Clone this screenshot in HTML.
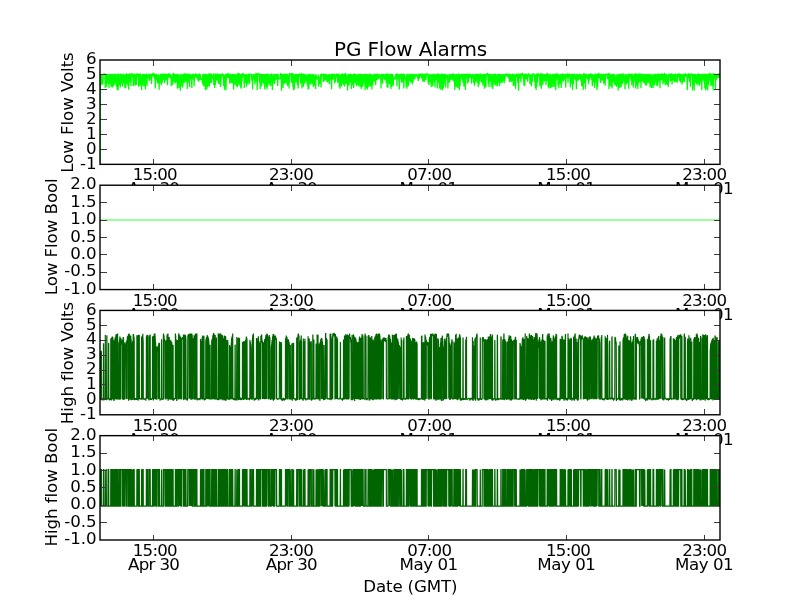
<!DOCTYPE html>
<html><head><meta charset="utf-8"><title>PG Flow Alarms</title>
<style>html,body{margin:0;padding:0;background:#fff;overflow:hidden}svg{display:block}text{font-variant-ligatures:none;font-feature-settings:"liga" 0;font-family:"DejaVu Sans","Liberation Sans",sans-serif;font-size:16.67px;fill:#000}</style></head><body>
<svg width="800" height="600" viewBox="0 0 800 600">
<rect width="800" height="600" fill="#fff"/>
<g>
<rect x="100.00" y="60.00" width="620.00" height="104.35" fill="#fff"/>
<clipPath id="c0"><rect x="100.00" y="60.00" width="620.00" height="104.35"/></clipPath>
<g clip-path="url(#c0)"><polyline points="100.2,167.3 100.2,74.9 100.6,84.4 101.0,74.0 101.4,84.8 101.7,74.6 102.1,84.4 102.5,77.2 102.9,84.6 103.3,74.5 103.6,74.1 104.0,74.2 104.4,73.9 104.8,74.4 105.2,88.0 105.5,74.4 105.9,82.1 106.3,74.3 106.7,87.1 107.1,74.0 107.4,82.5 107.8,74.2 108.2,83.5 108.6,74.2 109.0,88.3 109.3,73.9 109.7,81.5 110.1,73.8 110.5,84.6 110.9,74.2 111.2,87.1 111.6,74.0 112.0,87.3 112.4,73.7 112.8,87.4 113.1,74.4 113.5,86.0 113.9,74.3 114.3,82.4 114.7,73.7 115.0,84.8 115.4,74.0 115.8,81.8 116.2,76.6 116.6,87.3 116.9,73.7 117.3,90.2 117.7,74.0 118.1,90.3 118.5,73.6 118.8,85.3 119.2,74.0 119.6,85.5 120.0,79.4 120.4,87.4 120.7,73.6 121.1,83.7 121.5,73.9 121.9,83.4 122.3,74.6 122.6,86.6 123.0,74.0 123.4,83.4 123.8,73.7 124.2,82.0 124.5,74.4 124.9,88.5 125.3,74.4 125.7,88.1 126.1,74.0 126.4,73.8 126.8,74.1 127.2,84.0 127.6,74.3 128.0,86.6 128.3,74.1 128.7,89.7 129.1,73.7 129.5,74.3 129.9,73.6 130.2,82.3 130.6,78.7 131.0,85.9 131.4,73.8 131.8,73.6 132.1,74.4 132.5,77.4 132.9,73.7 133.3,86.1 133.7,74.5 134.0,82.2 134.4,73.6 134.8,85.2 135.2,74.0 135.6,85.4 135.9,74.4 136.3,85.0 136.7,73.7 137.1,74.3 137.5,73.6 137.8,76.9 138.2,74.1 138.6,86.8 139.0,73.8 139.4,84.4 139.7,73.6 140.1,85.9 140.5,73.6 140.9,84.9 141.3,76.6 141.6,89.9 142.0,74.5 142.4,82.0 142.8,74.0 143.2,86.2 143.5,73.7 143.9,83.9 144.3,74.3 144.7,86.2 145.1,74.0 145.4,89.5 145.8,74.1 146.2,82.2 146.6,73.6 147.0,86.0 147.3,74.2 147.7,78.1 148.1,77.1 148.5,77.7 148.9,73.7 149.2,81.2 149.6,73.8 150.0,79.6 150.4,73.9 150.8,78.2 151.1,73.7 151.5,84.0 151.9,73.7 152.3,74.4 152.7,73.8 153.0,76.3 153.4,73.6 153.8,73.9 154.2,73.9 154.6,78.8 154.9,74.1 155.3,88.6 155.7,74.1 156.1,77.7 156.5,73.8 156.8,80.5 157.2,74.4 157.6,83.5 158.0,76.8 158.4,79.5 158.7,74.2 159.1,89.7 159.5,77.3 159.9,83.5 160.3,74.1 160.6,74.3 161.0,74.3 161.4,85.0 161.8,74.2 162.2,82.8 162.5,73.6 162.9,80.0 163.3,74.3 163.7,74.6 164.1,74.1 164.4,83.2 164.8,73.6 165.2,80.6 165.6,75.7 166.0,77.1 166.3,73.6 166.7,80.1 167.1,74.0 167.5,85.2 167.9,74.0 168.2,78.2 168.6,74.4 169.0,73.7 169.4,74.0 169.8,77.8 170.1,73.7 170.5,78.3 170.9,74.5 171.3,86.1 171.7,78.5 172.0,83.1 172.4,74.6 172.8,85.1 173.2,73.9 173.6,73.6 173.9,74.3 174.3,81.9 174.7,74.0 175.1,83.8 175.5,74.2 175.8,82.1 176.2,74.5 176.6,82.1 177.0,73.8 177.4,88.8 177.7,74.1 178.1,82.7 178.5,74.2 178.9,88.3 179.3,77.5 179.6,84.6 180.0,74.4 180.4,90.7 180.8,73.7 181.2,83.7 181.5,74.6 181.9,85.9 182.3,74.4 182.7,87.6 183.1,73.6 183.4,82.7 183.8,74.5 184.2,83.4 184.6,74.5 185.0,73.7 185.3,73.9 185.7,81.8 186.1,73.7 186.5,82.3 186.9,74.3 187.2,89.1 187.6,73.7 188.0,74.3 188.4,73.8 188.8,82.5 189.1,73.7 189.5,87.1 189.9,73.9 190.3,78.0 190.7,74.5 191.0,79.3 191.4,74.6 191.8,88.1 192.2,74.1 192.6,74.4 192.9,76.3 193.3,79.3 193.7,74.1 194.1,86.3 194.5,74.5 194.8,76.6 195.2,73.8 195.6,74.2 196.0,76.3 196.4,78.3 196.7,73.9 197.1,77.8 197.5,74.5 197.9,80.5 198.3,73.7 198.6,81.8 199.0,73.9 199.4,80.2 199.8,74.3 200.2,74.5 200.5,76.4 200.9,80.1 201.3,79.0 201.7,77.8 202.1,79.8 202.4,83.5 202.8,73.8 203.2,85.5 203.6,74.3 204.0,86.5 204.3,74.1 204.7,86.0 205.1,73.7 205.5,90.3 205.9,74.0 206.2,85.8 206.6,74.2 207.0,89.6 207.4,74.2 207.8,86.9 208.1,76.4 208.5,74.2 208.9,74.4 209.3,86.4 209.7,77.7 210.0,73.9 210.4,73.6 210.8,83.0 211.2,73.8 211.6,82.6 211.9,74.5 212.3,77.4 212.7,75.8 213.1,78.8 213.5,73.6 213.8,85.1 214.2,76.9 214.6,88.0 215.0,73.6 215.4,84.9 215.7,73.7 216.1,74.4 216.5,78.2 216.9,80.7 217.3,74.5 217.6,73.6 218.0,74.2 218.4,83.8 218.8,74.4 219.2,84.5 219.5,73.9 219.9,77.3 220.3,74.5 220.7,87.0 221.1,73.8 221.4,78.7 221.8,74.4 222.2,74.0 222.6,74.1 223.0,73.7 223.3,77.6 223.7,85.9 224.1,74.6 224.5,89.7 224.9,75.6 225.2,86.9 225.6,74.1 226.0,90.5 226.4,73.7 226.8,79.1 227.1,74.0 227.5,73.8 227.9,74.5 228.3,78.0 228.7,73.6 229.0,76.4 229.4,73.6 229.8,83.8 230.2,74.6 230.6,82.7 230.9,73.8 231.3,82.8 231.7,74.4 232.1,83.2 232.5,73.8 232.8,82.4 233.2,74.5 233.6,89.7 234.0,73.9 234.4,84.2 234.7,73.7 235.1,84.9 235.5,74.2 235.9,82.7 236.3,74.5 236.6,86.4 237.0,73.9 237.4,87.1 237.8,73.6 238.2,73.7 238.5,73.7 238.9,85.3 239.3,77.0 239.7,74.3 240.1,74.6 240.4,87.6 240.8,74.3 241.2,88.7 241.6,74.0 242.0,81.6 242.3,73.9 242.7,73.7 243.1,73.7 243.5,77.3 243.9,74.1 244.2,88.1 244.6,74.5 245.0,82.7 245.4,74.5 245.8,83.0 246.1,73.8 246.5,86.9 246.9,74.0 247.3,83.5 247.7,78.6 248.0,84.5 248.4,74.3 248.8,74.5 249.2,74.0 249.6,83.8 249.9,74.4 250.3,74.2 250.7,74.1 251.1,74.3 251.5,74.6 251.8,80.7 252.2,78.3 252.6,89.6 253.0,74.1 253.4,79.2 253.7,74.0 254.1,79.4 254.5,74.1 254.9,84.6 255.3,74.4 255.6,82.1 256.0,73.6 256.4,73.8 256.8,74.4 257.2,89.9 257.5,74.5 257.9,73.9 258.3,74.2 258.7,73.6 259.1,73.9 259.4,82.4 259.8,74.3 260.2,89.3 260.6,74.6 261.0,74.2 261.3,73.9 261.7,86.4 262.1,74.0 262.5,78.5 262.9,74.3 263.2,83.2 263.6,73.9 264.0,84.0 264.4,74.2 264.8,89.4 265.1,74.1 265.5,83.6 265.9,74.0 266.3,87.5 266.7,73.6 267.0,89.6 267.4,73.9 267.8,86.2 268.2,78.3 268.6,73.8 268.9,74.4 269.3,83.6 269.7,77.5 270.1,85.5 270.5,74.0 270.8,86.1 271.2,74.2 271.6,74.5 272.0,73.6 272.4,90.1 272.7,77.5 273.1,83.8 273.5,74.2 273.9,77.0 274.3,74.5 274.6,83.9 275.0,74.1 275.4,79.9 275.8,74.3 276.2,76.4 276.5,74.1 276.9,79.7 277.3,73.8 277.7,86.1 278.1,73.7 278.4,78.8 278.8,78.5 279.2,78.4 279.6,78.6 280.0,78.9 280.3,74.4 280.7,73.7 281.1,74.1 281.5,90.7 281.9,73.8 282.2,77.4 282.6,74.1 283.0,87.9 283.4,74.4 283.8,82.9 284.1,73.6 284.5,83.6 284.9,74.1 285.3,83.5 285.7,73.8 286.0,74.1 286.4,76.9 286.8,83.8 287.2,73.9 287.6,86.0 287.9,74.2 288.3,83.9 288.7,74.5 289.1,88.4 289.5,73.6 289.8,73.6 290.2,73.8 290.6,74.2 291.0,74.1 291.4,82.7 291.7,73.7 292.1,73.8 292.5,73.7 292.9,86.9 293.3,74.3 293.6,90.3 294.0,73.7 294.4,89.5 294.8,79.2 295.2,82.8 295.5,73.9 295.9,82.3 296.3,73.9 296.7,82.3 297.1,74.6 297.4,85.1 297.8,74.1 298.2,88.6 298.6,74.0 299.0,76.6 299.3,73.7 299.7,74.6 300.1,74.1 300.5,83.4 300.9,74.1 301.2,73.7 301.6,74.4 302.0,88.6 302.4,74.4 302.8,74.2 303.1,74.2 303.5,86.7 303.9,73.7 304.3,82.4 304.7,74.1 305.0,83.5 305.4,74.4 305.8,80.6 306.2,74.3 306.6,81.7 306.9,78.1 307.3,85.4 307.7,74.4 308.1,89.6 308.5,73.9 308.8,89.3 309.2,73.9 309.6,82.1 310.0,73.7 310.4,84.5 310.7,73.8 311.1,76.4 311.5,74.6 311.9,84.6 312.3,74.5 312.6,77.8 313.0,73.7 313.4,86.9 313.8,74.3 314.2,85.7 314.5,76.3 314.9,84.4 315.3,74.5 315.7,89.0 316.1,74.2 316.4,78.4 316.8,76.6 317.2,79.2 317.6,78.3 318.0,78.7 318.3,74.4 318.7,86.7 319.1,79.7 319.5,83.8 319.9,76.6 320.2,78.3 320.6,73.9 321.0,87.5 321.4,73.9 321.8,74.6 322.1,74.4 322.5,74.3 322.9,73.8 323.3,81.9 323.7,73.7 324.0,78.6 324.4,74.6 324.8,81.2 325.2,74.4 325.6,74.5 325.9,74.4 326.3,80.2 326.7,74.4 327.1,82.1 327.5,74.6 327.8,82.6 328.2,74.6 328.6,77.9 329.0,74.0 329.4,84.3 329.7,74.3 330.1,78.0 330.5,74.4 330.9,80.5 331.3,74.0 331.6,89.3 332.0,73.9 332.4,80.0 332.8,73.6 333.2,76.3 333.5,74.4 333.9,79.0 334.3,73.9 334.7,83.5 335.1,74.2 335.4,82.0 335.8,74.3 336.2,77.2 336.6,73.6 337.0,77.8 337.3,74.6 337.7,82.7 338.1,74.2 338.5,74.0 338.9,74.6 339.2,87.1 339.6,74.4 340.0,88.8 340.4,76.3 340.8,77.9 341.1,73.7 341.5,86.4 341.9,74.0 342.3,74.5 342.7,73.6 343.0,84.0 343.4,73.9 343.8,85.0 344.2,74.1 344.6,86.6 344.9,73.9 345.3,73.6 345.7,74.3 346.1,84.0 346.5,74.5 346.8,81.3 347.2,77.0 347.6,90.5 348.0,73.7 348.4,84.7 348.7,74.2 349.1,85.8 349.5,74.1 349.9,82.8 350.3,74.4 350.6,74.3 351.0,73.9 351.4,89.0 351.8,74.4 352.2,82.3 352.5,74.5 352.9,85.6 353.3,73.9 353.7,87.9 354.1,74.6 354.4,73.8 354.8,74.5 355.2,83.3 355.6,73.7 356.0,83.7 356.3,74.6 356.7,86.2 357.1,74.4 357.5,82.3 357.9,74.1 358.2,85.3 358.6,73.9 359.0,86.7 359.4,73.9 359.8,82.9 360.1,74.2 360.5,86.8 360.9,73.8 361.3,88.9 361.7,74.3 362.0,86.0 362.4,73.9 362.8,86.9 363.2,74.3 363.6,77.4 363.9,74.3 364.3,83.7 364.7,73.9 365.1,90.2 365.5,74.1 365.8,86.6 366.2,73.9 366.6,88.3 367.0,74.0 367.4,89.6 367.7,74.3 368.1,82.2 368.5,74.5 368.9,87.2 369.3,73.6 369.6,74.5 370.0,73.9 370.4,86.4 370.8,74.5 371.2,85.8 371.5,74.1 371.9,89.4 372.3,74.4 372.7,85.4 373.1,79.3 373.4,81.5 373.8,73.7 374.2,81.8 374.6,74.1 375.0,76.4 375.3,73.7 375.7,85.0 376.1,73.9 376.5,77.2 376.9,73.8 377.2,79.9 377.6,73.6 378.0,77.5 378.4,78.3 378.8,78.0 379.1,74.1 379.5,76.9 379.9,74.6 380.3,79.1 380.7,74.6 381.0,88.6 381.4,74.0 381.8,78.4 382.2,73.9 382.6,83.7 382.9,74.1 383.3,77.1 383.7,73.8 384.1,78.8 384.5,74.6 384.8,80.5 385.2,74.3 385.6,76.5 386.0,73.6 386.4,83.0 386.7,73.7 387.1,87.1 387.5,73.6 387.9,88.1 388.3,74.4 388.6,82.0 389.0,73.7 389.4,84.1 389.8,74.5 390.2,84.2 390.5,73.7 390.9,89.0 391.3,73.8 391.7,86.8 392.1,74.3 392.4,74.6 392.8,74.3 393.2,86.1 393.6,76.5 394.0,77.9 394.3,79.2 394.7,78.3 395.1,79.5 395.5,76.6 395.9,74.2 396.2,74.1 396.6,73.8 397.0,86.6 397.4,73.7 397.8,76.8 398.1,74.0 398.5,79.1 398.9,74.0 399.3,89.6 399.7,77.6 400.0,79.3 400.4,73.8 400.8,77.2 401.2,74.0 401.6,82.8 401.9,73.6 402.3,82.4 402.7,74.3 403.1,78.2 403.5,73.8 403.8,88.6 404.2,74.5 404.6,74.4 405.0,78.0 405.4,79.6 405.7,77.6 406.1,86.9 406.5,74.5 406.9,88.7 407.3,74.4 407.6,74.5 408.0,79.3 408.4,86.1 408.8,74.2 409.2,81.2 409.5,74.0 409.9,80.4 410.3,73.8 410.7,82.5 411.1,74.3 411.4,81.3 411.8,74.2 412.2,84.4 412.6,73.7 413.0,82.8 413.3,73.7 413.7,78.6 414.1,74.1 414.5,78.7 414.9,78.6 415.2,76.9 415.6,74.6 416.0,74.2 416.4,74.4 416.8,76.5 417.1,75.8 417.5,78.2 417.9,74.5 418.3,81.0 418.7,73.9 419.0,78.4 419.4,77.5 419.8,74.2 420.2,74.4 420.6,76.3 420.9,73.9 421.3,78.4 421.7,73.6 422.1,77.7 422.5,73.6 422.8,81.7 423.2,74.0 423.6,81.8 424.0,74.0 424.4,81.8 424.7,73.8 425.1,74.5 425.5,74.4 425.9,80.1 426.3,74.4 426.6,74.3 427.0,73.7 427.4,74.2 427.8,73.9 428.2,83.4 428.5,73.7 428.9,85.1 429.3,74.2 429.7,82.3 430.1,75.8 430.4,81.9 430.8,74.1 431.2,87.0 431.6,74.3 432.0,84.4 432.3,74.5 432.7,86.6 433.1,74.0 433.5,74.5 433.9,74.0 434.2,82.6 434.6,74.4 435.0,87.5 435.4,73.9 435.8,80.0 436.1,75.9 436.5,79.2 436.9,73.8 437.3,88.6 437.7,73.6 438.0,82.0 438.4,73.6 438.8,83.0 439.2,74.5 439.6,88.2 439.9,74.0 440.3,89.4 440.7,74.5 441.1,89.7 441.5,73.6 441.8,86.5 442.2,74.5 442.6,90.3 443.0,73.6 443.4,88.2 443.7,74.1 444.1,84.6 444.5,74.0 444.9,81.8 445.3,74.0 445.6,87.5 446.0,74.0 446.4,78.3 446.8,77.8 447.2,77.5 447.5,74.6 447.9,88.4 448.3,77.8 448.7,78.4 449.1,74.1 449.4,82.6 449.8,73.7 450.2,80.5 450.6,76.8 451.0,76.7 451.3,74.1 451.7,79.7 452.1,74.4 452.5,74.2 452.9,73.6 453.2,81.4 453.6,73.7 454.0,78.8 454.4,73.9 454.8,90.1 455.1,74.2 455.5,85.6 455.9,74.5 456.3,87.0 456.7,73.9 457.0,82.6 457.4,75.6 457.8,88.1 458.2,73.6 458.6,86.3 458.9,74.3 459.3,90.3 459.7,74.1 460.1,85.9 460.5,74.6 460.8,76.3 461.2,74.0 461.6,78.0 462.0,73.7 462.4,80.8 462.7,74.1 463.1,82.9 463.5,73.9 463.9,86.6 464.3,73.7 464.6,85.7 465.0,74.0 465.4,90.0 465.8,73.8 466.2,77.9 466.5,74.3 466.9,74.3 467.3,77.5 467.7,83.5 468.1,73.7 468.4,81.9 468.8,73.9 469.2,78.4 469.6,74.0 470.0,77.8 470.3,74.0 470.7,77.9 471.1,74.2 471.5,83.6 471.9,74.6 472.2,77.5 472.6,73.8 473.0,78.3 473.4,78.6 473.8,83.3 474.1,74.0 474.5,85.8 474.9,74.5 475.3,77.2 475.7,73.8 476.0,82.7 476.4,73.8 476.8,78.7 477.2,74.4 477.6,82.7 477.9,73.8 478.3,87.2 478.7,74.0 479.1,84.8 479.5,74.2 479.8,81.0 480.2,73.7 480.6,76.4 481.0,73.7 481.4,82.7 481.7,74.4 482.1,80.5 482.5,74.6 482.9,85.8 483.3,73.8 483.6,82.8 484.0,73.8 484.4,88.8 484.8,73.8 485.2,86.7 485.5,74.3 485.9,87.6 486.3,74.3 486.7,73.6 487.1,74.5 487.4,73.7 487.8,74.1 488.2,83.8 488.6,73.8 489.0,87.0 489.3,73.7 489.7,81.4 490.1,74.4 490.5,78.8 490.9,74.1 491.2,87.3 491.6,74.0 492.0,82.8 492.4,74.4 492.8,89.0 493.1,74.3 493.5,79.8 493.9,73.7 494.3,84.7 494.7,73.8 495.0,82.1 495.4,73.8 495.8,85.6 496.2,78.7 496.6,83.1 496.9,74.3 497.3,86.6 497.7,73.9 498.1,82.9 498.5,73.8 498.8,81.8 499.2,74.1 499.6,85.9 500.0,73.9 500.4,82.8 500.7,74.2 501.1,81.6 501.5,74.4 501.9,83.4 502.3,74.1 502.6,81.9 503.0,74.2 503.4,76.8 503.8,74.1 504.2,83.2 504.5,74.0 504.9,80.6 505.3,74.3 505.7,76.5 506.1,73.7 506.4,74.5 506.8,73.6 507.2,76.4 507.6,74.5 508.0,77.3 508.3,73.7 508.7,78.4 509.1,73.6 509.5,82.0 509.9,74.4 510.2,79.6 510.6,74.0 511.0,82.1 511.4,74.5 511.8,80.8 512.1,79.7 512.5,74.3 512.9,73.8 513.3,86.1 513.7,74.0 514.0,85.9 514.4,74.5 514.8,83.4 515.2,74.4 515.6,88.7 515.9,74.3 516.3,74.2 516.7,74.3 517.1,76.7 517.5,76.5 517.8,82.7 518.2,73.6 518.6,90.7 519.0,73.9 519.4,74.6 519.7,74.2 520.1,78.6 520.5,73.6 520.9,82.4 521.3,74.2 521.6,74.4 522.0,73.6 522.4,73.7 522.8,73.9 523.2,78.9 523.5,73.9 523.9,85.5 524.3,73.7 524.7,85.9 525.1,74.6 525.4,74.1 525.8,74.4 526.2,79.2 526.6,74.1 527.0,78.5 527.3,74.3 527.7,81.8 528.1,74.5 528.5,73.6 528.9,74.2 529.2,76.4 529.6,74.2 530.0,84.2 530.4,74.2 530.8,83.4 531.1,74.3 531.5,86.6 531.9,74.6 532.3,81.9 532.7,73.6 533.0,73.8 533.4,74.1 533.8,74.3 534.2,74.2 534.6,81.6 534.9,74.6 535.3,87.9 535.7,74.3 536.1,89.9 536.5,73.6 536.8,86.8 537.2,73.7 537.6,81.9 538.0,73.9 538.4,74.1 538.7,74.1 539.1,76.3 539.5,74.2 539.9,86.6 540.3,74.4 540.6,73.9 541.0,73.8 541.4,88.7 541.8,74.5 542.2,74.1 542.5,74.1 542.9,85.0 543.3,74.0 543.7,78.2 544.1,74.1 544.4,81.5 544.8,74.3 545.2,77.8 545.6,74.1 546.0,84.9 546.3,73.8 546.7,81.1 547.1,74.3 547.5,73.6 547.9,74.0 548.2,87.0 548.6,74.3 549.0,88.5 549.4,74.6 549.8,85.8 550.1,73.8 550.5,88.3 550.9,73.9 551.3,87.6 551.7,76.4 552.0,84.3 552.4,74.1 552.8,87.0 553.2,74.6 553.6,82.6 553.9,73.6 554.3,86.9 554.7,73.9 555.1,83.5 555.5,74.0 555.8,90.2 556.2,73.6 556.6,79.5 557.0,74.2 557.4,74.0 557.7,73.9 558.1,85.2 558.5,74.6 558.9,88.2 559.3,74.4 559.6,84.0 560.0,74.0 560.4,82.1 560.8,74.4 561.2,88.0 561.5,74.1 561.9,83.6 562.3,74.1 562.7,74.2 563.1,73.9 563.4,81.2 563.8,73.8 564.2,79.4 564.6,74.5 565.0,78.5 565.3,74.0 565.7,87.5 566.1,73.7 566.5,77.7 566.9,73.7 567.2,74.5 567.6,73.7 568.0,82.8 568.4,73.7 568.8,76.5 569.1,74.2 569.5,77.7 569.9,73.9 570.3,87.3 570.7,77.0 571.0,77.6 571.4,73.7 571.8,83.5 572.2,73.8 572.6,90.1 572.9,74.0 573.3,84.2 573.7,78.5 574.1,74.4 574.5,74.2 574.8,79.0 575.2,74.4 575.6,80.2 576.0,77.5 576.4,89.2 576.7,74.1 577.1,81.7 577.5,74.1 577.9,79.3 578.3,74.2 578.6,80.4 579.0,74.5 579.4,77.9 579.8,73.8 580.2,79.2 580.5,74.1 580.9,80.6 581.3,74.5 581.7,86.1 582.1,74.3 582.4,85.8 582.8,74.2 583.2,90.1 583.6,73.9 584.0,73.7 584.3,74.4 584.7,83.1 585.1,74.3 585.5,89.1 585.9,74.0 586.2,74.2 586.6,74.5 587.0,76.5 587.4,79.2 587.8,76.6 588.1,74.4 588.5,84.3 588.9,74.1 589.3,80.4 589.7,73.9 590.0,78.1 590.4,74.3 590.8,73.6 591.2,74.4 591.6,79.8 591.9,73.9 592.3,86.3 592.7,74.1 593.1,81.6 593.5,79.0 593.8,82.7 594.2,74.5 594.6,87.9 595.0,74.2 595.4,74.2 595.7,74.2 596.1,82.9 596.5,74.5 596.9,90.1 597.3,73.8 597.6,87.3 598.0,73.9 598.4,73.6 598.8,74.2 599.2,78.3 599.5,73.6 599.9,79.2 600.3,74.1 600.7,82.9 601.1,73.7 601.4,80.2 601.8,74.5 602.2,80.4 602.6,73.7 603.0,80.6 603.3,73.9 603.7,83.6 604.1,74.6 604.5,77.5 604.9,74.2 605.2,85.8 605.6,74.0 606.0,74.0 606.4,74.4 606.8,74.3 607.1,74.5 607.5,79.2 607.9,73.9 608.3,73.8 608.7,73.6 609.0,88.9 609.4,74.1 609.8,86.2 610.2,74.3 610.6,74.6 610.9,74.3 611.3,86.9 611.7,74.6 612.1,88.4 612.5,74.2 612.8,81.5 613.2,73.8 613.6,82.0 614.0,73.8 614.4,84.4 614.7,74.6 615.1,85.4 615.5,79.2 615.9,84.4 616.3,74.5 616.6,86.8 617.0,77.4 617.4,83.6 617.8,73.9 618.2,90.4 618.5,74.1 618.9,87.3 619.3,74.4 619.7,87.9 620.1,73.7 620.4,84.1 620.8,74.3 621.2,87.2 621.6,73.6 622.0,83.5 622.3,74.4 622.7,83.9 623.1,73.6 623.5,74.6 623.9,74.2 624.2,81.9 624.6,77.0 625.0,89.3 625.4,73.9 625.8,77.4 626.1,74.5 626.5,84.4 626.9,74.2 627.3,82.9 627.7,74.3 628.0,81.5 628.4,73.6 628.8,88.8 629.2,73.8 629.6,77.8 629.9,73.8 630.3,77.9 630.7,73.7 631.1,80.6 631.5,73.9 631.8,85.2 632.2,73.6 632.6,83.2 633.0,75.9 633.4,87.5 633.7,74.2 634.1,81.8 634.5,73.7 634.9,74.2 635.3,74.1 635.6,88.6 636.0,74.3 636.4,84.7 636.8,73.6 637.2,86.0 637.5,73.9 637.9,89.0 638.3,73.9 638.7,83.5 639.1,73.9 639.4,74.0 639.8,74.5 640.2,82.3 640.6,74.3 641.0,88.2 641.3,73.6 641.7,74.6 642.1,74.5 642.5,81.4 642.9,74.6 643.2,81.9 643.6,74.1 644.0,83.6 644.4,74.2 644.8,83.0 645.1,74.1 645.5,85.2 645.9,74.1 646.3,85.8 646.7,74.4 647.0,77.4 647.4,74.1 647.8,83.1 648.2,74.3 648.6,78.4 648.9,73.9 649.3,83.5 649.7,74.3 650.1,87.6 650.5,74.2 650.8,85.1 651.2,73.8 651.6,88.1 652.0,79.8 652.4,85.3 652.7,74.4 653.1,88.0 653.5,74.4 653.9,84.2 654.3,73.8 654.6,85.5 655.0,74.5 655.4,78.4 655.8,73.8 656.2,83.1 656.5,74.5 656.9,86.3 657.3,74.0 657.7,85.8 658.1,73.7 658.4,74.0 658.8,74.2 659.2,81.6 659.6,74.0 660.0,88.2 660.3,73.9 660.7,80.4 661.1,73.6 661.5,80.3 661.9,73.8 662.2,74.5 662.6,73.7 663.0,84.4 663.4,73.7 663.8,82.8 664.1,74.6 664.5,73.6 664.9,73.9 665.3,85.2 665.7,74.2 666.0,84.6 666.4,74.1 666.8,84.1 667.2,78.5 667.6,84.9 667.9,74.2 668.3,86.9 668.7,74.6 669.1,74.4 669.5,74.5 669.8,73.9 670.2,79.6 670.6,81.5 671.0,74.0 671.4,73.9 671.7,74.3 672.1,84.5 672.5,73.9 672.9,78.1 673.3,74.4 673.6,80.8 674.0,74.4 674.4,82.1 674.8,73.9 675.2,74.2 675.5,74.3 675.9,82.4 676.3,79.5 676.7,76.3 677.1,73.8 677.4,82.4 677.8,73.7 678.2,74.4 678.6,77.2 679.0,73.9 679.3,73.6 679.7,81.0 680.1,73.6 680.5,82.5 680.9,74.1 681.2,80.8 681.6,74.5 682.0,84.5 682.4,74.3 682.8,82.6 683.1,74.4 683.5,74.4 683.9,74.3 684.3,82.2 684.7,74.1 685.0,76.7 685.4,73.6 685.8,74.6 686.2,73.8 686.6,77.0 686.9,74.1 687.3,90.3 687.7,74.4 688.1,78.6 688.5,73.8 688.8,73.9 689.2,77.0 689.6,81.9 690.0,73.7 690.4,86.7 690.7,74.5 691.1,74.0 691.5,73.9 691.9,74.4 692.3,73.8 692.6,90.4 693.0,73.7 693.4,84.1 693.8,74.0 694.2,90.5 694.5,74.3 694.9,78.1 695.3,74.0 695.7,82.7 696.1,73.9 696.4,84.3 696.8,78.9 697.2,82.8 697.6,73.8 698.0,85.6 698.3,73.7 698.7,74.1 699.1,74.4 699.5,85.6 699.9,74.4 700.2,83.0 700.6,74.1 701.0,80.1 701.4,74.0 701.8,89.9 702.1,74.4 702.5,80.3 702.9,73.7 703.3,78.2 703.7,74.4 704.0,81.7 704.4,73.8 704.8,88.3 705.2,73.7 705.6,90.2 705.9,73.7 706.3,89.0 706.7,74.1 707.1,84.0 707.5,74.4 707.8,90.4 708.2,73.6 708.6,84.7 709.0,74.2 709.4,73.7 709.7,73.7 710.1,80.6 710.5,73.9 710.9,86.1 711.3,73.6 711.6,80.3 712.0,73.8 712.4,86.2 712.8,73.8 713.2,90.4 713.5,73.8 713.9,74.0 714.3,73.7 714.7,78.6 715.1,73.8 715.4,89.7 715.8,74.5 716.2,77.2 716.6,79.7 717.0,77.6 717.3,74.4 717.7,77.7 718.1,74.0 718.5,74.0 718.9,74.1 719.2,78.0 719.6,74.1 720.0,73.6" fill="none" stroke="#00ff00" stroke-width="1.25" stroke-linejoin="miter" stroke-miterlimit="2"/></g>
<path d="M153.40 164.35v-5.5M153.40 60.00v5.5M291.15 164.35v-5.5M291.15 60.00v5.5M428.90 164.35v-5.5M428.90 60.00v5.5M566.65 164.35v-5.5M566.65 60.00v5.5M704.40 164.35v-5.5M704.40 60.00v5.5M100.00 149.44h6.9M720.00 149.44h-6.3M100.00 134.53h6.9M720.00 134.53h-6.3M100.00 119.63h6.9M720.00 119.63h-6.3M100.00 104.72h6.9M720.00 104.72h-6.3M100.00 89.81h6.9M720.00 89.81h-6.3M100.00 74.91h6.9M720.00 74.91h-6.3" stroke="#3c3c3c" stroke-width="1" fill="none" shape-rendering="crispEdges"/>
<rect x="100.00" y="60.00" width="620.00" height="104.35" fill="none" stroke="#000" stroke-width="1.39"/>
<text x="154.80" y="179.75" text-anchor="middle" style="letter-spacing:-0.8px">15:00</text><text x="153.60" y="193.75" text-anchor="middle" style="letter-spacing:-0.65px">Apr 30</text>
<text x="290.95" y="179.75" text-anchor="middle" style="letter-spacing:-0.8px">23:00</text><text x="291.35" y="193.75" text-anchor="middle" style="letter-spacing:-0.65px">Apr 30</text>
<text x="429.20" y="179.75" text-anchor="middle" style="letter-spacing:-0.8px">07:00</text><text x="428.60" y="193.75" text-anchor="middle" style="letter-spacing:-0.45px">May 01</text>
<text x="568.05" y="179.75" text-anchor="middle" style="letter-spacing:-0.8px">15:00</text><text x="566.35" y="193.75" text-anchor="middle" style="letter-spacing:-0.45px">May 01</text>
<text x="704.20" y="179.75" text-anchor="middle" style="letter-spacing:-0.8px">23:00</text><text x="704.10" y="193.75" text-anchor="middle" style="letter-spacing:-0.45px">May 01</text>
<text x="96.70" y="168.55" text-anchor="end">-1</text><text x="96.70" y="153.64" text-anchor="end">0</text><text x="96.70" y="138.73" text-anchor="end">1</text><text x="96.70" y="123.83" text-anchor="end">2</text><text x="96.70" y="108.92" text-anchor="end">3</text><text x="96.70" y="94.01" text-anchor="end">4</text><text x="96.70" y="79.11" text-anchor="end">5</text><text x="96.70" y="64.20" text-anchor="end">6</text>
<text transform="translate(73.20 112.57) rotate(-90)" text-anchor="middle" style="letter-spacing:-0.07px">Low Flow Volts</text>
<text x="410.5" y="55.7" text-anchor="middle" style="font-size:20px;letter-spacing:-0.16px">PG Flow Alarms</text>
</g>
<g>
<rect x="100.00" y="185.22" width="620.00" height="104.35" fill="#fff"/>
<clipPath id="c1"><rect x="100.00" y="185.22" width="620.00" height="104.35"/></clipPath>
<g clip-path="url(#c1)"><polyline points="100.0,220.0 720.0,220.0" fill="none" stroke="#78ff78" stroke-width="1.39" stroke-linejoin="miter" stroke-miterlimit="2"/></g>
<path d="M153.40 289.57v-5.5M153.40 185.22v5.5M291.15 289.57v-5.5M291.15 185.22v5.5M428.90 289.57v-5.5M428.90 185.22v5.5M566.65 289.57v-5.5M566.65 185.22v5.5M704.40 289.57v-5.5M704.40 185.22v5.5M100.00 272.17h6.9M720.00 272.17h-6.3M100.00 254.78h6.9M720.00 254.78h-6.3M100.00 237.39h6.9M720.00 237.39h-6.3M100.00 220.00h6.9M720.00 220.00h-6.3M100.00 202.61h6.9M720.00 202.61h-6.3" stroke="#3c3c3c" stroke-width="1" fill="none" shape-rendering="crispEdges"/>
<rect x="100.00" y="185.22" width="620.00" height="104.35" fill="none" stroke="#000" stroke-width="1.39"/>
<text x="154.80" y="305.97" text-anchor="middle" style="letter-spacing:-0.8px">15:00</text><text x="153.60" y="319.97" text-anchor="middle" style="letter-spacing:-0.65px">Apr 30</text>
<text x="290.95" y="305.97" text-anchor="middle" style="letter-spacing:-0.8px">23:00</text><text x="291.35" y="319.97" text-anchor="middle" style="letter-spacing:-0.65px">Apr 30</text>
<text x="429.20" y="305.97" text-anchor="middle" style="letter-spacing:-0.8px">07:00</text><text x="428.60" y="319.97" text-anchor="middle" style="letter-spacing:-0.45px">May 01</text>
<text x="568.05" y="305.97" text-anchor="middle" style="letter-spacing:-0.8px">15:00</text><text x="566.35" y="319.97" text-anchor="middle" style="letter-spacing:-0.45px">May 01</text>
<text x="704.20" y="305.97" text-anchor="middle" style="letter-spacing:-0.8px">23:00</text><text x="704.10" y="319.97" text-anchor="middle" style="letter-spacing:-0.45px">May 01</text>
<text x="96.70" y="293.77" text-anchor="end">-1.0</text><text x="96.70" y="276.37" text-anchor="end">-0.5</text><text x="96.70" y="258.98" text-anchor="end">0.0</text><text x="96.70" y="241.59" text-anchor="end">0.5</text><text x="96.70" y="224.20" text-anchor="end">1.0</text><text x="96.70" y="206.81" text-anchor="end">1.5</text><text x="96.70" y="189.42" text-anchor="end">2.0</text>
<text transform="translate(57.00 236.79) rotate(-90)" text-anchor="middle" style="letter-spacing:-0.07px">Low Flow Bool</text>
</g>
<g>
<rect x="100.00" y="310.43" width="620.00" height="104.35" fill="#fff"/>
<clipPath id="c2"><rect x="100.00" y="310.43" width="620.00" height="104.35"/></clipPath>
<g clip-path="url(#c2)"><polyline points="100.4,353.9 100.5,399.4 100.7,353.8 100.8,351.0 100.9,399.4 101.0,398.7 101.2,398.4 101.3,350.7 101.4,353.6 101.6,398.7 101.7,399.1 101.8,399.4 102.0,399.0 102.1,398.8 102.2,400.5 102.3,398.5 102.5,398.5 102.6,398.8 102.7,398.9 102.9,398.3 103.0,398.6 103.1,399.3 103.3,399.7 103.4,398.7 103.5,343.3 103.6,344.9 103.8,398.8 103.9,400.4 104.0,399.3 104.2,398.4 104.3,399.4 104.4,399.3 104.6,398.5 104.7,398.5 104.8,399.4 104.9,398.4 105.1,398.8 105.2,398.4 105.3,334.9 105.5,399.0 105.6,399.5 105.7,398.5 105.9,398.7 106.0,398.5 106.1,398.3 106.2,398.5 106.4,399.0 106.5,398.2 106.6,400.3 106.8,335.4 106.9,335.7 107.0,398.6 107.2,398.5 107.3,398.9 107.4,398.6 107.5,399.1 107.7,398.5 107.8,398.9 107.9,399.3 108.1,399.1 108.2,399.4 108.3,398.6 108.5,399.2 108.6,342.9 108.7,345.2 108.8,399.2 109.0,399.0 109.1,399.3 109.2,398.7 109.4,399.2 109.5,398.8 109.6,400.5 109.8,398.9 109.9,398.7 110.0,398.7 110.1,399.0 110.3,399.5 110.4,399.3 110.5,399.2 110.7,399.3 110.8,338.4 110.9,339.8 111.1,338.7 111.2,339.3 111.3,339.7 111.4,338.1 111.6,400.5 111.7,399.0 111.8,399.0 112.0,337.5 112.1,336.9 112.2,398.5 112.4,336.5 112.5,398.4 112.6,399.2 112.7,337.9 112.9,337.4 113.0,341.9 113.1,398.8 113.3,399.3 113.4,342.2 113.5,340.3 113.7,342.9 113.8,343.8 113.9,399.0 114.0,400.9 114.2,398.4 114.3,341.7 114.4,341.9 114.6,341.1 114.7,341.5 114.8,340.7 115.0,338.9 115.1,337.6 115.2,399.0 115.3,399.1 115.5,339.6 115.6,339.0 115.7,337.6 115.9,336.1 116.0,334.5 116.1,398.5 116.3,399.3 116.4,398.7 116.5,336.7 116.6,336.8 116.8,334.1 116.9,337.2 117.0,398.8 117.2,399.1 117.3,399.3 117.4,336.8 117.6,333.5 117.7,399.3 117.8,398.7 117.9,399.4 118.1,341.7 118.2,345.1 118.3,399.3 118.5,399.1 118.6,398.8 118.7,398.3 118.9,398.9 119.0,398.4 119.1,398.5 119.2,398.6 119.4,398.3 119.5,339.3 119.6,340.9 119.8,339.0 119.9,336.6 120.0,399.2 120.2,399.2 120.3,398.8 120.4,398.6 120.5,339.8 120.7,343.7 120.8,337.8 120.9,340.6 121.1,341.3 121.2,339.5 121.3,344.8 121.5,341.7 121.6,343.1 121.7,341.6 121.8,340.6 122.0,341.8 122.1,399.1 122.2,398.9 122.4,340.2 122.5,399.0 122.6,339.8 122.8,398.8 122.9,339.9 123.0,338.5 123.1,400.1 123.3,337.1 123.4,338.0 123.5,338.1 123.7,398.8 123.8,399.4 123.9,399.2 124.1,399.0 124.2,398.3 124.3,398.7 124.4,342.6 124.6,343.4 124.7,398.4 124.8,399.4 125.0,348.3 125.1,345.7 125.2,347.1 125.4,346.5 125.5,345.7 125.6,344.9 125.7,345.6 125.9,344.4 126.0,343.9 126.1,341.4 126.3,398.4 126.4,342.1 126.5,399.1 126.7,398.3 126.8,399.2 126.9,340.0 127.0,398.5 127.2,398.5 127.3,339.7 127.4,336.8 127.6,336.7 127.7,339.8 127.8,336.0 128.0,340.4 128.1,336.6 128.2,337.5 128.3,335.7 128.5,334.3 128.6,400.7 128.7,398.7 128.9,399.2 129.0,333.5 129.1,336.2 129.3,334.6 129.4,334.1 129.5,398.6 129.6,398.7 129.8,398.3 129.9,399.4 130.0,399.2 130.2,399.3 130.3,398.7 130.4,398.9 130.6,335.6 130.7,335.9 130.8,336.5 130.9,340.2 131.1,340.3 131.2,339.4 131.3,344.7 131.5,398.3 131.6,400.3 131.7,345.6 131.9,398.3 132.0,343.4 132.1,398.8 132.2,398.4 132.4,343.0 132.5,398.8 132.6,341.3 132.8,399.2 132.9,398.3 133.0,400.0 133.2,333.9 133.3,398.3 133.4,398.4 133.5,334.4 133.7,336.3 133.8,336.7 133.9,337.3 134.1,338.2 134.2,341.9 134.3,398.6 134.5,400.2 134.6,399.3 134.7,398.9 134.8,398.4 135.0,399.3 135.1,399.4 135.2,398.7 135.4,398.3 135.5,399.3 135.6,398.5 135.8,398.2 135.9,399.3 136.0,399.3 136.1,398.7 136.3,399.4 136.4,399.5 136.5,399.1 136.7,399.3 136.8,398.4 136.9,335.3 137.1,398.7 137.2,400.0 137.3,338.1 137.4,338.1 137.6,337.5 137.7,337.1 137.8,336.8 138.0,335.2 138.1,400.8 138.2,337.2 138.4,334.8 138.5,338.4 138.6,398.7 138.7,398.8 138.9,399.0 139.0,336.6 139.1,337.6 139.3,335.0 139.4,398.7 139.5,398.7 139.7,398.9 139.8,399.4 139.9,399.1 140.0,398.4 140.2,398.7 140.3,399.1 140.4,398.8 140.6,398.5 140.7,399.0 140.8,398.4 141.0,398.3 141.1,399.3 141.2,399.4 141.3,398.6 141.5,398.9 141.6,336.7 141.7,398.5 141.9,336.8 142.0,336.7 142.1,337.4 142.3,399.2 142.4,399.4 142.5,336.4 142.6,336.5 142.8,333.7 142.9,338.2 143.0,338.4 143.2,342.8 143.3,399.1 143.4,398.3 143.6,399.4 143.7,399.2 143.8,398.8 143.9,398.3 144.1,399.3 144.2,399.9 144.3,398.7 144.5,399.4 144.6,398.4 144.7,399.4 144.9,398.3 145.0,399.2 145.1,398.3 145.2,398.7 145.4,399.3 145.5,398.5 145.6,399.3 145.8,398.6 145.9,400.8 146.0,398.3 146.2,398.4 146.3,398.7 146.4,337.8 146.5,336.8 146.7,336.7 146.8,336.0 146.9,335.0 147.1,335.9 147.2,398.3 147.3,336.0 147.5,336.8 147.6,398.8 147.7,335.1 147.8,398.6 148.0,398.3 148.1,398.4 148.2,399.0 148.4,398.6 148.5,399.1 148.6,398.6 148.8,399.2 148.9,398.6 149.0,400.5 149.1,337.5 149.3,335.9 149.4,337.1 149.5,336.7 149.7,337.8 149.8,335.2 149.9,335.5 150.1,334.6 150.2,337.7 150.3,399.9 150.4,398.9 150.6,398.8 150.7,398.6 150.8,399.1 151.0,398.8 151.1,398.6 151.2,399.0 151.4,399.4 151.5,399.4 151.6,398.3 151.7,399.2 151.9,399.1 152.0,398.7 152.1,398.5 152.3,398.4 152.4,398.5 152.5,337.3 152.7,399.0 152.8,339.2 152.9,336.1 153.0,337.5 153.2,339.6 153.3,398.4 153.4,400.4 153.6,398.8 153.7,399.1 153.8,398.6 154.0,398.3 154.1,339.0 154.2,334.0 154.3,338.4 154.5,336.0 154.6,399.0 154.7,333.5 154.9,334.2 155.0,336.3 155.1,336.2 155.3,340.3 155.4,341.8 155.5,341.6 155.6,343.4 155.8,398.4 155.9,399.5 156.0,399.0 156.2,398.7 156.3,398.4 156.4,346.4 156.6,399.0 156.7,399.8 156.8,348.2 156.9,348.9 157.1,347.1 157.2,347.6 157.3,347.1 157.5,349.2 157.6,352.3 157.7,348.3 157.9,347.8 158.0,346.2 158.1,345.9 158.2,399.2 158.4,398.3 158.5,345.5 158.6,344.6 158.8,347.3 158.9,342.8 159.0,398.4 159.2,344.5 159.3,342.7 159.4,344.7 159.5,343.0 159.7,399.0 159.8,398.5 159.9,398.2 160.1,400.8 160.2,399.3 160.3,399.0 160.5,398.4 160.6,398.7 160.7,398.9 160.8,399.1 161.0,398.9 161.1,399.3 161.2,398.5 161.4,399.4 161.5,399.3 161.6,339.3 161.8,399.4 161.9,399.3 162.0,398.9 162.1,398.9 162.3,398.9 162.4,399.1 162.5,399.2 162.7,398.8 162.8,398.6 162.9,399.9 163.1,398.3 163.2,398.9 163.3,398.8 163.4,335.6 163.6,333.5 163.7,398.6 163.8,336.7 164.0,335.5 164.1,339.5 164.2,338.9 164.4,339.6 164.5,340.6 164.6,339.5 164.7,340.3 164.9,340.8 165.0,341.3 165.1,341.8 165.3,398.3 165.4,399.1 165.5,399.3 165.7,340.5 165.8,342.7 165.9,398.5 166.0,398.9 166.2,398.6 166.3,399.3 166.4,398.3 166.6,398.7 166.7,340.3 166.8,398.5 167.0,335.5 167.1,398.8 167.2,335.1 167.3,334.4 167.5,398.6 167.6,398.3 167.7,398.4 167.9,334.6 168.0,333.5 168.1,400.7 168.3,398.4 168.4,398.7 168.5,337.7 168.6,338.5 168.8,336.9 168.9,398.8 169.0,399.3 169.2,337.1 169.3,399.1 169.4,340.2 169.6,340.2 169.7,340.0 169.8,339.4 169.9,398.8 170.1,399.3 170.2,341.1 170.3,342.0 170.5,340.3 170.6,399.2 170.7,340.2 170.9,399.2 171.0,399.4 171.1,398.6 171.2,399.3 171.4,398.3 171.5,341.4 171.6,344.3 171.8,342.4 171.9,398.8 172.0,399.6 172.2,399.0 172.3,399.2 172.4,398.4 172.5,398.7 172.7,399.2 172.8,399.8 172.9,345.2 173.1,344.9 173.2,400.9 173.3,398.6 173.5,398.2 173.6,398.8 173.7,399.5 173.8,398.4 174.0,399.7 174.1,399.2 174.2,399.3 174.4,399.2 174.5,399.2 174.6,398.7 174.8,398.3 174.9,398.6 175.0,398.4 175.1,398.5 175.3,399.1 175.4,333.5 175.5,337.6 175.7,335.4 175.8,398.6 175.9,398.5 176.1,339.4 176.2,341.1 176.3,340.2 176.4,398.6 176.6,398.4 176.7,400.9 176.8,399.3 177.0,344.4 177.1,345.2 177.2,343.3 177.4,343.9 177.5,341.0 177.6,340.1 177.7,341.7 177.9,341.6 178.0,341.0 178.1,398.8 178.3,398.9 178.4,398.6 178.5,337.7 178.7,334.4 178.8,333.9 178.9,333.5 179.0,336.1 179.2,336.5 179.3,399.3 179.4,335.9 179.6,398.4 179.7,335.4 179.8,336.8 180.0,336.3 180.1,338.9 180.2,339.3 180.3,399.0 180.5,336.7 180.6,339.4 180.7,337.6 180.9,338.6 181.0,399.0 181.1,399.2 181.3,398.6 181.4,398.6 181.5,399.4 181.6,399.1 181.8,398.3 181.9,338.5 182.0,338.6 182.2,338.1 182.3,338.3 182.4,337.6 182.6,337.3 182.7,339.4 182.8,336.9 182.9,337.5 183.1,338.5 183.2,337.6 183.3,338.4 183.5,334.6 183.6,399.2 183.7,399.3 183.9,398.7 184.0,335.6 184.1,336.1 184.2,337.7 184.4,334.8 184.5,398.3 184.6,399.2 184.8,335.8 184.9,334.5 185.0,399.4 185.2,336.8 185.3,335.1 185.4,398.4 185.5,398.5 185.7,336.2 185.8,338.4 185.9,339.2 186.1,398.8 186.2,399.2 186.3,399.2 186.5,398.4 186.6,399.0 186.7,399.4 186.8,399.2 187.0,399.8 187.1,398.5 187.2,400.7 187.4,399.3 187.5,399.0 187.6,398.8 187.8,339.1 187.9,335.4 188.0,338.1 188.1,335.7 188.3,334.3 188.4,335.5 188.5,337.8 188.7,337.5 188.8,336.7 188.9,336.9 189.1,335.6 189.2,398.7 189.3,337.3 189.4,334.1 189.6,338.2 189.7,336.9 189.8,333.5 190.0,398.7 190.1,333.8 190.2,334.8 190.4,333.5 190.5,336.4 190.6,333.5 190.7,335.1 190.9,334.8 191.0,335.1 191.1,400.0 191.3,333.5 191.4,336.3 191.5,334.8 191.7,335.0 191.8,333.5 191.9,337.5 192.0,335.5 192.2,334.9 192.3,398.7 192.4,399.2 192.6,398.4 192.7,398.4 192.8,338.2 193.0,399.1 193.1,399.4 193.2,338.5 193.3,341.1 193.5,338.7 193.6,338.6 193.7,341.3 193.9,338.8 194.0,339.3 194.1,335.3 194.3,338.2 194.4,398.4 194.5,398.6 194.6,398.4 194.8,399.7 194.9,398.5 195.0,336.6 195.2,336.6 195.3,337.2 195.4,333.7 195.6,336.9 195.7,333.5 195.8,398.6 195.9,399.0 196.1,398.8 196.2,399.1 196.3,398.4 196.5,398.6 196.6,398.7 196.7,334.2 196.9,334.2 197.0,398.3 197.1,398.9 197.2,400.5 197.4,399.4 197.5,398.5 197.6,399.1 197.8,399.0 197.9,398.3 198.0,398.6 198.2,399.4 198.3,399.3 198.4,399.1 198.5,398.6 198.7,398.6 198.8,398.8 198.9,399.7 199.1,398.7 199.2,399.0 199.3,399.0 199.5,398.8 199.6,399.1 199.7,399.4 199.8,400.2 200.0,398.4 200.1,398.5 200.2,399.1 200.4,398.2 200.5,339.3 200.6,399.0 200.8,338.7 200.9,399.1 201.0,341.0 201.1,342.4 201.3,398.4 201.4,399.2 201.5,341.1 201.7,398.6 201.8,342.6 201.9,398.7 202.1,398.5 202.2,399.4 202.3,336.9 202.4,337.0 202.6,399.0 202.7,335.5 202.8,337.7 203.0,398.4 203.1,399.1 203.2,399.3 203.4,398.3 203.5,399.0 203.6,398.4 203.7,338.9 203.9,335.7 204.0,340.9 204.1,399.3 204.3,398.8 204.4,400.5 204.5,398.6 204.7,399.3 204.8,399.3 204.9,399.3 205.0,398.4 205.2,399.7 205.3,398.7 205.4,398.5 205.6,399.4 205.7,399.2 205.8,340.1 206.0,342.1 206.1,339.4 206.2,338.7 206.3,338.4 206.5,337.5 206.6,398.6 206.7,398.9 206.9,398.4 207.0,398.6 207.1,335.3 207.3,335.6 207.4,398.5 207.5,337.6 207.6,336.2 207.8,338.6 207.9,336.5 208.0,338.4 208.2,399.2 208.3,339.1 208.4,338.1 208.6,340.5 208.7,339.8 208.8,343.6 208.9,342.5 209.1,398.7 209.2,398.8 209.3,398.4 209.5,398.5 209.6,344.8 209.7,399.3 209.9,399.1 210.0,347.0 210.1,344.8 210.2,398.2 210.4,399.0 210.5,398.3 210.6,398.7 210.8,399.0 210.9,398.5 211.0,399.3 211.2,398.9 211.3,398.9 211.4,398.4 211.5,398.5 211.7,341.8 211.8,340.6 211.9,340.2 212.1,340.4 212.2,340.2 212.3,338.5 212.5,399.3 212.6,398.9 212.7,337.7 212.8,335.2 213.0,399.4 213.1,398.5 213.2,399.1 213.4,335.7 213.5,333.5 213.6,333.5 213.8,398.8 213.9,333.5 214.0,334.4 214.1,398.3 214.3,335.0 214.4,398.7 214.5,399.5 214.7,398.5 214.8,335.3 214.9,336.1 215.1,335.3 215.2,335.1 215.3,399.3 215.4,399.2 215.6,398.5 215.7,398.3 215.8,399.3 216.0,398.5 216.1,398.5 216.2,339.0 216.4,337.5 216.5,399.4 216.6,398.6 216.7,398.5 216.9,399.1 217.0,398.4 217.1,399.2 217.3,399.4 217.4,399.1 217.5,398.6 217.7,399.2 217.8,400.0 217.9,399.4 218.0,398.4 218.2,335.3 218.3,333.5 218.4,336.1 218.6,336.8 218.7,398.8 218.8,398.8 219.0,400.1 219.1,399.0 219.2,399.2 219.3,398.5 219.5,333.5 219.6,335.6 219.7,334.3 219.9,335.3 220.0,398.5 220.1,399.0 220.3,398.3 220.4,398.6 220.5,399.3 220.6,398.9 220.8,333.5 220.9,335.7 221.0,334.3 221.2,399.3 221.3,398.7 221.4,399.2 221.6,398.6 221.7,398.6 221.8,398.8 221.9,336.5 222.1,334.9 222.2,337.4 222.3,335.3 222.5,336.4 222.6,336.9 222.7,398.8 222.9,400.3 223.0,398.4 223.1,400.2 223.2,399.3 223.4,398.3 223.5,399.2 223.6,339.9 223.8,338.7 223.9,338.0 224.0,340.2 224.2,398.8 224.3,336.4 224.4,335.6 224.5,399.4 224.7,399.4 224.8,398.5 224.9,399.1 225.1,398.8 225.2,400.8 225.3,336.2 225.5,337.0 225.6,338.3 225.7,336.4 225.8,398.2 226.0,400.7 226.1,400.1 226.2,398.5 226.4,339.9 226.5,398.8 226.6,398.3 226.8,398.7 226.9,398.9 227.0,399.0 227.1,342.7 227.3,342.3 227.4,345.4 227.5,398.8 227.7,339.8 227.8,398.5 227.9,341.8 228.1,399.2 228.2,399.4 228.3,399.2 228.4,398.5 228.6,399.6 228.7,398.3 228.8,398.7 229.0,398.3 229.1,398.4 229.2,399.8 229.4,398.5 229.5,399.3 229.6,345.0 229.7,346.1 229.9,399.2 230.0,398.3 230.1,398.5 230.3,398.6 230.4,347.9 230.5,349.5 230.7,348.4 230.8,399.3 230.9,346.4 231.0,398.4 231.2,398.4 231.3,342.7 231.4,398.4 231.6,338.6 231.7,340.2 231.8,338.5 232.0,336.7 232.1,399.1 232.2,399.4 232.3,336.1 232.5,335.6 232.6,398.8 232.7,333.5 232.9,398.3 233.0,398.8 233.1,399.2 233.3,398.8 233.4,398.3 233.5,398.6 233.6,399.3 233.8,399.4 233.9,398.3 234.0,399.3 234.2,399.4 234.3,399.2 234.4,398.7 234.6,399.4 234.7,398.7 234.8,398.9 234.9,400.4 235.1,344.7 235.2,345.3 235.3,399.0 235.5,398.5 235.6,398.8 235.7,398.4 235.9,399.2 236.0,400.2 236.1,398.3 236.2,398.9 236.4,399.3 236.5,398.8 236.6,398.4 236.8,337.0 236.9,400.6 237.0,398.2 237.2,399.1 237.3,399.0 237.4,399.4 237.5,399.1 237.7,399.3 237.8,398.4 237.9,398.5 238.1,337.9 238.2,338.4 238.3,338.4 238.5,398.6 238.6,399.3 238.7,399.3 238.8,337.4 239.0,398.5 239.1,398.3 239.2,399.2 239.4,338.9 239.5,338.3 239.6,398.7 239.8,398.5 239.9,399.1 240.0,398.3 240.1,400.2 240.3,398.5 240.4,398.4 240.5,398.3 240.7,398.7 240.8,398.5 240.9,399.3 241.1,399.4 241.2,398.3 241.3,398.3 241.4,398.5 241.6,399.2 241.7,399.8 241.8,399.3 242.0,399.1 242.1,398.4 242.2,398.5 242.4,398.9 242.5,343.9 242.6,342.4 242.7,344.6 242.9,341.7 243.0,342.8 243.1,344.3 243.3,343.7 243.4,344.3 243.5,399.9 243.7,343.0 243.8,344.3 243.9,340.9 244.0,398.5 244.2,399.3 244.3,342.8 244.4,341.4 244.6,399.0 244.7,398.8 244.8,399.4 245.0,398.6 245.1,399.0 245.2,399.4 245.3,342.0 245.5,340.8 245.6,340.6 245.7,342.0 245.9,340.8 246.0,398.8 246.1,339.4 246.3,339.5 246.4,336.5 246.5,339.6 246.6,399.9 246.8,398.8 246.9,338.3 247.0,341.4 247.2,398.6 247.3,399.3 247.4,399.0 247.6,398.5 247.7,398.5 247.8,398.8 247.9,399.4 248.1,398.8 248.2,399.0 248.3,398.6 248.5,398.6 248.6,399.0 248.7,398.9 248.9,399.1 249.0,399.0 249.1,399.2 249.2,398.8 249.4,398.9 249.5,400.3 249.6,399.3 249.8,398.7 249.9,339.9 250.0,340.3 250.2,399.0 250.3,342.4 250.4,343.4 250.5,344.5 250.7,344.2 250.8,346.9 250.9,346.7 251.1,398.5 251.2,399.3 251.3,398.9 251.5,398.3 251.6,398.4 251.7,398.7 251.8,399.7 252.0,398.9 252.1,399.0 252.2,340.5 252.4,399.4 252.5,337.4 252.6,339.1 252.8,334.9 252.9,337.5 253.0,335.5 253.1,337.4 253.3,337.0 253.4,333.5 253.5,338.0 253.7,399.2 253.8,398.9 253.9,398.6 254.1,399.3 254.2,400.8 254.3,399.3 254.4,399.0 254.6,398.3 254.7,398.9 254.8,399.3 255.0,398.4 255.1,399.3 255.2,398.4 255.4,398.5 255.5,400.0 255.6,399.8 255.7,399.0 255.9,399.8 256.0,398.7 256.1,399.0 256.3,398.3 256.4,399.2 256.5,338.0 256.7,339.2 256.8,340.1 256.9,338.4 257.0,339.3 257.2,342.3 257.3,398.4 257.4,398.9 257.6,398.3 257.7,398.6 257.8,398.3 258.0,398.8 258.1,399.4 258.2,399.0 258.3,336.2 258.5,342.2 258.6,344.9 258.7,400.4 258.9,340.7 259.0,343.0 259.1,398.8 259.3,398.4 259.4,398.9 259.5,398.5 259.6,344.9 259.8,398.9 259.9,344.9 260.0,342.4 260.2,399.0 260.3,399.0 260.4,399.0 260.6,398.3 260.7,399.0 260.8,338.7 260.9,335.9 261.1,336.5 261.2,335.6 261.3,338.7 261.5,337.2 261.6,334.4 261.7,336.6 261.9,342.6 262.0,341.1 262.1,340.1 262.2,342.5 262.4,341.0 262.5,398.4 262.6,398.6 262.8,398.8 262.9,344.2 263.0,399.0 263.2,344.9 263.3,343.7 263.4,342.2 263.5,398.3 263.7,398.5 263.8,398.7 263.9,398.5 264.1,398.6 264.2,398.5 264.3,398.7 264.5,399.1 264.6,342.8 264.7,339.0 264.8,398.7 265.0,398.4 265.1,339.9 265.2,398.3 265.4,398.6 265.5,399.0 265.6,338.5 265.8,336.2 265.9,336.9 266.0,334.7 266.1,335.4 266.3,398.5 266.4,398.7 266.5,335.7 266.7,335.9 266.8,399.0 266.9,333.5 267.1,335.7 267.2,335.4 267.3,336.1 267.4,334.2 267.6,338.5 267.7,339.4 267.8,339.5 268.0,340.0 268.1,337.9 268.2,338.9 268.4,399.2 268.5,399.0 268.6,398.5 268.7,339.7 268.9,336.4 269.0,338.0 269.1,339.1 269.3,335.1 269.4,337.0 269.5,339.0 269.7,398.8 269.8,337.5 269.9,337.7 270.0,398.7 270.2,398.3 270.3,398.7 270.4,400.0 270.6,398.7 270.7,399.3 270.8,399.1 271.0,399.4 271.1,399.1 271.2,398.3 271.3,347.9 271.5,346.2 271.6,344.8 271.7,346.1 271.9,342.4 272.0,343.9 272.1,340.1 272.3,399.4 272.4,341.6 272.5,339.7 272.6,337.4 272.8,336.4 272.9,336.1 273.0,336.3 273.2,334.1 273.3,398.9 273.4,400.8 273.6,398.4 273.7,337.1 273.8,334.3 273.9,398.7 274.1,398.6 274.2,399.0 274.3,399.1 274.5,398.6 274.6,399.0 274.7,337.9 274.9,337.9 275.0,336.2 275.1,336.4 275.2,335.5 275.4,336.5 275.5,337.6 275.6,338.0 275.8,337.3 275.9,340.0 276.0,339.6 276.2,337.9 276.3,398.7 276.4,339.1 276.5,341.0 276.7,399.1 276.8,398.4 276.9,398.5 277.1,398.9 277.2,398.9 277.3,399.3 277.5,399.2 277.6,399.1 277.7,399.4 277.8,398.8 278.0,398.6 278.1,399.1 278.2,398.7 278.4,399.5 278.5,398.8 278.6,399.3 278.8,398.5 278.9,399.3 279.0,398.9 279.1,398.9 279.3,398.4 279.4,343.8 279.5,343.7 279.7,341.4 279.8,344.2 279.9,343.6 280.1,342.0 280.2,344.7 280.3,342.3 280.4,343.7 280.6,398.8 280.7,399.4 280.8,398.9 281.0,398.4 281.1,344.7 281.2,343.4 281.4,398.7 281.5,342.3 281.6,399.2 281.7,399.2 281.9,400.7 282.0,398.8 282.1,398.9 282.3,400.1 282.4,399.3 282.5,400.7 282.7,399.2 282.8,399.2 282.9,398.4 283.0,399.3 283.2,399.3 283.3,398.5 283.4,398.4 283.6,398.6 283.7,398.4 283.8,398.9 284.0,398.4 284.1,399.1 284.2,400.6 284.3,398.3 284.5,399.0 284.6,398.6 284.7,399.3 284.9,399.1 285.0,398.9 285.1,399.1 285.3,399.6 285.4,399.7 285.5,338.4 285.6,339.1 285.8,338.9 285.9,337.6 286.0,398.8 286.2,339.6 286.3,335.5 286.4,339.5 286.6,340.1 286.7,398.6 286.8,337.5 286.9,337.1 287.1,339.0 287.2,399.2 287.3,399.3 287.5,340.5 287.6,340.2 287.7,339.4 287.9,398.6 288.0,399.2 288.1,341.9 288.2,342.6 288.4,340.3 288.5,339.4 288.6,343.6 288.8,341.8 288.9,341.5 289.0,343.0 289.2,343.9 289.3,343.8 289.4,398.7 289.5,399.3 289.7,398.6 289.8,399.2 289.9,399.1 290.1,399.1 290.2,398.8 290.3,345.1 290.5,399.1 290.6,398.6 290.7,398.3 290.8,398.5 291.0,399.4 291.1,398.7 291.2,398.7 291.4,399.0 291.5,398.4 291.6,398.9 291.8,346.4 291.9,343.5 292.0,398.7 292.1,399.6 292.3,400.7 292.4,343.2 292.5,343.5 292.7,398.6 292.8,398.3 292.9,398.6 293.1,398.5 293.2,345.5 293.3,398.6 293.4,399.0 293.6,342.8 293.7,399.0 293.8,398.9 294.0,398.9 294.1,398.6 294.2,398.3 294.4,398.7 294.5,399.2 294.6,398.8 294.7,399.2 294.9,398.4 295.0,399.1 295.1,398.4 295.3,400.2 295.4,398.9 295.5,400.8 295.7,398.9 295.8,398.9 295.9,400.8 296.0,398.5 296.2,399.0 296.3,400.4 296.4,398.5 296.6,398.4 296.7,337.4 296.8,340.0 297.0,340.1 297.1,341.5 297.2,342.8 297.3,399.4 297.5,399.4 297.6,398.8 297.7,338.6 297.9,337.1 298.0,335.4 298.1,335.2 298.3,333.5 298.4,334.9 298.5,337.1 298.6,335.1 298.8,335.7 298.9,338.3 299.0,336.2 299.2,399.0 299.3,398.2 299.4,399.9 299.6,398.8 299.7,399.3 299.8,399.1 299.9,341.7 300.1,399.2 300.2,398.6 300.3,341.9 300.5,341.2 300.6,339.6 300.7,399.1 300.9,339.4 301.0,340.7 301.1,338.6 301.2,335.4 301.4,398.3 301.5,341.2 301.6,398.5 301.8,398.9 301.9,398.5 302.0,398.4 302.2,398.8 302.3,399.2 302.4,399.4 302.5,398.7 302.7,398.5 302.8,398.6 302.9,399.0 303.1,400.7 303.2,399.3 303.3,338.6 303.5,399.0 303.6,398.4 303.7,398.3 303.8,399.0 304.0,398.5 304.1,399.0 304.2,398.4 304.4,398.4 304.5,341.4 304.6,341.8 304.8,340.9 304.9,338.7 305.0,340.9 305.1,398.6 305.3,399.3 305.4,399.5 305.5,398.5 305.7,399.2 305.8,400.3 305.9,399.4 306.1,400.5 306.2,398.5 306.3,398.9 306.4,398.6 306.6,399.0 306.7,399.1 306.8,398.5 307.0,399.4 307.1,398.7 307.2,399.0 307.4,399.0 307.5,398.4 307.6,399.6 307.7,398.8 307.9,398.9 308.0,398.4 308.1,336.3 308.3,399.4 308.4,398.4 308.5,398.5 308.7,399.0 308.8,398.8 308.9,338.6 309.0,340.0 309.2,341.0 309.3,338.5 309.4,398.9 309.6,399.3 309.7,341.9 309.8,399.1 310.0,399.1 310.1,343.2 310.2,343.0 310.3,345.1 310.5,342.2 310.6,344.5 310.7,341.9 310.9,343.2 311.0,343.7 311.1,340.9 311.3,343.9 311.4,400.6 311.5,398.9 311.6,398.5 311.8,398.3 311.9,400.3 312.0,399.4 312.2,399.2 312.3,399.1 312.4,398.9 312.6,399.2 312.7,398.7 312.8,337.8 312.9,334.5 313.1,399.2 313.2,399.0 313.3,398.4 313.5,398.7 313.6,399.1 313.7,398.9 313.9,339.4 314.0,398.5 314.1,399.3 314.2,398.5 314.4,399.0 314.5,399.4 314.6,398.6 314.8,398.9 314.9,399.1 315.0,399.0 315.2,399.0 315.3,398.3 315.4,398.2 315.5,398.9 315.7,398.4 315.8,398.6 315.9,398.8 316.1,343.6 316.2,398.3 316.3,399.0 316.5,398.3 316.6,398.4 316.7,398.7 316.8,398.4 317.0,398.7 317.1,334.4 317.2,337.8 317.4,399.0 317.5,398.5 317.6,398.4 317.8,399.0 317.9,398.3 318.0,334.8 318.1,398.9 318.3,399.4 318.4,398.4 318.5,398.9 318.7,399.4 318.8,399.1 318.9,399.0 319.1,398.4 319.2,345.3 319.3,345.2 319.4,343.6 319.6,345.4 319.7,346.6 319.8,400.8 320.0,399.6 320.1,343.4 320.2,342.0 320.4,342.3 320.5,343.9 320.6,341.5 320.7,341.0 320.9,339.1 321.0,343.1 321.1,343.2 321.3,338.8 321.4,399.1 321.5,338.4 321.7,338.5 321.8,399.1 321.9,339.4 322.0,340.4 322.2,343.4 322.3,341.5 322.4,342.5 322.6,345.0 322.7,344.8 322.8,345.3 323.0,398.4 323.1,399.0 323.2,398.9 323.3,398.6 323.5,398.6 323.6,400.3 323.7,399.3 323.9,398.6 324.0,399.0 324.1,344.9 324.3,399.9 324.4,398.7 324.5,398.6 324.6,398.3 324.8,398.4 324.9,398.6 325.0,398.6 325.2,398.9 325.3,398.9 325.4,398.6 325.6,333.5 325.7,333.5 325.8,398.4 325.9,399.3 326.1,337.9 326.2,338.3 326.3,339.2 326.5,338.6 326.6,340.0 326.7,342.4 326.9,341.1 327.0,342.1 327.1,339.4 327.2,398.6 327.4,398.3 327.5,398.6 327.6,398.8 327.8,399.4 327.9,398.6 328.0,398.8 328.2,398.3 328.3,399.3 328.4,398.5 328.5,398.3 328.7,399.2 328.8,398.8 328.9,398.5 329.1,398.3 329.2,399.1 329.3,399.1 329.5,399.1 329.6,398.9 329.7,398.4 329.8,398.3 330.0,399.4 330.1,334.1 330.2,336.7 330.4,333.9 330.5,337.9 330.6,335.7 330.8,333.5 330.9,398.9 331.0,400.3 331.1,399.1 331.3,338.8 331.4,338.9 331.5,398.7 331.7,398.9 331.8,398.5 331.9,398.9 332.1,399.1 332.2,336.6 332.3,398.3 332.4,337.3 332.6,399.0 332.7,398.9 332.8,333.5 333.0,333.9 333.1,336.2 333.2,334.9 333.4,336.3 333.5,334.9 333.6,335.7 333.7,333.6 333.9,333.5 334.0,334.4 334.1,334.0 334.3,333.9 334.4,335.7 334.5,336.4 334.7,334.4 334.8,334.3 334.9,335.0 335.0,399.4 335.2,334.9 335.3,337.4 335.4,333.9 335.6,399.0 335.7,398.5 335.8,337.6 336.0,339.3 336.1,398.5 336.2,398.5 336.3,398.7 336.5,398.3 336.6,337.6 336.7,336.6 336.9,338.4 337.0,338.8 337.1,338.4 337.3,340.9 337.4,398.5 337.5,339.2 337.6,398.6 337.8,398.7 337.9,399.4 338.0,398.8 338.2,399.1 338.3,398.5 338.4,399.3 338.6,398.7 338.7,398.5 338.8,399.0 338.9,399.3 339.1,398.7 339.2,398.6 339.3,398.3 339.5,398.3 339.6,399.2 339.7,398.7 339.9,398.6 340.0,398.6 340.1,398.3 340.2,398.9 340.4,341.9 340.5,346.3 340.6,399.2 340.8,398.8 340.9,399.1 341.0,399.4 341.2,398.9 341.3,399.1 341.4,399.2 341.5,399.6 341.7,399.1 341.8,399.0 341.9,399.3 342.1,398.4 342.2,398.5 342.3,399.2 342.5,400.7 342.6,398.8 342.7,398.6 342.8,398.7 343.0,399.3 343.1,399.2 343.2,398.5 343.4,398.9 343.5,339.4 343.6,399.0 343.8,399.0 343.9,399.2 344.0,398.9 344.1,398.4 344.3,399.2 344.4,398.8 344.5,335.7 344.7,336.0 344.8,398.6 344.9,398.9 345.1,399.3 345.2,398.4 345.3,398.4 345.4,398.3 345.6,398.9 345.7,399.1 345.8,334.9 346.0,334.9 346.1,335.0 346.2,337.3 346.4,336.3 346.5,336.1 346.6,399.2 346.7,398.4 346.9,399.3 347.0,336.7 347.1,338.4 347.3,337.4 347.4,334.8 347.5,334.7 347.7,336.6 347.8,398.6 347.9,399.0 348.0,399.2 348.2,398.7 348.3,398.7 348.4,399.4 348.6,398.9 348.7,398.8 348.8,335.3 349.0,336.4 349.1,398.7 349.2,335.9 349.3,334.8 349.5,335.5 349.6,333.5 349.7,337.3 349.9,337.8 350.0,337.7 350.1,338.3 350.3,338.0 350.4,337.4 350.5,337.5 350.6,340.0 350.8,342.4 350.9,339.5 351.0,340.8 351.2,399.0 351.3,400.3 351.4,398.5 351.6,399.4 351.7,399.2 351.8,398.8 351.9,398.8 352.1,334.9 352.2,399.4 352.3,398.7 352.5,398.7 352.6,399.2 352.7,400.1 352.9,399.0 353.0,398.4 353.1,398.6 353.2,399.1 353.4,335.7 353.5,334.2 353.6,335.8 353.8,399.2 353.9,336.4 354.0,399.3 354.2,338.3 354.3,337.6 354.4,337.5 354.5,338.9 354.7,400.9 354.8,338.2 354.9,336.8 355.1,340.8 355.2,338.0 355.3,398.4 355.5,398.3 355.6,339.7 355.7,338.2 355.8,339.6 356.0,339.9 356.1,341.4 356.2,398.6 356.4,341.7 356.5,343.7 356.6,398.4 356.8,398.5 356.9,399.2 357.0,398.5 357.1,346.3 357.3,398.9 357.4,399.1 357.5,344.6 357.7,342.4 357.8,398.5 357.9,399.1 358.1,343.5 358.2,342.0 358.3,398.3 358.4,399.1 358.6,398.9 358.7,398.3 358.8,398.6 359.0,399.3 359.1,399.1 359.2,339.5 359.4,338.4 359.5,336.9 359.6,338.3 359.7,336.6 359.9,399.0 360.0,338.1 360.1,338.9 360.3,399.4 360.4,399.4 360.5,342.6 360.7,340.8 360.8,399.2 360.9,338.2 361.0,342.7 361.2,337.9 361.3,341.4 361.4,399.0 361.6,338.8 361.7,337.3 361.8,399.2 362.0,335.7 362.1,333.9 362.2,338.8 362.3,399.4 362.5,337.0 362.6,338.6 362.7,335.4 362.9,336.4 363.0,337.5 363.1,341.1 363.3,398.7 363.4,398.3 363.5,399.0 363.6,398.6 363.8,398.6 363.9,398.6 364.0,399.2 364.2,398.8 364.3,399.1 364.4,399.0 364.6,398.3 364.7,398.8 364.8,398.8 364.9,336.2 365.1,333.5 365.2,336.2 365.3,336.4 365.5,335.8 365.6,335.8 365.7,335.9 365.9,336.3 366.0,337.2 366.1,400.3 366.2,399.3 366.4,398.9 366.5,398.9 366.6,398.6 366.8,398.8 366.9,398.5 367.0,399.2 367.2,399.4 367.3,399.1 367.4,399.4 367.5,398.9 367.7,398.5 367.8,399.0 367.9,399.2 368.1,335.7 368.2,336.6 368.3,338.7 368.5,338.5 368.6,335.6 368.7,335.8 368.8,335.0 369.0,337.4 369.1,336.6 369.2,400.6 369.4,399.4 369.5,398.5 369.6,400.5 369.8,398.7 369.9,398.6 370.0,399.0 370.1,398.9 370.3,338.1 370.4,337.2 370.5,339.6 370.7,340.9 370.8,340.4 370.9,341.2 371.1,398.7 371.2,399.1 371.3,398.3 371.4,398.8 371.6,399.2 371.7,336.1 371.8,336.9 372.0,399.1 372.1,398.7 372.2,398.6 372.4,399.2 372.5,399.4 372.6,398.6 372.7,339.7 372.9,398.7 373.0,399.4 373.1,400.2 373.3,339.5 373.4,399.1 373.5,398.7 373.7,399.0 373.8,399.1 373.9,341.3 374.0,398.5 374.2,398.4 374.3,399.4 374.4,398.4 374.6,399.3 374.7,339.3 374.8,337.3 375.0,338.6 375.1,337.9 375.2,336.2 375.3,338.1 375.5,399.4 375.6,398.3 375.7,398.4 375.9,334.6 376.0,337.1 376.1,334.2 376.3,334.6 376.4,398.9 376.5,399.3 376.6,333.5 376.8,338.0 376.9,398.9 377.0,399.3 377.2,343.4 377.3,398.5 377.4,399.0 377.6,399.0 377.7,341.6 377.8,342.0 377.9,336.5 378.1,334.1 378.2,338.3 378.3,398.8 378.5,398.3 378.6,337.7 378.7,333.6 378.9,399.1 379.0,336.2 379.1,399.1 379.2,399.3 379.4,398.2 379.5,333.5 379.6,334.2 379.8,336.9 379.9,336.1 380.0,398.8 380.2,399.1 380.3,399.0 380.4,399.1 380.5,398.4 380.7,341.6 380.8,339.5 380.9,343.8 381.1,399.2 381.2,398.4 381.3,399.2 381.5,343.9 381.6,342.3 381.7,341.4 381.8,341.8 382.0,341.4 382.1,342.6 382.2,341.7 382.4,338.9 382.5,340.1 382.6,338.5 382.8,398.5 382.9,398.9 383.0,398.4 383.1,398.5 383.3,399.4 383.4,398.9 383.5,337.9 383.7,340.7 383.8,337.4 383.9,338.0 384.1,337.5 384.2,338.5 384.3,340.6 384.4,339.1 384.6,340.5 384.7,337.7 384.8,340.8 385.0,341.0 385.1,340.1 385.2,340.9 385.4,339.5 385.5,341.7 385.6,339.8 385.7,341.9 385.9,338.0 386.0,340.3 386.1,342.0 386.3,339.9 386.4,399.1 386.5,398.5 386.7,398.3 386.8,398.8 386.9,398.6 387.0,398.3 387.2,399.0 387.3,399.4 387.4,398.9 387.6,399.4 387.7,398.4 387.8,398.5 388.0,398.6 388.1,337.8 388.2,337.3 388.3,337.6 388.5,338.3 388.6,335.1 388.7,337.0 388.9,338.4 389.0,334.3 389.1,337.5 389.3,337.5 389.4,399.2 389.5,336.6 389.6,335.5 389.8,341.0 389.9,338.6 390.0,339.3 390.2,338.7 390.3,340.5 390.4,338.7 390.6,342.8 390.7,399.2 390.8,398.6 390.9,343.4 391.1,399.3 391.2,342.5 391.3,399.0 391.5,398.3 391.6,398.9 391.7,399.2 391.9,398.9 392.0,399.3 392.1,399.2 392.2,399.0 392.4,334.7 392.5,398.5 392.6,399.0 392.8,334.8 392.9,398.5 393.0,398.3 393.2,399.0 393.3,398.6 393.4,399.0 393.5,398.9 393.7,398.8 393.8,398.9 393.9,399.2 394.1,335.1 394.2,337.4 394.3,335.4 394.5,336.4 394.6,334.8 394.7,335.2 394.8,335.7 395.0,399.2 395.1,400.1 395.2,399.0 395.4,399.0 395.5,398.5 395.6,334.0 395.8,335.6 395.9,336.2 396.0,398.6 396.1,398.2 396.3,335.5 396.4,333.5 396.5,336.5 396.7,399.3 396.8,399.3 396.9,399.2 397.1,399.4 397.2,398.4 397.3,398.9 397.4,398.5 397.6,339.5 397.7,338.4 397.8,342.2 398.0,340.7 398.1,342.7 398.2,342.0 398.4,343.8 398.5,343.0 398.6,343.5 398.7,398.8 398.9,398.6 399.0,398.3 399.1,398.4 399.3,398.4 399.4,345.3 399.5,348.6 399.7,349.2 399.8,351.0 399.9,348.6 400.0,353.7 400.2,349.9 400.3,346.8 400.4,348.2 400.6,399.0 400.7,399.4 400.8,399.3 401.0,398.9 401.1,400.0 401.2,337.5 401.3,398.5 401.5,340.1 401.6,399.4 401.7,398.3 401.9,399.1 402.0,398.4 402.1,399.0 402.3,399.4 402.4,400.4 402.5,399.3 402.6,399.6 402.8,399.4 402.9,399.3 403.0,398.7 403.2,399.1 403.3,341.8 403.4,340.3 403.6,340.3 403.7,339.6 403.8,399.4 403.9,337.6 404.1,399.2 404.2,399.1 404.3,398.5 404.5,398.3 404.6,398.8 404.7,399.1 404.9,398.3 405.0,399.8 405.1,398.7 405.2,398.6 405.4,399.1 405.5,399.4 405.6,398.3 405.8,399.0 405.9,399.4 406.0,399.2 406.2,398.9 406.3,398.7 406.4,337.8 406.5,336.1 406.7,336.7 406.8,337.3 406.9,339.4 407.1,337.0 407.2,338.5 407.3,398.9 407.5,336.3 407.6,399.3 407.7,399.1 407.8,335.8 408.0,334.0 408.1,398.6 408.2,398.8 408.4,399.4 408.5,333.5 408.6,399.2 408.8,399.0 408.9,335.4 409.0,337.2 409.1,337.5 409.3,334.7 409.4,338.4 409.5,340.0 409.7,340.6 409.8,338.0 409.9,338.7 410.1,398.5 410.2,339.2 410.3,338.7 410.4,340.5 410.6,341.7 410.7,398.3 410.8,399.1 411.0,398.7 411.1,398.6 411.2,399.3 411.4,341.5 411.5,398.6 411.6,398.9 411.7,399.0 411.9,398.8 412.0,340.3 412.1,341.0 412.3,398.9 412.4,398.2 412.5,338.3 412.7,339.8 412.8,339.0 412.9,338.5 413.0,337.9 413.2,398.3 413.3,398.4 413.4,399.3 413.6,399.1 413.7,399.3 413.8,398.8 414.0,399.2 414.1,398.5 414.2,338.2 414.3,343.3 414.5,341.5 414.6,398.4 414.7,339.6 414.9,339.8 415.0,344.1 415.1,343.9 415.3,343.5 415.4,399.1 415.5,398.4 415.6,398.8 415.8,342.2 415.9,399.8 416.0,399.1 416.2,399.3 416.3,342.3 416.4,345.6 416.6,341.6 416.7,344.1 416.8,398.9 416.9,343.6 417.1,343.7 417.2,399.3 417.3,399.1 417.5,399.3 417.6,398.9 417.7,399.3 417.9,399.0 418.0,399.3 418.1,398.8 418.2,398.8 418.4,398.7 418.5,398.7 418.6,399.3 418.8,400.1 418.9,399.1 419.0,398.4 419.2,398.6 419.3,398.9 419.4,399.0 419.5,398.6 419.7,399.9 419.8,398.9 419.9,398.9 420.1,398.6 420.2,399.4 420.3,398.3 420.5,398.7 420.6,398.7 420.7,398.3 420.8,398.5 421.0,399.1 421.1,398.7 421.2,398.5 421.4,399.2 421.5,336.1 421.6,336.2 421.8,336.7 421.9,335.6 422.0,398.6 422.1,398.7 422.3,399.6 422.4,398.3 422.5,398.7 422.7,398.5 422.8,342.3 422.9,343.8 423.1,399.9 423.2,399.0 423.3,347.7 423.4,398.5 423.6,346.9 423.7,346.7 423.8,345.6 424.0,344.7 424.1,342.1 424.2,398.4 424.4,399.2 424.5,399.3 424.6,399.4 424.7,399.0 424.9,400.6 425.0,334.4 425.1,398.4 425.3,398.4 425.4,336.6 425.5,336.5 425.7,337.8 425.8,398.6 425.9,398.3 426.0,398.4 426.2,398.9 426.3,339.8 426.4,342.5 426.6,344.1 426.7,342.3 426.8,342.4 427.0,343.5 427.1,342.2 427.2,344.9 427.3,342.3 427.5,343.8 427.6,344.7 427.7,345.7 427.9,341.7 428.0,398.7 428.1,344.6 428.3,343.7 428.4,342.9 428.5,346.0 428.6,342.4 428.8,399.4 428.9,399.1 429.0,399.2 429.2,399.2 429.3,398.3 429.4,338.9 429.6,338.6 429.7,339.8 429.8,336.9 429.9,337.0 430.1,337.7 430.2,338.3 430.3,398.6 430.5,334.2 430.6,334.1 430.7,336.3 430.9,338.6 431.0,399.4 431.1,399.0 431.2,398.4 431.4,399.0 431.5,337.9 431.6,333.8 431.8,334.6 431.9,334.3 432.0,334.7 432.2,334.2 432.3,334.6 432.4,334.7 432.5,335.6 432.7,333.5 432.8,334.3 432.9,333.5 433.1,336.4 433.2,335.6 433.3,336.0 433.5,398.4 433.6,398.8 433.7,399.3 433.8,398.3 434.0,399.1 434.1,399.4 434.2,334.8 434.4,337.8 434.5,335.7 434.6,335.4 434.8,398.5 434.9,399.2 435.0,333.8 435.1,336.1 435.3,333.5 435.4,399.2 435.5,398.7 435.7,399.4 435.8,398.5 435.9,400.6 436.1,400.1 436.2,398.5 436.3,398.5 436.4,334.0 436.6,398.3 436.7,399.0 436.8,399.0 437.0,399.0 437.1,399.1 437.2,399.1 437.4,398.6 437.5,399.3 437.6,399.2 437.7,338.2 437.9,398.5 438.0,341.4 438.1,339.6 438.3,338.7 438.4,340.3 438.5,399.1 438.7,399.2 438.8,398.6 438.9,398.6 439.0,399.4 439.2,349.4 439.3,347.3 439.4,347.0 439.6,398.6 439.7,398.6 439.8,398.4 440.0,398.8 440.1,399.1 440.2,399.3 440.3,344.8 440.5,342.6 440.6,345.1 440.7,343.1 440.9,341.9 441.0,338.1 441.1,339.9 441.3,399.2 441.4,400.6 441.5,399.4 441.6,399.7 441.8,398.4 441.9,400.9 442.0,399.0 442.2,336.4 442.3,336.2 442.4,335.7 442.6,341.2 442.7,342.8 442.8,344.8 442.9,347.2 443.1,348.2 443.2,349.7 443.3,400.6 443.5,346.5 443.6,398.8 443.7,399.3 443.9,398.5 444.0,398.8 444.1,398.7 444.2,398.3 444.4,340.9 444.5,339.2 444.6,343.9 444.8,340.0 444.9,338.6 445.0,343.1 445.2,398.8 445.3,398.4 445.4,341.7 445.5,399.3 445.7,343.2 445.8,342.2 445.9,398.3 446.1,343.5 446.2,341.1 446.3,340.9 446.5,338.0 446.6,398.4 446.7,398.9 446.8,335.8 447.0,337.4 447.1,333.5 447.2,334.5 447.4,336.7 447.5,333.5 447.6,335.2 447.8,333.9 447.9,335.4 448.0,334.1 448.1,334.3 448.3,333.5 448.4,335.2 448.5,333.5 448.7,335.3 448.8,398.5 448.9,336.7 449.1,338.9 449.2,398.8 449.3,398.5 449.4,343.4 449.6,344.3 449.7,344.8 449.8,399.4 450.0,399.4 450.1,399.0 450.2,398.6 450.4,398.3 450.5,399.1 450.6,399.0 450.7,345.7 450.9,345.6 451.0,348.2 451.1,346.7 451.3,342.5 451.4,343.4 451.5,398.5 451.7,342.5 451.8,341.0 451.9,340.1 452.0,339.2 452.2,342.2 452.3,399.2 452.4,398.8 452.6,398.9 452.7,399.2 452.8,398.6 453.0,398.6 453.1,398.8 453.2,398.3 453.3,398.9 453.5,399.0 453.6,398.9 453.7,399.3 453.9,341.5 454.0,343.6 454.1,343.1 454.3,399.1 454.4,346.7 454.5,345.3 454.6,398.4 454.8,346.8 454.9,343.2 455.0,398.5 455.2,399.1 455.3,398.7 455.4,398.8 455.6,335.1 455.7,398.3 455.8,338.1 455.9,335.8 456.1,334.5 456.2,333.8 456.3,398.9 456.5,398.3 456.6,399.2 456.7,399.1 456.9,338.7 457.0,338.4 457.1,399.4 457.2,398.8 457.4,400.2 457.5,398.6 457.6,398.4 457.8,399.4 457.9,400.1 458.0,338.4 458.2,338.6 458.3,340.5 458.4,338.2 458.5,338.2 458.7,341.6 458.8,340.7 458.9,398.8 459.1,341.1 459.2,339.1 459.3,336.6 459.5,336.3 459.6,334.4 459.7,335.4 459.8,336.2 460.0,335.3 460.1,398.9 460.2,400.2 460.4,337.5 460.5,400.4 460.6,399.4 460.8,398.4 460.9,398.3 461.0,398.3 461.1,399.0 461.3,400.7 461.4,398.6 461.5,399.2 461.7,398.3 461.8,398.2 461.9,399.2 462.1,398.6 462.2,399.2 462.3,399.3 462.4,399.2 462.6,399.1 462.7,399.1 462.8,398.9 463.0,337.6 463.1,338.3 463.2,399.4 463.4,399.4 463.5,398.4 463.6,399.1 463.7,398.9 463.9,399.4 464.0,399.3 464.1,399.0 464.3,398.7 464.4,398.8 464.5,398.8 464.7,398.5 464.8,399.2 464.9,399.9 465.0,399.1 465.2,399.2 465.3,398.9 465.4,398.4 465.6,399.2 465.7,340.5 465.8,339.9 466.0,398.3 466.1,340.7 466.2,341.1 466.3,339.1 466.5,336.7 466.6,398.6 466.7,399.4 466.9,399.5 467.0,398.4 467.1,399.1 467.3,399.1 467.4,399.1 467.5,398.3 467.6,398.9 467.8,398.5 467.9,399.0 468.0,398.8 468.2,398.7 468.3,399.2 468.4,398.3 468.6,398.5 468.7,398.9 468.8,398.6 468.9,398.8 469.1,398.4 469.2,399.0 469.3,398.8 469.5,399.1 469.6,399.1 469.7,398.6 469.9,400.8 470.0,398.7 470.1,399.0 470.2,400.0 470.4,398.9 470.5,399.0 470.6,398.5 470.8,398.6 470.9,399.2 471.0,398.6 471.2,398.3 471.3,399.1 471.4,399.2 471.5,398.6 471.7,398.7 471.8,399.0 471.9,399.1 472.1,398.8 472.2,399.1 472.3,398.7 472.5,337.2 472.6,399.0 472.7,398.5 472.8,399.9 473.0,398.7 473.1,400.9 473.2,340.9 473.4,398.7 473.5,399.1 473.6,398.3 473.8,399.0 473.9,398.4 474.0,398.3 474.1,398.3 474.3,345.4 474.4,398.6 474.5,399.3 474.7,398.3 474.8,399.1 474.9,338.4 475.1,399.0 475.2,342.4 475.3,339.9 475.4,340.0 475.6,400.8 475.7,399.1 475.8,337.6 476.0,339.3 476.1,336.9 476.2,338.7 476.4,338.0 476.5,335.9 476.6,335.0 476.7,335.6 476.9,333.5 477.0,336.4 477.1,334.7 477.3,398.4 477.4,399.4 477.5,399.3 477.7,398.6 477.8,399.4 477.9,398.5 478.0,399.3 478.2,398.5 478.3,400.6 478.4,399.2 478.6,399.2 478.7,398.9 478.8,398.4 479.0,400.4 479.1,400.1 479.2,399.0 479.3,398.7 479.5,398.7 479.6,398.6 479.7,399.3 479.9,399.0 480.0,398.6 480.1,399.2 480.3,337.4 480.4,398.8 480.5,398.8 480.6,399.4 480.8,399.2 480.9,398.7 481.0,398.9 481.2,398.6 481.3,398.3 481.4,399.2 481.6,398.7 481.7,399.3 481.8,399.3 481.9,399.3 482.1,398.9 482.2,398.3 482.3,339.4 482.5,337.3 482.6,339.3 482.7,337.7 482.9,338.6 483.0,338.7 483.1,339.1 483.2,337.1 483.4,338.8 483.5,341.6 483.6,341.1 483.8,339.5 483.9,339.8 484.0,398.7 484.2,398.8 484.3,339.3 484.4,341.4 484.5,340.3 484.7,341.6 484.8,398.4 484.9,339.7 485.1,398.9 485.2,398.3 485.3,398.9 485.5,400.2 485.6,399.4 485.7,339.6 485.8,339.2 486.0,341.6 486.1,400.4 486.2,399.3 486.4,340.2 486.5,341.1 486.6,340.8 486.8,398.6 486.9,400.2 487.0,398.4 487.1,398.4 487.3,399.2 487.4,339.2 487.5,342.1 487.7,398.3 487.8,399.6 487.9,398.8 488.1,399.2 488.2,399.4 488.3,336.4 488.4,398.9 488.6,398.3 488.7,398.4 488.8,398.9 489.0,398.7 489.1,398.7 489.2,399.1 489.4,337.5 489.5,337.7 489.6,337.7 489.7,336.4 489.9,398.4 490.0,398.3 490.1,398.7 490.3,398.7 490.4,334.5 490.5,334.1 490.7,398.4 490.8,398.6 490.9,398.7 491.0,398.2 491.2,337.8 491.3,336.5 491.4,399.3 491.6,398.7 491.7,400.2 491.8,398.2 492.0,337.2 492.1,398.7 492.2,399.3 492.3,334.6 492.5,337.0 492.6,399.1 492.7,399.0 492.9,400.6 493.0,399.0 493.1,399.3 493.3,398.8 493.4,399.1 493.5,399.3 493.6,399.0 493.8,399.1 493.9,398.5 494.0,399.4 494.2,398.3 494.3,399.1 494.4,399.2 494.6,398.4 494.7,399.0 494.8,340.0 494.9,344.4 495.1,398.6 495.2,398.3 495.3,398.9 495.5,399.1 495.6,400.2 495.7,400.2 495.9,398.7 496.0,399.2 496.1,398.8 496.2,399.2 496.4,398.9 496.5,399.2 496.6,398.8 496.8,399.0 496.9,398.3 497.0,399.0 497.2,400.1 497.3,335.6 497.4,334.8 497.5,337.3 497.7,398.6 497.8,399.4 497.9,400.1 498.1,398.8 498.2,399.0 498.3,399.0 498.5,399.2 498.6,398.9 498.7,399.8 498.8,398.3 499.0,398.6 499.1,399.1 499.2,398.9 499.4,399.3 499.5,398.6 499.6,399.2 499.8,398.7 499.9,398.4 500.0,398.7 500.1,398.8 500.3,399.0 500.4,398.7 500.5,398.5 500.7,398.8 500.8,398.7 500.9,336.4 501.1,337.3 501.2,398.8 501.3,398.3 501.4,398.4 501.6,399.2 501.7,399.0 501.8,398.7 502.0,399.1 502.1,398.8 502.2,399.1 502.4,398.9 502.5,398.6 502.6,398.4 502.7,342.2 502.9,339.4 503.0,339.5 503.1,399.5 503.3,398.4 503.4,399.3 503.5,399.4 503.7,398.5 503.8,337.4 503.9,333.5 504.0,335.4 504.2,399.2 504.3,400.1 504.4,399.2 504.6,339.6 504.7,339.2 504.8,339.4 505.0,340.5 505.1,398.8 505.2,398.4 505.3,398.3 505.5,398.3 505.6,341.0 505.7,343.8 505.9,341.6 506.0,399.5 506.1,399.4 506.3,399.3 506.4,398.3 506.5,399.0 506.6,399.4 506.8,399.0 506.9,399.5 507.0,398.2 507.2,398.7 507.3,343.6 507.4,342.8 507.6,341.6 507.7,343.2 507.8,398.9 507.9,399.4 508.1,399.2 508.2,399.4 508.3,398.2 508.5,338.4 508.6,339.7 508.7,398.4 508.9,398.4 509.0,336.5 509.1,335.2 509.2,399.2 509.4,398.6 509.5,398.3 509.6,399.0 509.8,336.9 509.9,398.3 510.0,398.3 510.2,398.9 510.3,400.4 510.4,399.4 510.5,335.8 510.7,337.1 510.8,336.6 510.9,398.4 511.1,399.3 511.2,398.8 511.3,400.5 511.5,398.9 511.6,339.3 511.7,398.7 511.8,398.8 512.0,398.4 512.1,398.8 512.2,398.9 512.4,341.0 512.5,341.4 512.6,342.7 512.8,343.8 512.9,398.7 513.0,399.0 513.1,398.9 513.3,343.8 513.4,344.6 513.5,342.4 513.7,342.8 513.8,339.9 513.9,340.5 514.1,341.2 514.2,340.9 514.3,340.7 514.4,340.1 514.6,339.7 514.7,399.4 514.8,398.8 515.0,398.3 515.1,398.6 515.2,339.7 515.4,336.8 515.5,337.2 515.6,337.5 515.7,341.4 515.9,340.3 516.0,398.8 516.1,399.3 516.3,340.0 516.4,399.2 516.5,398.8 516.7,399.0 516.8,399.1 516.9,398.3 517.0,399.0 517.2,398.3 517.3,399.3 517.4,398.8 517.6,398.9 517.7,399.4 517.8,399.1 518.0,399.2 518.1,399.0 518.2,398.6 518.3,398.7 518.5,399.1 518.6,399.3 518.7,399.1 518.9,399.4 519.0,398.8 519.1,398.6 519.3,398.5 519.4,398.4 519.5,399.3 519.6,399.2 519.8,399.1 519.9,399.0 520.0,342.9 520.2,398.5 520.3,343.9 520.4,399.0 520.6,399.2 520.7,398.3 520.8,398.6 520.9,346.4 521.1,399.2 521.2,399.0 521.3,398.5 521.5,347.3 521.6,346.9 521.7,346.6 521.9,345.8 522.0,398.7 522.1,399.2 522.2,341.5 522.4,338.7 522.5,339.8 522.6,339.0 522.8,337.5 522.9,337.6 523.0,400.0 523.2,398.4 523.3,399.1 523.4,398.8 523.5,399.4 523.7,399.3 523.8,340.2 523.9,339.5 524.1,339.1 524.2,340.3 524.3,342.5 524.5,398.6 524.6,398.7 524.7,398.9 524.8,398.9 525.0,398.4 525.1,398.6 525.2,333.5 525.4,399.1 525.5,400.6 525.6,398.5 525.8,398.3 525.9,399.1 526.0,400.2 526.1,398.4 526.3,398.8 526.4,398.6 526.5,398.9 526.7,336.1 526.8,398.3 526.9,340.0 527.1,338.4 527.2,338.4 527.3,341.9 527.4,341.6 527.6,398.7 527.7,341.7 527.8,342.7 528.0,338.2 528.1,343.0 528.2,339.4 528.4,399.0 528.5,399.1 528.6,398.4 528.7,398.8 528.9,399.4 529.0,398.7 529.1,399.4 529.3,333.5 529.4,335.4 529.5,335.8 529.7,334.8 529.8,336.0 529.9,398.7 530.0,398.9 530.2,399.2 530.3,399.4 530.4,398.3 530.6,399.0 530.7,399.3 530.8,336.8 531.0,338.8 531.1,335.8 531.2,336.1 531.3,335.5 531.5,335.6 531.6,399.6 531.7,399.7 531.9,398.8 532.0,398.3 532.1,336.5 532.3,337.5 532.4,337.2 532.5,338.2 532.6,335.9 532.8,399.4 532.9,398.8 533.0,398.9 533.2,398.4 533.3,398.6 533.4,399.4 533.6,398.4 533.7,339.7 533.8,398.3 533.9,339.0 534.1,399.9 534.2,337.0 534.3,340.6 534.5,338.5 534.6,399.2 534.7,398.7 534.9,399.1 535.0,398.6 535.1,399.2 535.2,398.8 535.4,398.4 535.5,334.8 535.6,336.9 535.8,333.5 535.9,333.5 536.0,334.7 536.2,335.1 536.3,400.8 536.4,398.5 536.5,398.6 536.7,336.5 536.8,333.5 536.9,333.7 537.1,335.2 537.2,338.7 537.3,339.1 537.5,398.4 537.6,399.0 537.7,345.8 537.8,347.1 538.0,348.2 538.1,346.3 538.2,343.4 538.4,341.9 538.5,342.3 538.6,344.5 538.8,340.7 538.9,340.1 539.0,339.8 539.1,341.4 539.3,398.3 539.4,338.1 539.5,337.0 539.7,339.4 539.8,338.9 539.9,398.5 540.1,398.6 540.2,341.7 540.3,341.9 540.4,344.4 540.6,341.8 540.7,343.1 540.8,343.5 541.0,398.2 541.1,400.3 541.2,398.5 541.4,398.6 541.5,341.2 541.6,341.2 541.7,399.0 541.9,398.7 542.0,340.6 542.1,340.0 542.3,338.9 542.4,399.6 542.5,338.0 542.7,334.0 542.8,398.5 542.9,398.8 543.0,398.3 543.2,398.9 543.3,398.8 543.4,398.5 543.6,342.1 543.7,339.7 543.8,342.8 544.0,341.1 544.1,342.3 544.2,342.6 544.3,398.6 544.5,399.2 544.6,398.4 544.7,340.9 544.9,342.0 545.0,341.1 545.1,399.0 545.3,399.0 545.4,399.3 545.5,398.8 545.6,398.5 545.8,399.2 545.9,398.8 546.0,398.7 546.2,399.0 546.3,398.7 546.4,399.3 546.6,398.4 546.7,398.5 546.8,398.7 546.9,399.1 547.1,399.1 547.2,337.0 547.3,335.4 547.5,400.8 547.6,398.5 547.7,336.1 547.9,337.0 548.0,334.6 548.1,333.5 548.2,398.5 548.4,339.3 548.5,338.3 548.6,336.9 548.8,337.4 548.9,336.5 549.0,338.8 549.2,333.5 549.3,398.9 549.4,336.2 549.5,398.8 549.7,399.4 549.8,398.8 549.9,398.8 550.1,398.9 550.2,398.5 550.3,399.1 550.5,398.7 550.6,338.5 550.7,337.8 550.8,339.7 551.0,339.4 551.1,399.3 551.2,398.6 551.4,399.3 551.5,399.3 551.6,400.9 551.8,399.8 551.9,399.4 552.0,399.4 552.1,343.2 552.3,341.8 552.4,341.8 552.5,398.7 552.7,398.6 552.8,399.2 552.9,399.1 553.1,338.0 553.2,340.9 553.3,337.2 553.4,335.4 553.6,398.6 553.7,398.7 553.8,398.5 554.0,400.1 554.1,338.8 554.2,342.0 554.4,340.3 554.5,339.6 554.6,341.1 554.7,398.7 554.9,340.1 555.0,338.8 555.1,336.9 555.3,337.8 555.4,336.5 555.5,399.6 555.7,398.8 555.8,398.5 555.9,399.1 556.0,333.7 556.2,335.7 556.3,337.0 556.4,334.9 556.6,334.5 556.7,398.7 556.8,398.7 557.0,398.6 557.1,399.3 557.2,400.1 557.3,398.9 557.5,399.2 557.6,398.7 557.7,398.8 557.9,398.9 558.0,399.4 558.1,399.4 558.3,399.2 558.4,399.2 558.5,399.1 558.6,399.3 558.8,398.5 558.9,398.4 559.0,398.7 559.2,398.4 559.3,399.3 559.4,398.5 559.6,400.7 559.7,398.6 559.8,398.7 559.9,398.7 560.1,400.3 560.2,338.8 560.3,342.1 560.5,342.6 560.6,398.9 560.7,398.4 560.9,339.1 561.0,339.8 561.1,399.1 561.2,398.5 561.4,398.3 561.5,398.4 561.6,339.6 561.8,398.9 561.9,335.7 562.0,337.4 562.2,336.5 562.3,338.7 562.4,341.2 562.5,337.0 562.7,399.1 562.8,398.3 562.9,398.8 563.1,398.4 563.2,399.3 563.3,398.4 563.5,398.9 563.6,399.2 563.7,339.6 563.8,399.3 564.0,398.8 564.1,400.7 564.2,339.4 564.4,342.4 564.5,340.2 564.6,340.9 564.8,398.5 564.9,398.4 565.0,398.8 565.1,398.8 565.3,335.3 565.4,399.0 565.5,334.0 565.7,398.6 565.8,398.3 565.9,398.7 566.1,398.7 566.2,400.2 566.3,399.2 566.4,398.3 566.6,398.8 566.7,398.4 566.8,398.4 567.0,398.9 567.1,399.1 567.2,400.2 567.4,400.5 567.5,398.3 567.6,399.2 567.7,398.9 567.9,398.5 568.0,333.5 568.1,398.8 568.3,398.7 568.4,398.8 568.5,399.4 568.7,338.4 568.8,338.8 568.9,338.9 569.0,342.2 569.2,341.0 569.3,398.8 569.4,339.6 569.6,343.0 569.7,344.2 569.8,341.6 570.0,398.3 570.1,399.1 570.2,400.0 570.3,398.4 570.5,398.5 570.6,339.4 570.7,338.8 570.9,341.1 571.0,337.8 571.1,399.4 571.3,398.9 571.4,338.6 571.5,398.5 571.6,398.6 571.8,398.7 571.9,400.6 572.0,398.6 572.2,398.7 572.3,398.7 572.4,399.1 572.6,398.5 572.7,398.6 572.8,399.1 572.9,398.9 573.1,399.3 573.2,399.4 573.3,399.0 573.5,399.1 573.6,336.8 573.7,398.5 573.9,398.9 574.0,398.6 574.1,399.2 574.2,398.7 574.4,400.7 574.5,335.7 574.6,336.1 574.8,399.0 574.9,334.5 575.0,335.7 575.2,333.5 575.3,399.3 575.4,398.2 575.5,340.5 575.7,340.3 575.8,399.2 575.9,339.4 576.1,338.6 576.2,399.1 576.3,398.5 576.5,399.4 576.6,398.7 576.7,342.1 576.8,342.5 577.0,399.3 577.1,399.1 577.2,398.3 577.4,398.4 577.5,398.9 577.6,400.6 577.8,399.3 577.9,399.0 578.0,400.5 578.1,339.1 578.3,340.4 578.4,342.1 578.5,399.8 578.7,339.5 578.8,339.4 578.9,338.8 579.1,336.4 579.2,339.3 579.3,334.6 579.4,334.9 579.6,338.2 579.7,337.0 579.8,335.6 580.0,335.1 580.1,336.3 580.2,338.0 580.4,336.0 580.5,336.1 580.6,337.7 580.7,398.4 580.9,399.3 581.0,398.6 581.1,337.7 581.3,340.2 581.4,338.4 581.5,338.9 581.7,336.5 581.8,335.7 581.9,336.2 582.0,337.0 582.2,335.2 582.3,337.7 582.4,337.6 582.6,338.2 582.7,338.9 582.8,339.0 583.0,337.7 583.1,338.8 583.2,340.3 583.3,398.6 583.5,399.2 583.6,341.3 583.7,343.6 583.9,398.9 584.0,398.6 584.1,398.4 584.3,341.3 584.4,340.6 584.5,336.8 584.6,339.0 584.8,338.5 584.9,338.6 585.0,399.0 585.2,336.2 585.3,338.4 585.4,398.4 585.6,398.3 585.7,398.6 585.8,398.2 585.9,398.6 586.1,398.8 586.2,337.0 586.3,398.5 586.5,399.2 586.6,398.9 586.7,399.4 586.9,398.4 587.0,399.0 587.1,337.3 587.2,339.9 587.4,338.7 587.5,400.8 587.6,398.4 587.8,399.1 587.9,398.6 588.0,399.1 588.2,399.4 588.3,338.7 588.4,340.3 588.5,339.4 588.7,338.3 588.8,399.2 588.9,399.3 589.1,338.3 589.2,337.1 589.3,338.7 589.5,399.4 589.6,337.4 589.7,338.8 589.8,337.0 590.0,336.3 590.1,336.8 590.2,339.1 590.4,337.3 590.5,339.0 590.6,338.5 590.8,398.7 590.9,399.2 591.0,398.3 591.1,342.1 591.3,339.8 591.4,398.9 591.5,341.7 591.7,342.7 591.8,343.0 591.9,342.3 592.1,341.8 592.2,398.5 592.3,345.8 592.4,343.1 592.6,340.5 592.7,340.8 592.8,338.7 593.0,398.7 593.1,398.8 593.2,398.6 593.4,341.9 593.5,339.5 593.6,339.7 593.7,338.5 593.9,338.5 594.0,335.4 594.1,339.0 594.3,398.7 594.4,398.2 594.5,338.6 594.7,399.3 594.8,336.8 594.9,341.6 595.0,398.3 595.2,398.7 595.3,338.6 595.4,398.5 595.6,398.5 595.7,398.3 595.8,398.7 596.0,398.5 596.1,399.3 596.2,341.4 596.3,338.9 596.5,338.9 596.6,340.4 596.7,399.3 596.9,341.2 597.0,340.8 597.1,398.6 597.3,340.4 597.4,339.7 597.5,340.1 597.6,336.6 597.8,336.7 597.9,339.7 598.0,337.9 598.2,335.6 598.3,335.4 598.4,336.1 598.6,335.5 598.7,338.0 598.8,398.4 598.9,398.2 599.1,399.0 599.2,339.7 599.3,338.5 599.5,343.9 599.6,341.9 599.7,342.8 599.9,398.5 600.0,398.9 600.1,399.2 600.2,399.1 600.4,398.9 600.5,399.1 600.6,398.6 600.8,399.2 600.9,398.8 601.0,398.6 601.2,339.5 601.3,337.3 601.4,338.1 601.5,337.7 601.7,337.5 601.8,334.9 601.9,398.7 602.1,398.3 602.2,399.2 602.3,399.4 602.5,399.2 602.6,398.6 602.7,398.8 602.8,399.4 603.0,399.4 603.1,398.5 603.2,398.9 603.4,399.2 603.5,398.7 603.6,399.2 603.8,398.3 603.9,399.3 604.0,398.9 604.1,400.5 604.3,399.4 604.4,399.1 604.5,398.3 604.7,399.3 604.8,399.1 604.9,398.7 605.1,398.9 605.2,336.3 605.3,398.9 605.4,337.9 605.6,337.7 605.7,338.7 605.8,399.0 606.0,398.6 606.1,340.2 606.2,340.9 606.4,339.4 606.5,339.3 606.6,340.0 606.7,343.7 606.9,340.4 607.0,338.0 607.1,399.9 607.3,398.4 607.4,398.9 607.5,334.7 607.7,398.7 607.8,399.0 607.9,399.3 608.0,399.3 608.2,398.6 608.3,399.2 608.4,399.1 608.6,398.8 608.7,398.2 608.8,398.4 609.0,398.3 609.1,398.3 609.2,399.2 609.3,344.6 609.5,341.0 609.6,340.9 609.7,340.7 609.9,399.0 610.0,399.4 610.1,398.3 610.3,398.9 610.4,399.1 610.5,398.2 610.6,398.9 610.8,398.8 610.9,398.3 611.0,398.2 611.2,398.4 611.3,398.6 611.4,399.0 611.6,398.3 611.7,398.8 611.8,398.7 611.9,336.5 612.1,337.4 612.2,398.9 612.3,398.6 612.5,398.8 612.6,398.5 612.7,399.4 612.9,398.6 613.0,398.5 613.1,398.4 613.2,398.3 613.4,398.4 613.5,400.7 613.6,398.6 613.8,399.3 613.9,399.3 614.0,399.2 614.2,398.7 614.3,399.0 614.4,398.8 614.5,398.8 614.7,399.3 614.8,399.1 614.9,338.7 615.1,336.7 615.2,339.1 615.3,339.5 615.5,337.9 615.6,339.7 615.7,342.2 615.8,342.3 616.0,344.1 616.1,341.9 616.2,343.1 616.4,400.9 616.5,398.7 616.6,398.9 616.8,399.0 616.9,398.8 617.0,399.4 617.1,399.1 617.3,399.2 617.4,398.9 617.5,398.9 617.7,399.3 617.8,398.9 617.9,398.4 618.1,398.5 618.2,399.3 618.3,399.1 618.4,398.2 618.6,398.9 618.7,398.6 618.8,345.5 619.0,399.2 619.1,398.7 619.2,398.5 619.4,398.9 619.5,398.9 619.6,400.2 619.7,398.3 619.9,398.3 620.0,341.5 620.1,399.0 620.3,400.8 620.4,399.4 620.5,398.9 620.7,399.1 620.8,399.9 620.9,399.3 621.0,398.4 621.2,398.4 621.3,398.6 621.4,398.7 621.6,399.0 621.7,399.3 621.8,398.5 622.0,400.2 622.1,400.1 622.2,398.3 622.3,398.8 622.5,398.4 622.6,400.5 622.7,398.5 622.9,398.4 623.0,340.7 623.1,339.3 623.3,339.9 623.4,338.7 623.5,337.4 623.6,399.2 623.8,398.8 623.9,398.9 624.0,399.3 624.2,334.5 624.3,334.9 624.4,334.8 624.6,333.9 624.7,336.6 624.8,399.0 624.9,398.3 625.1,398.6 625.2,399.4 625.3,334.8 625.5,333.5 625.6,337.9 625.7,398.6 625.9,334.7 626.0,398.3 626.1,399.3 626.2,399.3 626.4,337.4 626.5,399.3 626.6,398.7 626.8,398.9 626.9,398.6 627.0,338.1 627.2,337.7 627.3,338.8 627.4,336.4 627.5,400.6 627.7,335.7 627.8,398.7 627.9,399.3 628.1,398.7 628.2,399.3 628.3,399.1 628.5,399.3 628.6,398.7 628.7,339.9 628.8,399.0 629.0,342.6 629.1,341.0 629.2,341.5 629.4,342.2 629.5,342.5 629.6,343.2 629.8,398.2 629.9,400.4 630.0,341.7 630.1,340.5 630.3,341.1 630.4,342.0 630.5,336.3 630.7,338.3 630.8,398.5 630.9,399.4 631.1,398.6 631.2,398.9 631.3,343.1 631.4,399.0 631.6,399.4 631.7,398.3 631.8,400.9 632.0,345.9 632.1,398.4 632.2,341.5 632.4,398.3 632.5,399.2 632.6,398.9 632.7,398.3 632.9,399.1 633.0,399.1 633.1,339.0 633.3,398.3 633.4,399.2 633.5,336.0 633.7,398.3 633.8,398.6 633.9,398.9 634.0,398.5 634.2,398.2 634.3,398.3 634.4,398.4 634.6,398.8 634.7,399.3 634.8,398.8 635.0,399.2 635.1,399.3 635.2,335.3 635.3,333.7 635.5,335.8 635.6,337.6 635.7,398.6 635.9,398.8 636.0,339.6 636.1,399.2 636.3,399.1 636.4,337.3 636.5,338.8 636.6,342.0 636.8,340.5 636.9,339.7 637.0,338.7 637.2,343.5 637.3,341.0 637.4,338.4 637.6,337.1 637.7,340.0 637.8,343.2 637.9,338.9 638.1,340.0 638.2,341.9 638.3,340.4 638.5,344.0 638.6,343.8 638.7,343.7 638.9,343.3 639.0,340.7 639.1,343.5 639.2,345.1 639.4,345.7 639.5,399.2 639.6,399.3 639.8,343.9 639.9,398.9 640.0,398.4 640.2,345.0 640.3,346.6 640.4,341.3 640.5,342.8 640.7,342.5 640.8,341.9 640.9,340.9 641.1,338.5 641.2,338.9 641.3,340.6 641.5,338.3 641.6,338.5 641.7,398.5 641.8,337.1 642.0,338.2 642.1,338.4 642.2,337.6 642.4,336.9 642.5,338.0 642.6,398.5 642.8,336.8 642.9,337.6 643.0,336.7 643.1,337.7 643.3,337.6 643.4,336.9 643.5,337.8 643.7,336.0 643.8,399.1 643.9,399.0 644.1,398.4 644.2,337.0 644.3,399.3 644.4,398.5 644.6,398.3 644.7,399.2 644.8,339.2 645.0,399.0 645.1,399.3 645.2,399.3 645.4,398.8 645.5,398.3 645.6,399.2 645.7,400.6 645.9,400.9 646.0,398.8 646.1,398.3 646.3,399.3 646.4,398.6 646.5,398.5 646.7,399.0 646.8,398.9 646.9,399.2 647.0,399.6 647.2,398.3 647.3,398.6 647.4,339.2 647.6,400.4 647.7,398.8 647.8,398.9 648.0,339.0 648.1,340.0 648.2,338.9 648.3,341.1 648.5,336.6 648.6,341.0 648.7,399.3 648.9,334.8 649.0,333.8 649.1,336.1 649.3,336.3 649.4,335.7 649.5,399.2 649.6,399.2 649.8,398.3 649.9,398.8 650.0,340.0 650.2,340.4 650.3,340.5 650.4,340.7 650.6,340.2 650.7,398.4 650.8,399.1 650.9,399.4 651.1,398.5 651.2,399.3 651.3,398.9 651.5,398.3 651.6,399.3 651.7,398.5 651.9,400.4 652.0,398.9 652.1,399.3 652.2,398.8 652.4,398.6 652.5,398.9 652.6,398.3 652.8,399.8 652.9,398.8 653.0,340.4 653.2,342.7 653.3,339.5 653.4,342.8 653.5,341.0 653.7,339.2 653.8,399.4 653.9,399.1 654.1,400.2 654.2,398.6 654.3,398.3 654.5,399.0 654.6,398.7 654.7,399.3 654.8,398.3 655.0,398.7 655.1,398.8 655.2,398.6 655.4,398.7 655.5,399.1 655.6,399.2 655.8,399.3 655.9,399.4 656.0,399.3 656.1,399.4 656.3,399.1 656.4,341.1 656.5,341.3 656.7,343.1 656.8,341.5 656.9,340.5 657.1,341.3 657.2,338.3 657.3,341.2 657.4,399.2 657.6,399.3 657.7,399.2 657.8,398.9 658.0,398.7 658.1,398.6 658.2,398.9 658.4,336.7 658.5,399.3 658.6,399.4 658.7,335.9 658.9,340.5 659.0,398.4 659.1,343.5 659.3,342.6 659.4,399.0 659.5,343.2 659.7,341.5 659.8,340.8 659.9,342.0 660.0,341.1 660.2,340.1 660.3,398.3 660.4,398.5 660.6,335.8 660.7,339.6 660.8,398.8 661.0,337.4 661.1,333.5 661.2,334.3 661.3,336.5 661.5,333.5 661.6,334.4 661.7,335.7 661.9,336.4 662.0,336.8 662.1,335.2 662.3,399.3 662.4,398.9 662.5,399.7 662.6,338.4 662.8,337.1 662.9,337.8 663.0,398.6 663.2,398.6 663.3,398.5 663.4,398.5 663.6,400.4 663.7,398.4 663.8,398.3 663.9,399.2 664.1,399.2 664.2,398.9 664.3,398.8 664.5,338.0 664.6,398.5 664.7,337.5 664.9,398.8 665.0,398.4 665.1,398.6 665.2,398.6 665.4,398.9 665.5,398.4 665.6,398.4 665.8,399.2 665.9,398.8 666.0,398.7 666.2,399.3 666.3,399.1 666.4,398.8 666.5,398.7 666.7,399.8 666.8,399.0 666.9,398.8 667.1,399.3 667.2,398.5 667.3,398.6 667.5,399.4 667.6,399.4 667.7,399.1 667.8,399.3 668.0,399.3 668.1,399.0 668.2,398.5 668.4,400.6 668.5,398.9 668.6,399.1 668.8,398.8 668.9,398.2 669.0,398.5 669.1,399.0 669.3,398.3 669.4,400.0 669.5,398.8 669.7,398.6 669.8,398.9 669.9,398.4 670.1,338.5 670.2,399.0 670.3,398.8 670.4,399.1 670.6,337.1 670.7,339.2 670.8,336.0 671.0,337.0 671.1,398.5 671.2,398.5 671.4,399.2 671.5,399.1 671.6,399.0 671.7,398.7 671.9,398.6 672.0,399.2 672.1,398.8 672.3,398.4 672.4,398.9 672.5,399.4 672.7,398.8 672.8,398.8 672.9,399.3 673.0,399.1 673.2,398.9 673.3,398.9 673.4,338.3 673.6,398.2 673.7,398.9 673.8,398.6 674.0,338.9 674.1,338.6 674.2,399.3 674.3,398.7 674.5,339.3 674.6,342.9 674.7,340.1 674.9,398.5 675.0,340.1 675.1,343.2 675.3,340.4 675.4,340.7 675.5,342.1 675.6,398.7 675.8,399.2 675.9,398.2 676.0,398.3 676.2,398.7 676.3,398.7 676.4,337.9 676.6,337.3 676.7,398.4 676.8,399.5 676.9,400.0 677.1,399.8 677.2,399.3 677.3,399.1 677.5,337.9 677.6,335.3 677.7,398.9 677.9,399.0 678.0,399.2 678.1,399.3 678.2,399.1 678.4,337.3 678.5,399.3 678.6,398.3 678.8,336.9 678.9,336.8 679.0,334.7 679.2,337.8 679.3,338.6 679.4,338.0 679.5,336.5 679.7,335.8 679.8,334.9 679.9,335.3 680.1,336.9 680.2,334.7 680.3,334.8 680.5,335.4 680.6,334.4 680.7,334.6 680.8,398.3 681.0,399.4 681.1,399.2 681.2,399.0 681.4,399.1 681.5,399.0 681.6,335.8 681.8,336.4 681.9,337.0 682.0,400.1 682.1,399.2 682.3,398.3 682.4,398.6 682.5,400.1 682.7,398.4 682.8,399.4 682.9,399.4 683.1,398.9 683.2,398.3 683.3,399.3 683.4,399.3 683.6,399.3 683.7,399.4 683.8,399.3 684.0,398.5 684.1,398.7 684.2,335.6 684.4,333.5 684.5,398.3 684.6,399.2 684.7,336.2 684.9,398.3 685.0,398.3 685.1,399.2 685.3,336.9 685.4,399.2 685.5,399.3 685.7,398.7 685.8,398.4 685.9,399.9 686.0,398.8 686.2,398.5 686.3,399.1 686.4,398.5 686.6,398.8 686.7,400.9 686.8,399.4 687.0,399.3 687.1,399.4 687.2,399.2 687.3,398.9 687.5,341.7 687.6,342.6 687.7,339.1 687.9,338.9 688.0,399.4 688.1,399.0 688.3,399.3 688.4,398.5 688.5,398.2 688.6,399.9 688.8,399.2 688.9,335.2 689.0,399.2 689.2,337.5 689.3,399.1 689.4,398.5 689.6,399.1 689.7,398.7 689.8,399.2 689.9,399.0 690.1,398.7 690.2,399.2 690.3,339.6 690.5,398.2 690.6,399.2 690.7,337.8 690.9,342.9 691.0,398.5 691.1,398.8 691.2,398.6 691.4,398.3 691.5,344.4 691.6,343.6 691.8,341.5 691.9,398.4 692.0,399.1 692.2,398.7 692.3,400.8 692.4,400.5 692.5,399.2 692.7,398.5 692.8,398.8 692.9,398.5 693.1,399.1 693.2,398.4 693.3,399.0 693.5,400.0 693.6,398.9 693.7,399.3 693.8,339.9 694.0,338.7 694.1,398.5 694.2,339.6 694.4,398.9 694.5,398.5 694.6,337.0 694.8,399.2 694.9,398.5 695.0,398.9 695.1,337.2 695.3,338.8 695.4,338.9 695.5,399.0 695.7,398.8 695.8,398.7 695.9,399.0 696.1,340.3 696.2,338.4 696.3,337.8 696.4,334.2 696.6,399.1 696.7,400.1 696.8,399.4 697.0,333.5 697.1,335.4 697.2,399.0 697.4,334.7 697.5,338.2 697.6,336.4 697.7,399.0 697.9,398.7 698.0,399.2 698.1,338.8 698.3,337.8 698.4,399.2 698.5,340.1 698.7,338.3 698.8,341.2 698.9,398.8 699.0,399.4 699.2,398.5 699.3,398.7 699.4,398.8 699.6,342.0 699.7,398.9 699.8,398.5 700.0,398.9 700.1,399.2 700.2,398.8 700.3,400.5 700.5,398.8 700.6,335.8 700.7,398.4 700.9,400.4 701.0,336.7 701.1,398.3 701.3,398.8 701.4,399.2 701.5,399.4 701.6,399.2 701.8,398.7 701.9,399.4 702.0,398.5 702.2,398.5 702.3,399.4 702.4,338.5 702.6,398.7 702.7,399.3 702.8,334.3 702.9,335.6 703.1,336.6 703.2,399.2 703.3,400.0 703.5,398.4 703.6,399.2 703.7,399.1 703.9,399.3 704.0,337.6 704.1,335.1 704.2,336.1 704.4,336.3 704.5,336.3 704.6,398.6 704.8,399.0 704.9,399.4 705.0,398.3 705.2,400.7 705.3,338.0 705.4,336.6 705.5,334.4 705.7,335.6 705.8,336.2 705.9,398.8 706.1,398.7 706.2,398.5 706.3,399.1 706.5,398.5 706.6,399.0 706.7,398.6 706.8,398.4 707.0,337.8 707.1,337.1 707.2,335.0 707.4,337.9 707.5,335.8 707.6,399.2 707.8,399.4 707.9,399.3 708.0,399.0 708.1,398.7 708.3,398.7 708.4,399.4 708.5,398.6 708.7,398.3 708.8,400.2 708.9,398.9 709.1,398.9 709.2,398.5 709.3,398.7 709.4,399.3 709.6,399.2 709.7,398.6 709.8,398.7 710.0,398.4 710.1,399.0 710.2,350.3 710.4,350.0 710.5,346.5 710.6,348.9 710.7,343.3 710.9,398.3 711.0,399.1 711.1,399.0 711.3,348.8 711.4,343.7 711.5,340.4 711.7,343.1 711.8,342.1 711.9,343.9 712.0,398.9 712.2,399.3 712.3,398.5 712.4,338.8 712.6,339.6 712.7,399.0 712.8,398.5 713.0,399.0 713.1,400.4 713.2,337.7 713.3,339.9 713.5,398.5 713.6,399.3 713.7,340.6 713.9,340.8 714.0,341.7 714.1,341.9 714.3,341.3 714.4,398.8 714.5,398.4 714.6,399.1 714.8,340.2 714.9,399.2 715.0,336.2 715.2,336.2 715.3,341.2 715.4,398.5 715.6,398.7 715.7,399.4 715.8,399.0 715.9,398.4 716.1,398.6 716.2,398.5 716.3,398.3 716.5,337.5 716.6,339.3 716.7,338.2 716.9,339.2 717.0,338.0 717.1,336.9 717.2,398.3 717.4,399.3 717.5,398.4 717.6,398.9 717.8,399.4 717.9,399.1 718.0,398.8 718.2,398.8 718.3,399.2 718.4,399.0 718.5,344.1 718.7,340.3 718.8,398.6 718.9,341.0 719.1,342.4 719.2,341.6 719.3,399.2 719.5,398.9 719.6,398.6 719.7,398.9 719.8,399.1 720.0,399.1 720.1,398.7 720.2,398.5" fill="none" stroke="#006400" stroke-width="1.2" stroke-linejoin="miter" stroke-miterlimit="2"/></g>
<path d="M153.40 414.78v-5.5M153.40 310.43v5.5M291.15 414.78v-5.5M291.15 310.43v5.5M428.90 414.78v-5.5M428.90 310.43v5.5M566.65 414.78v-5.5M566.65 310.43v5.5M704.40 414.78v-5.5M704.40 310.43v5.5M100.00 399.88h6.9M720.00 399.88h-6.3M100.00 384.97h6.9M720.00 384.97h-6.3M100.00 370.06h6.9M720.00 370.06h-6.3M100.00 355.16h6.9M720.00 355.16h-6.3M100.00 340.25h6.9M720.00 340.25h-6.3M100.00 325.34h6.9M720.00 325.34h-6.3" stroke="#3c3c3c" stroke-width="1" fill="none" shape-rendering="crispEdges"/>
<rect x="100.00" y="310.43" width="620.00" height="104.35" fill="none" stroke="#000" stroke-width="1.39"/>
<text x="154.80" y="431.18" text-anchor="middle" style="letter-spacing:-0.8px">15:00</text><text x="153.60" y="445.18" text-anchor="middle" style="letter-spacing:-0.65px">Apr 30</text>
<text x="290.95" y="431.18" text-anchor="middle" style="letter-spacing:-0.8px">23:00</text><text x="291.35" y="445.18" text-anchor="middle" style="letter-spacing:-0.65px">Apr 30</text>
<text x="429.20" y="431.18" text-anchor="middle" style="letter-spacing:-0.8px">07:00</text><text x="428.60" y="445.18" text-anchor="middle" style="letter-spacing:-0.45px">May 01</text>
<text x="568.05" y="431.18" text-anchor="middle" style="letter-spacing:-0.8px">15:00</text><text x="566.35" y="445.18" text-anchor="middle" style="letter-spacing:-0.45px">May 01</text>
<text x="704.20" y="431.18" text-anchor="middle" style="letter-spacing:-0.8px">23:00</text><text x="704.10" y="445.18" text-anchor="middle" style="letter-spacing:-0.45px">May 01</text>
<text x="96.70" y="418.98" text-anchor="end">-1</text><text x="96.70" y="404.08" text-anchor="end">0</text><text x="96.70" y="389.17" text-anchor="end">1</text><text x="96.70" y="374.26" text-anchor="end">2</text><text x="96.70" y="359.36" text-anchor="end">3</text><text x="96.70" y="344.45" text-anchor="end">4</text><text x="96.70" y="329.54" text-anchor="end">5</text><text x="96.70" y="314.63" text-anchor="end">6</text>
<text transform="translate(73.20 363.01) rotate(-90)" text-anchor="middle" style="letter-spacing:-0.07px">High flow Volts</text>
</g>
<g>
<rect x="100.00" y="435.65" width="620.00" height="104.35" fill="#fff"/>
<clipPath id="c3"><rect x="100.00" y="435.65" width="620.00" height="104.35"/></clipPath>
<g clip-path="url(#c3)"><polyline points="100.4,469.6 100.5,506.1 100.7,469.6 100.8,469.6 100.9,506.1 101.0,506.1 101.2,506.1 101.3,469.6 101.4,469.6 101.6,506.1 101.7,506.1 101.8,506.1 102.0,506.1 102.1,506.1 102.2,506.1 102.3,506.1 102.5,506.1 102.6,506.1 102.7,506.1 102.9,506.1 103.0,506.1 103.1,506.1 103.3,506.1 103.4,506.1 103.5,469.6 103.6,469.6 103.8,506.1 103.9,506.1 104.0,506.1 104.2,506.1 104.3,506.1 104.4,506.1 104.6,506.1 104.7,506.1 104.8,506.1 104.9,506.1 105.1,506.1 105.2,506.1 105.3,469.6 105.5,506.1 105.6,506.1 105.7,506.1 105.9,506.1 106.0,506.1 106.1,506.1 106.2,506.1 106.4,506.1 106.5,506.1 106.6,506.1 106.8,469.6 106.9,469.6 107.0,506.1 107.2,506.1 107.3,506.1 107.4,506.1 107.5,506.1 107.7,506.1 107.8,506.1 107.9,506.1 108.1,506.1 108.2,506.1 108.3,506.1 108.5,506.1 108.6,469.6 108.7,469.6 108.8,506.1 109.0,506.1 109.1,506.1 109.2,506.1 109.4,506.1 109.5,506.1 109.6,506.1 109.8,506.1 109.9,506.1 110.0,506.1 110.1,506.1 110.3,506.1 110.4,506.1 110.5,506.1 110.7,506.1 110.8,469.6 110.9,469.6 111.1,469.6 111.2,469.6 111.3,469.6 111.4,469.6 111.6,506.1 111.7,506.1 111.8,506.1 112.0,469.6 112.1,469.6 112.2,506.1 112.4,469.6 112.5,506.1 112.6,506.1 112.7,469.6 112.9,469.6 113.0,469.6 113.1,506.1 113.3,506.1 113.4,469.6 113.5,469.6 113.7,469.6 113.8,469.6 113.9,506.1 114.0,506.1 114.2,506.1 114.3,469.6 114.4,469.6 114.6,469.6 114.7,469.6 114.8,469.6 115.0,469.6 115.1,469.6 115.2,506.1 115.3,506.1 115.5,469.6 115.6,469.6 115.7,469.6 115.9,469.6 116.0,469.6 116.1,506.1 116.3,506.1 116.4,506.1 116.5,469.6 116.6,469.6 116.8,469.6 116.9,469.6 117.0,506.1 117.2,506.1 117.3,506.1 117.4,469.6 117.6,469.6 117.7,506.1 117.8,506.1 117.9,506.1 118.1,469.6 118.2,469.6 118.3,506.1 118.5,506.1 118.6,506.1 118.7,506.1 118.9,506.1 119.0,506.1 119.1,506.1 119.2,506.1 119.4,506.1 119.5,469.6 119.6,469.6 119.8,469.6 119.9,469.6 120.0,506.1 120.2,506.1 120.3,506.1 120.4,506.1 120.5,469.6 120.7,469.6 120.8,469.6 120.9,469.6 121.1,469.6 121.2,469.6 121.3,469.6 121.5,469.6 121.6,469.6 121.7,469.6 121.8,469.6 122.0,469.6 122.1,506.1 122.2,506.1 122.4,469.6 122.5,506.1 122.6,469.6 122.8,506.1 122.9,469.6 123.0,469.6 123.1,506.1 123.3,469.6 123.4,469.6 123.5,469.6 123.7,506.1 123.8,506.1 123.9,506.1 124.1,506.1 124.2,506.1 124.3,506.1 124.4,469.6 124.6,469.6 124.7,506.1 124.8,506.1 125.0,469.6 125.1,469.6 125.2,469.6 125.4,469.6 125.5,469.6 125.6,469.6 125.7,469.6 125.9,469.6 126.0,469.6 126.1,469.6 126.3,506.1 126.4,469.6 126.5,506.1 126.7,506.1 126.8,506.1 126.9,469.6 127.0,506.1 127.2,506.1 127.3,469.6 127.4,469.6 127.6,469.6 127.7,469.6 127.8,469.6 128.0,469.6 128.1,469.6 128.2,469.6 128.3,469.6 128.5,469.6 128.6,506.1 128.7,506.1 128.9,506.1 129.0,469.6 129.1,469.6 129.3,469.6 129.4,469.6 129.5,506.1 129.6,506.1 129.8,506.1 129.9,506.1 130.0,506.1 130.2,506.1 130.3,506.1 130.4,506.1 130.6,469.6 130.7,469.6 130.8,469.6 130.9,469.6 131.1,469.6 131.2,469.6 131.3,469.6 131.5,506.1 131.6,506.1 131.7,469.6 131.9,506.1 132.0,469.6 132.1,506.1 132.2,506.1 132.4,469.6 132.5,506.1 132.6,469.6 132.8,506.1 132.9,506.1 133.0,506.1 133.2,469.6 133.3,506.1 133.4,506.1 133.5,469.6 133.7,469.6 133.8,469.6 133.9,469.6 134.1,469.6 134.2,469.6 134.3,506.1 134.5,506.1 134.6,506.1 134.7,506.1 134.8,506.1 135.0,506.1 135.1,506.1 135.2,506.1 135.4,506.1 135.5,506.1 135.6,506.1 135.8,506.1 135.9,506.1 136.0,506.1 136.1,506.1 136.3,506.1 136.4,506.1 136.5,506.1 136.7,506.1 136.8,506.1 136.9,469.6 137.1,506.1 137.2,506.1 137.3,469.6 137.4,469.6 137.6,469.6 137.7,469.6 137.8,469.6 138.0,469.6 138.1,506.1 138.2,469.6 138.4,469.6 138.5,469.6 138.6,506.1 138.7,506.1 138.9,506.1 139.0,469.6 139.1,469.6 139.3,469.6 139.4,506.1 139.5,506.1 139.7,506.1 139.8,506.1 139.9,506.1 140.0,506.1 140.2,506.1 140.3,506.1 140.4,506.1 140.6,506.1 140.7,506.1 140.8,506.1 141.0,506.1 141.1,506.1 141.2,506.1 141.3,506.1 141.5,506.1 141.6,469.6 141.7,506.1 141.9,469.6 142.0,469.6 142.1,469.6 142.3,506.1 142.4,506.1 142.5,469.6 142.6,469.6 142.8,469.6 142.9,469.6 143.0,469.6 143.2,469.6 143.3,506.1 143.4,506.1 143.6,506.1 143.7,506.1 143.8,506.1 143.9,506.1 144.1,506.1 144.2,506.1 144.3,506.1 144.5,506.1 144.6,506.1 144.7,506.1 144.9,506.1 145.0,506.1 145.1,506.1 145.2,506.1 145.4,506.1 145.5,506.1 145.6,506.1 145.8,506.1 145.9,506.1 146.0,506.1 146.2,506.1 146.3,506.1 146.4,469.6 146.5,469.6 146.7,469.6 146.8,469.6 146.9,469.6 147.1,469.6 147.2,506.1 147.3,469.6 147.5,469.6 147.6,506.1 147.7,469.6 147.8,506.1 148.0,506.1 148.1,506.1 148.2,506.1 148.4,506.1 148.5,506.1 148.6,506.1 148.8,506.1 148.9,506.1 149.0,506.1 149.1,469.6 149.3,469.6 149.4,469.6 149.5,469.6 149.7,469.6 149.8,469.6 149.9,469.6 150.1,469.6 150.2,469.6 150.3,506.1 150.4,506.1 150.6,506.1 150.7,506.1 150.8,506.1 151.0,506.1 151.1,506.1 151.2,506.1 151.4,506.1 151.5,506.1 151.6,506.1 151.7,506.1 151.9,506.1 152.0,506.1 152.1,506.1 152.3,506.1 152.4,506.1 152.5,469.6 152.7,506.1 152.8,469.6 152.9,469.6 153.0,469.6 153.2,469.6 153.3,506.1 153.4,506.1 153.6,506.1 153.7,506.1 153.8,506.1 154.0,506.1 154.1,469.6 154.2,469.6 154.3,469.6 154.5,469.6 154.6,506.1 154.7,469.6 154.9,469.6 155.0,469.6 155.1,469.6 155.3,469.6 155.4,469.6 155.5,469.6 155.6,469.6 155.8,506.1 155.9,506.1 156.0,506.1 156.2,506.1 156.3,506.1 156.4,469.6 156.6,506.1 156.7,506.1 156.8,469.6 156.9,469.6 157.1,469.6 157.2,469.6 157.3,469.6 157.5,469.6 157.6,469.6 157.7,469.6 157.9,469.6 158.0,469.6 158.1,469.6 158.2,506.1 158.4,506.1 158.5,469.6 158.6,469.6 158.8,469.6 158.9,469.6 159.0,506.1 159.2,469.6 159.3,469.6 159.4,469.6 159.5,469.6 159.7,506.1 159.8,506.1 159.9,506.1 160.1,506.1 160.2,506.1 160.3,506.1 160.5,506.1 160.6,506.1 160.7,506.1 160.8,506.1 161.0,506.1 161.1,506.1 161.2,506.1 161.4,506.1 161.5,506.1 161.6,469.6 161.8,506.1 161.9,506.1 162.0,506.1 162.1,506.1 162.3,506.1 162.4,506.1 162.5,506.1 162.7,506.1 162.8,506.1 162.9,506.1 163.1,506.1 163.2,506.1 163.3,506.1 163.4,469.6 163.6,469.6 163.7,506.1 163.8,469.6 164.0,469.6 164.1,469.6 164.2,469.6 164.4,469.6 164.5,469.6 164.6,469.6 164.7,469.6 164.9,469.6 165.0,469.6 165.1,469.6 165.3,506.1 165.4,506.1 165.5,506.1 165.7,469.6 165.8,469.6 165.9,506.1 166.0,506.1 166.2,506.1 166.3,506.1 166.4,506.1 166.6,506.1 166.7,469.6 166.8,506.1 167.0,469.6 167.1,506.1 167.2,469.6 167.3,469.6 167.5,506.1 167.6,506.1 167.7,506.1 167.9,469.6 168.0,469.6 168.1,506.1 168.3,506.1 168.4,506.1 168.5,469.6 168.6,469.6 168.8,469.6 168.9,506.1 169.0,506.1 169.2,469.6 169.3,506.1 169.4,469.6 169.6,469.6 169.7,469.6 169.8,469.6 169.9,506.1 170.1,506.1 170.2,469.6 170.3,469.6 170.5,469.6 170.6,506.1 170.7,469.6 170.9,506.1 171.0,506.1 171.1,506.1 171.2,506.1 171.4,506.1 171.5,469.6 171.6,469.6 171.8,469.6 171.9,506.1 172.0,506.1 172.2,506.1 172.3,506.1 172.4,506.1 172.5,506.1 172.7,506.1 172.8,506.1 172.9,469.6 173.1,469.6 173.2,506.1 173.3,506.1 173.5,506.1 173.6,506.1 173.7,506.1 173.8,506.1 174.0,506.1 174.1,506.1 174.2,506.1 174.4,506.1 174.5,506.1 174.6,506.1 174.8,506.1 174.9,506.1 175.0,506.1 175.1,506.1 175.3,506.1 175.4,469.6 175.5,469.6 175.7,469.6 175.8,506.1 175.9,506.1 176.1,469.6 176.2,469.6 176.3,469.6 176.4,506.1 176.6,506.1 176.7,506.1 176.8,506.1 177.0,469.6 177.1,469.6 177.2,469.6 177.4,469.6 177.5,469.6 177.6,469.6 177.7,469.6 177.9,469.6 178.0,469.6 178.1,506.1 178.3,506.1 178.4,506.1 178.5,469.6 178.7,469.6 178.8,469.6 178.9,469.6 179.0,469.6 179.2,469.6 179.3,506.1 179.4,469.6 179.6,506.1 179.7,469.6 179.8,469.6 180.0,469.6 180.1,469.6 180.2,469.6 180.3,506.1 180.5,469.6 180.6,469.6 180.7,469.6 180.9,469.6 181.0,506.1 181.1,506.1 181.3,506.1 181.4,506.1 181.5,506.1 181.6,506.1 181.8,506.1 181.9,469.6 182.0,469.6 182.2,469.6 182.3,469.6 182.4,469.6 182.6,469.6 182.7,469.6 182.8,469.6 182.9,469.6 183.1,469.6 183.2,469.6 183.3,469.6 183.5,469.6 183.6,506.1 183.7,506.1 183.9,506.1 184.0,469.6 184.1,469.6 184.2,469.6 184.4,469.6 184.5,506.1 184.6,506.1 184.8,469.6 184.9,469.6 185.0,506.1 185.2,469.6 185.3,469.6 185.4,506.1 185.5,506.1 185.7,469.6 185.8,469.6 185.9,469.6 186.1,506.1 186.2,506.1 186.3,506.1 186.5,506.1 186.6,506.1 186.7,506.1 186.8,506.1 187.0,506.1 187.1,506.1 187.2,506.1 187.4,506.1 187.5,506.1 187.6,506.1 187.8,469.6 187.9,469.6 188.0,469.6 188.1,469.6 188.3,469.6 188.4,469.6 188.5,469.6 188.7,469.6 188.8,469.6 188.9,469.6 189.1,469.6 189.2,506.1 189.3,469.6 189.4,469.6 189.6,469.6 189.7,469.6 189.8,469.6 190.0,506.1 190.1,469.6 190.2,469.6 190.4,469.6 190.5,469.6 190.6,469.6 190.7,469.6 190.9,469.6 191.0,469.6 191.1,506.1 191.3,469.6 191.4,469.6 191.5,469.6 191.7,469.6 191.8,469.6 191.9,469.6 192.0,469.6 192.2,469.6 192.3,506.1 192.4,506.1 192.6,506.1 192.7,506.1 192.8,469.6 193.0,506.1 193.1,506.1 193.2,469.6 193.3,469.6 193.5,469.6 193.6,469.6 193.7,469.6 193.9,469.6 194.0,469.6 194.1,469.6 194.3,469.6 194.4,506.1 194.5,506.1 194.6,506.1 194.8,506.1 194.9,506.1 195.0,469.6 195.2,469.6 195.3,469.6 195.4,469.6 195.6,469.6 195.7,469.6 195.8,506.1 195.9,506.1 196.1,506.1 196.2,506.1 196.3,506.1 196.5,506.1 196.6,506.1 196.7,469.6 196.9,469.6 197.0,506.1 197.1,506.1 197.2,506.1 197.4,506.1 197.5,506.1 197.6,506.1 197.8,506.1 197.9,506.1 198.0,506.1 198.2,506.1 198.3,506.1 198.4,506.1 198.5,506.1 198.7,506.1 198.8,506.1 198.9,506.1 199.1,506.1 199.2,506.1 199.3,506.1 199.5,506.1 199.6,506.1 199.7,506.1 199.8,506.1 200.0,506.1 200.1,506.1 200.2,506.1 200.4,506.1 200.5,469.6 200.6,506.1 200.8,469.6 200.9,506.1 201.0,469.6 201.1,469.6 201.3,506.1 201.4,506.1 201.5,469.6 201.7,506.1 201.8,469.6 201.9,506.1 202.1,506.1 202.2,506.1 202.3,469.6 202.4,469.6 202.6,506.1 202.7,469.6 202.8,469.6 203.0,506.1 203.1,506.1 203.2,506.1 203.4,506.1 203.5,506.1 203.6,506.1 203.7,469.6 203.9,469.6 204.0,469.6 204.1,506.1 204.3,506.1 204.4,506.1 204.5,506.1 204.7,506.1 204.8,506.1 204.9,506.1 205.0,506.1 205.2,506.1 205.3,506.1 205.4,506.1 205.6,506.1 205.7,506.1 205.8,469.6 206.0,469.6 206.1,469.6 206.2,469.6 206.3,469.6 206.5,469.6 206.6,506.1 206.7,506.1 206.9,506.1 207.0,506.1 207.1,469.6 207.3,469.6 207.4,506.1 207.5,469.6 207.6,469.6 207.8,469.6 207.9,469.6 208.0,469.6 208.2,506.1 208.3,469.6 208.4,469.6 208.6,469.6 208.7,469.6 208.8,469.6 208.9,469.6 209.1,506.1 209.2,506.1 209.3,506.1 209.5,506.1 209.6,469.6 209.7,506.1 209.9,506.1 210.0,469.6 210.1,469.6 210.2,506.1 210.4,506.1 210.5,506.1 210.6,506.1 210.8,506.1 210.9,506.1 211.0,506.1 211.2,506.1 211.3,506.1 211.4,506.1 211.5,506.1 211.7,469.6 211.8,469.6 211.9,469.6 212.1,469.6 212.2,469.6 212.3,469.6 212.5,506.1 212.6,506.1 212.7,469.6 212.8,469.6 213.0,506.1 213.1,506.1 213.2,506.1 213.4,469.6 213.5,469.6 213.6,469.6 213.8,506.1 213.9,469.6 214.0,469.6 214.1,506.1 214.3,469.6 214.4,506.1 214.5,506.1 214.7,506.1 214.8,469.6 214.9,469.6 215.1,469.6 215.2,469.6 215.3,506.1 215.4,506.1 215.6,506.1 215.7,506.1 215.8,506.1 216.0,506.1 216.1,506.1 216.2,469.6 216.4,469.6 216.5,506.1 216.6,506.1 216.7,506.1 216.9,506.1 217.0,506.1 217.1,506.1 217.3,506.1 217.4,506.1 217.5,506.1 217.7,506.1 217.8,506.1 217.9,506.1 218.0,506.1 218.2,469.6 218.3,469.6 218.4,469.6 218.6,469.6 218.7,506.1 218.8,506.1 219.0,506.1 219.1,506.1 219.2,506.1 219.3,506.1 219.5,469.6 219.6,469.6 219.7,469.6 219.9,469.6 220.0,506.1 220.1,506.1 220.3,506.1 220.4,506.1 220.5,506.1 220.6,506.1 220.8,469.6 220.9,469.6 221.0,469.6 221.2,506.1 221.3,506.1 221.4,506.1 221.6,506.1 221.7,506.1 221.8,506.1 221.9,469.6 222.1,469.6 222.2,469.6 222.3,469.6 222.5,469.6 222.6,469.6 222.7,506.1 222.9,506.1 223.0,506.1 223.1,506.1 223.2,506.1 223.4,506.1 223.5,506.1 223.6,469.6 223.8,469.6 223.9,469.6 224.0,469.6 224.2,506.1 224.3,469.6 224.4,469.6 224.5,506.1 224.7,506.1 224.8,506.1 224.9,506.1 225.1,506.1 225.2,506.1 225.3,469.6 225.5,469.6 225.6,469.6 225.7,469.6 225.8,506.1 226.0,506.1 226.1,506.1 226.2,506.1 226.4,469.6 226.5,506.1 226.6,506.1 226.8,506.1 226.9,506.1 227.0,506.1 227.1,469.6 227.3,469.6 227.4,469.6 227.5,506.1 227.7,469.6 227.8,506.1 227.9,469.6 228.1,506.1 228.2,506.1 228.3,506.1 228.4,506.1 228.6,506.1 228.7,506.1 228.8,506.1 229.0,506.1 229.1,506.1 229.2,506.1 229.4,506.1 229.5,506.1 229.6,469.6 229.7,469.6 229.9,506.1 230.0,506.1 230.1,506.1 230.3,506.1 230.4,469.6 230.5,469.6 230.7,469.6 230.8,506.1 230.9,469.6 231.0,506.1 231.2,506.1 231.3,469.6 231.4,506.1 231.6,469.6 231.7,469.6 231.8,469.6 232.0,469.6 232.1,506.1 232.2,506.1 232.3,469.6 232.5,469.6 232.6,506.1 232.7,469.6 232.9,506.1 233.0,506.1 233.1,506.1 233.3,506.1 233.4,506.1 233.5,506.1 233.6,506.1 233.8,506.1 233.9,506.1 234.0,506.1 234.2,506.1 234.3,506.1 234.4,506.1 234.6,506.1 234.7,506.1 234.8,506.1 234.9,506.1 235.1,469.6 235.2,469.6 235.3,506.1 235.5,506.1 235.6,506.1 235.7,506.1 235.9,506.1 236.0,506.1 236.1,506.1 236.2,506.1 236.4,506.1 236.5,506.1 236.6,506.1 236.8,469.6 236.9,506.1 237.0,506.1 237.2,506.1 237.3,506.1 237.4,506.1 237.5,506.1 237.7,506.1 237.8,506.1 237.9,506.1 238.1,469.6 238.2,469.6 238.3,469.6 238.5,506.1 238.6,506.1 238.7,506.1 238.8,469.6 239.0,506.1 239.1,506.1 239.2,506.1 239.4,469.6 239.5,469.6 239.6,506.1 239.8,506.1 239.9,506.1 240.0,506.1 240.1,506.1 240.3,506.1 240.4,506.1 240.5,506.1 240.7,506.1 240.8,506.1 240.9,506.1 241.1,506.1 241.2,506.1 241.3,506.1 241.4,506.1 241.6,506.1 241.7,506.1 241.8,506.1 242.0,506.1 242.1,506.1 242.2,506.1 242.4,506.1 242.5,469.6 242.6,469.6 242.7,469.6 242.9,469.6 243.0,469.6 243.1,469.6 243.3,469.6 243.4,469.6 243.5,506.1 243.7,469.6 243.8,469.6 243.9,469.6 244.0,506.1 244.2,506.1 244.3,469.6 244.4,469.6 244.6,506.1 244.7,506.1 244.8,506.1 245.0,506.1 245.1,506.1 245.2,506.1 245.3,469.6 245.5,469.6 245.6,469.6 245.7,469.6 245.9,469.6 246.0,506.1 246.1,469.6 246.3,469.6 246.4,469.6 246.5,469.6 246.6,506.1 246.8,506.1 246.9,469.6 247.0,469.6 247.2,506.1 247.3,506.1 247.4,506.1 247.6,506.1 247.7,506.1 247.8,506.1 247.9,506.1 248.1,506.1 248.2,506.1 248.3,506.1 248.5,506.1 248.6,506.1 248.7,506.1 248.9,506.1 249.0,506.1 249.1,506.1 249.2,506.1 249.4,506.1 249.5,506.1 249.6,506.1 249.8,506.1 249.9,469.6 250.0,469.6 250.2,506.1 250.3,469.6 250.4,469.6 250.5,469.6 250.7,469.6 250.8,469.6 250.9,469.6 251.1,506.1 251.2,506.1 251.3,506.1 251.5,506.1 251.6,506.1 251.7,506.1 251.8,506.1 252.0,506.1 252.1,506.1 252.2,469.6 252.4,506.1 252.5,469.6 252.6,469.6 252.8,469.6 252.9,469.6 253.0,469.6 253.1,469.6 253.3,469.6 253.4,469.6 253.5,469.6 253.7,506.1 253.8,506.1 253.9,506.1 254.1,506.1 254.2,506.1 254.3,506.1 254.4,506.1 254.6,506.1 254.7,506.1 254.8,506.1 255.0,506.1 255.1,506.1 255.2,506.1 255.4,506.1 255.5,506.1 255.6,506.1 255.7,506.1 255.9,506.1 256.0,506.1 256.1,506.1 256.3,506.1 256.4,506.1 256.5,469.6 256.7,469.6 256.8,469.6 256.9,469.6 257.0,469.6 257.2,469.6 257.3,506.1 257.4,506.1 257.6,506.1 257.7,506.1 257.8,506.1 258.0,506.1 258.1,506.1 258.2,506.1 258.3,469.6 258.5,469.6 258.6,469.6 258.7,506.1 258.9,469.6 259.0,469.6 259.1,506.1 259.3,506.1 259.4,506.1 259.5,506.1 259.6,469.6 259.8,506.1 259.9,469.6 260.0,469.6 260.2,506.1 260.3,506.1 260.4,506.1 260.6,506.1 260.7,506.1 260.8,469.6 260.9,469.6 261.1,469.6 261.2,469.6 261.3,469.6 261.5,469.6 261.6,469.6 261.7,469.6 261.9,469.6 262.0,469.6 262.1,469.6 262.2,469.6 262.4,469.6 262.5,506.1 262.6,506.1 262.8,506.1 262.9,469.6 263.0,506.1 263.2,469.6 263.3,469.6 263.4,469.6 263.5,506.1 263.7,506.1 263.8,506.1 263.9,506.1 264.1,506.1 264.2,506.1 264.3,506.1 264.5,506.1 264.6,469.6 264.7,469.6 264.8,506.1 265.0,506.1 265.1,469.6 265.2,506.1 265.4,506.1 265.5,506.1 265.6,469.6 265.8,469.6 265.9,469.6 266.0,469.6 266.1,469.6 266.3,506.1 266.4,506.1 266.5,469.6 266.7,469.6 266.8,506.1 266.9,469.6 267.1,469.6 267.2,469.6 267.3,469.6 267.4,469.6 267.6,469.6 267.7,469.6 267.8,469.6 268.0,469.6 268.1,469.6 268.2,469.6 268.4,506.1 268.5,506.1 268.6,506.1 268.7,469.6 268.9,469.6 269.0,469.6 269.1,469.6 269.3,469.6 269.4,469.6 269.5,469.6 269.7,506.1 269.8,469.6 269.9,469.6 270.0,506.1 270.2,506.1 270.3,506.1 270.4,506.1 270.6,506.1 270.7,506.1 270.8,506.1 271.0,506.1 271.1,506.1 271.2,506.1 271.3,469.6 271.5,469.6 271.6,469.6 271.7,469.6 271.9,469.6 272.0,469.6 272.1,469.6 272.3,506.1 272.4,469.6 272.5,469.6 272.6,469.6 272.8,469.6 272.9,469.6 273.0,469.6 273.2,469.6 273.3,506.1 273.4,506.1 273.6,506.1 273.7,469.6 273.8,469.6 273.9,506.1 274.1,506.1 274.2,506.1 274.3,506.1 274.5,506.1 274.6,506.1 274.7,469.6 274.9,469.6 275.0,469.6 275.1,469.6 275.2,469.6 275.4,469.6 275.5,469.6 275.6,469.6 275.8,469.6 275.9,469.6 276.0,469.6 276.2,469.6 276.3,506.1 276.4,469.6 276.5,469.6 276.7,506.1 276.8,506.1 276.9,506.1 277.1,506.1 277.2,506.1 277.3,506.1 277.5,506.1 277.6,506.1 277.7,506.1 277.8,506.1 278.0,506.1 278.1,506.1 278.2,506.1 278.4,506.1 278.5,506.1 278.6,506.1 278.8,506.1 278.9,506.1 279.0,506.1 279.1,506.1 279.3,506.1 279.4,469.6 279.5,469.6 279.7,469.6 279.8,469.6 279.9,469.6 280.1,469.6 280.2,469.6 280.3,469.6 280.4,469.6 280.6,506.1 280.7,506.1 280.8,506.1 281.0,506.1 281.1,469.6 281.2,469.6 281.4,506.1 281.5,469.6 281.6,506.1 281.7,506.1 281.9,506.1 282.0,506.1 282.1,506.1 282.3,506.1 282.4,506.1 282.5,506.1 282.7,506.1 282.8,506.1 282.9,506.1 283.0,506.1 283.2,506.1 283.3,506.1 283.4,506.1 283.6,506.1 283.7,506.1 283.8,506.1 284.0,506.1 284.1,506.1 284.2,506.1 284.3,506.1 284.5,506.1 284.6,506.1 284.7,506.1 284.9,506.1 285.0,506.1 285.1,506.1 285.3,506.1 285.4,506.1 285.5,469.6 285.6,469.6 285.8,469.6 285.9,469.6 286.0,506.1 286.2,469.6 286.3,469.6 286.4,469.6 286.6,469.6 286.7,506.1 286.8,469.6 286.9,469.6 287.1,469.6 287.2,506.1 287.3,506.1 287.5,469.6 287.6,469.6 287.7,469.6 287.9,506.1 288.0,506.1 288.1,469.6 288.2,469.6 288.4,469.6 288.5,469.6 288.6,469.6 288.8,469.6 288.9,469.6 289.0,469.6 289.2,469.6 289.3,469.6 289.4,506.1 289.5,506.1 289.7,506.1 289.8,506.1 289.9,506.1 290.1,506.1 290.2,506.1 290.3,469.6 290.5,506.1 290.6,506.1 290.7,506.1 290.8,506.1 291.0,506.1 291.1,506.1 291.2,506.1 291.4,506.1 291.5,506.1 291.6,506.1 291.8,469.6 291.9,469.6 292.0,506.1 292.1,506.1 292.3,506.1 292.4,469.6 292.5,469.6 292.7,506.1 292.8,506.1 292.9,506.1 293.1,506.1 293.2,469.6 293.3,506.1 293.4,506.1 293.6,469.6 293.7,506.1 293.8,506.1 294.0,506.1 294.1,506.1 294.2,506.1 294.4,506.1 294.5,506.1 294.6,506.1 294.7,506.1 294.9,506.1 295.0,506.1 295.1,506.1 295.3,506.1 295.4,506.1 295.5,506.1 295.7,506.1 295.8,506.1 295.9,506.1 296.0,506.1 296.2,506.1 296.3,506.1 296.4,506.1 296.6,506.1 296.7,469.6 296.8,469.6 297.0,469.6 297.1,469.6 297.2,469.6 297.3,506.1 297.5,506.1 297.6,506.1 297.7,469.6 297.9,469.6 298.0,469.6 298.1,469.6 298.3,469.6 298.4,469.6 298.5,469.6 298.6,469.6 298.8,469.6 298.9,469.6 299.0,469.6 299.2,506.1 299.3,506.1 299.4,506.1 299.6,506.1 299.7,506.1 299.8,506.1 299.9,469.6 300.1,506.1 300.2,506.1 300.3,469.6 300.5,469.6 300.6,469.6 300.7,506.1 300.9,469.6 301.0,469.6 301.1,469.6 301.2,469.6 301.4,506.1 301.5,469.6 301.6,506.1 301.8,506.1 301.9,506.1 302.0,506.1 302.2,506.1 302.3,506.1 302.4,506.1 302.5,506.1 302.7,506.1 302.8,506.1 302.9,506.1 303.1,506.1 303.2,506.1 303.3,469.6 303.5,506.1 303.6,506.1 303.7,506.1 303.8,506.1 304.0,506.1 304.1,506.1 304.2,506.1 304.4,506.1 304.5,469.6 304.6,469.6 304.8,469.6 304.9,469.6 305.0,469.6 305.1,506.1 305.3,506.1 305.4,506.1 305.5,506.1 305.7,506.1 305.8,506.1 305.9,506.1 306.1,506.1 306.2,506.1 306.3,506.1 306.4,506.1 306.6,506.1 306.7,506.1 306.8,506.1 307.0,506.1 307.1,506.1 307.2,506.1 307.4,506.1 307.5,506.1 307.6,506.1 307.7,506.1 307.9,506.1 308.0,506.1 308.1,469.6 308.3,506.1 308.4,506.1 308.5,506.1 308.7,506.1 308.8,506.1 308.9,469.6 309.0,469.6 309.2,469.6 309.3,469.6 309.4,506.1 309.6,506.1 309.7,469.6 309.8,506.1 310.0,506.1 310.1,469.6 310.2,469.6 310.3,469.6 310.5,469.6 310.6,469.6 310.7,469.6 310.9,469.6 311.0,469.6 311.1,469.6 311.3,469.6 311.4,506.1 311.5,506.1 311.6,506.1 311.8,506.1 311.9,506.1 312.0,506.1 312.2,506.1 312.3,506.1 312.4,506.1 312.6,506.1 312.7,506.1 312.8,469.6 312.9,469.6 313.1,506.1 313.2,506.1 313.3,506.1 313.5,506.1 313.6,506.1 313.7,506.1 313.9,469.6 314.0,506.1 314.1,506.1 314.2,506.1 314.4,506.1 314.5,506.1 314.6,506.1 314.8,506.1 314.9,506.1 315.0,506.1 315.2,506.1 315.3,506.1 315.4,506.1 315.5,506.1 315.7,506.1 315.8,506.1 315.9,506.1 316.1,469.6 316.2,506.1 316.3,506.1 316.5,506.1 316.6,506.1 316.7,506.1 316.8,506.1 317.0,506.1 317.1,469.6 317.2,469.6 317.4,506.1 317.5,506.1 317.6,506.1 317.8,506.1 317.9,506.1 318.0,469.6 318.1,506.1 318.3,506.1 318.4,506.1 318.5,506.1 318.7,506.1 318.8,506.1 318.9,506.1 319.1,506.1 319.2,469.6 319.3,469.6 319.4,469.6 319.6,469.6 319.7,469.6 319.8,506.1 320.0,506.1 320.1,469.6 320.2,469.6 320.4,469.6 320.5,469.6 320.6,469.6 320.7,469.6 320.9,469.6 321.0,469.6 321.1,469.6 321.3,469.6 321.4,506.1 321.5,469.6 321.7,469.6 321.8,506.1 321.9,469.6 322.0,469.6 322.2,469.6 322.3,469.6 322.4,469.6 322.6,469.6 322.7,469.6 322.8,469.6 323.0,506.1 323.1,506.1 323.2,506.1 323.3,506.1 323.5,506.1 323.6,506.1 323.7,506.1 323.9,506.1 324.0,506.1 324.1,469.6 324.3,506.1 324.4,506.1 324.5,506.1 324.6,506.1 324.8,506.1 324.9,506.1 325.0,506.1 325.2,506.1 325.3,506.1 325.4,506.1 325.6,469.6 325.7,469.6 325.8,506.1 325.9,506.1 326.1,469.6 326.2,469.6 326.3,469.6 326.5,469.6 326.6,469.6 326.7,469.6 326.9,469.6 327.0,469.6 327.1,469.6 327.2,506.1 327.4,506.1 327.5,506.1 327.6,506.1 327.8,506.1 327.9,506.1 328.0,506.1 328.2,506.1 328.3,506.1 328.4,506.1 328.5,506.1 328.7,506.1 328.8,506.1 328.9,506.1 329.1,506.1 329.2,506.1 329.3,506.1 329.5,506.1 329.6,506.1 329.7,506.1 329.8,506.1 330.0,506.1 330.1,469.6 330.2,469.6 330.4,469.6 330.5,469.6 330.6,469.6 330.8,469.6 330.9,506.1 331.0,506.1 331.1,506.1 331.3,469.6 331.4,469.6 331.5,506.1 331.7,506.1 331.8,506.1 331.9,506.1 332.1,506.1 332.2,469.6 332.3,506.1 332.4,469.6 332.6,506.1 332.7,506.1 332.8,469.6 333.0,469.6 333.1,469.6 333.2,469.6 333.4,469.6 333.5,469.6 333.6,469.6 333.7,469.6 333.9,469.6 334.0,469.6 334.1,469.6 334.3,469.6 334.4,469.6 334.5,469.6 334.7,469.6 334.8,469.6 334.9,469.6 335.0,506.1 335.2,469.6 335.3,469.6 335.4,469.6 335.6,506.1 335.7,506.1 335.8,469.6 336.0,469.6 336.1,506.1 336.2,506.1 336.3,506.1 336.5,506.1 336.6,469.6 336.7,469.6 336.9,469.6 337.0,469.6 337.1,469.6 337.3,469.6 337.4,506.1 337.5,469.6 337.6,506.1 337.8,506.1 337.9,506.1 338.0,506.1 338.2,506.1 338.3,506.1 338.4,506.1 338.6,506.1 338.7,506.1 338.8,506.1 338.9,506.1 339.1,506.1 339.2,506.1 339.3,506.1 339.5,506.1 339.6,506.1 339.7,506.1 339.9,506.1 340.0,506.1 340.1,506.1 340.2,506.1 340.4,469.6 340.5,469.6 340.6,506.1 340.8,506.1 340.9,506.1 341.0,506.1 341.2,506.1 341.3,506.1 341.4,506.1 341.5,506.1 341.7,506.1 341.8,506.1 341.9,506.1 342.1,506.1 342.2,506.1 342.3,506.1 342.5,506.1 342.6,506.1 342.7,506.1 342.8,506.1 343.0,506.1 343.1,506.1 343.2,506.1 343.4,506.1 343.5,469.6 343.6,506.1 343.8,506.1 343.9,506.1 344.0,506.1 344.1,506.1 344.3,506.1 344.4,506.1 344.5,469.6 344.7,469.6 344.8,506.1 344.9,506.1 345.1,506.1 345.2,506.1 345.3,506.1 345.4,506.1 345.6,506.1 345.7,506.1 345.8,469.6 346.0,469.6 346.1,469.6 346.2,469.6 346.4,469.6 346.5,469.6 346.6,506.1 346.7,506.1 346.9,506.1 347.0,469.6 347.1,469.6 347.3,469.6 347.4,469.6 347.5,469.6 347.7,469.6 347.8,506.1 347.9,506.1 348.0,506.1 348.2,506.1 348.3,506.1 348.4,506.1 348.6,506.1 348.7,506.1 348.8,469.6 349.0,469.6 349.1,506.1 349.2,469.6 349.3,469.6 349.5,469.6 349.6,469.6 349.7,469.6 349.9,469.6 350.0,469.6 350.1,469.6 350.3,469.6 350.4,469.6 350.5,469.6 350.6,469.6 350.8,469.6 350.9,469.6 351.0,469.6 351.2,506.1 351.3,506.1 351.4,506.1 351.6,506.1 351.7,506.1 351.8,506.1 351.9,506.1 352.1,469.6 352.2,506.1 352.3,506.1 352.5,506.1 352.6,506.1 352.7,506.1 352.9,506.1 353.0,506.1 353.1,506.1 353.2,506.1 353.4,469.6 353.5,469.6 353.6,469.6 353.8,506.1 353.9,469.6 354.0,506.1 354.2,469.6 354.3,469.6 354.4,469.6 354.5,469.6 354.7,506.1 354.8,469.6 354.9,469.6 355.1,469.6 355.2,469.6 355.3,506.1 355.5,506.1 355.6,469.6 355.7,469.6 355.8,469.6 356.0,469.6 356.1,469.6 356.2,506.1 356.4,469.6 356.5,469.6 356.6,506.1 356.8,506.1 356.9,506.1 357.0,506.1 357.1,469.6 357.3,506.1 357.4,506.1 357.5,469.6 357.7,469.6 357.8,506.1 357.9,506.1 358.1,469.6 358.2,469.6 358.3,506.1 358.4,506.1 358.6,506.1 358.7,506.1 358.8,506.1 359.0,506.1 359.1,506.1 359.2,469.6 359.4,469.6 359.5,469.6 359.6,469.6 359.7,469.6 359.9,506.1 360.0,469.6 360.1,469.6 360.3,506.1 360.4,506.1 360.5,469.6 360.7,469.6 360.8,506.1 360.9,469.6 361.0,469.6 361.2,469.6 361.3,469.6 361.4,506.1 361.6,469.6 361.7,469.6 361.8,506.1 362.0,469.6 362.1,469.6 362.2,469.6 362.3,506.1 362.5,469.6 362.6,469.6 362.7,469.6 362.9,469.6 363.0,469.6 363.1,469.6 363.3,506.1 363.4,506.1 363.5,506.1 363.6,506.1 363.8,506.1 363.9,506.1 364.0,506.1 364.2,506.1 364.3,506.1 364.4,506.1 364.6,506.1 364.7,506.1 364.8,506.1 364.9,469.6 365.1,469.6 365.2,469.6 365.3,469.6 365.5,469.6 365.6,469.6 365.7,469.6 365.9,469.6 366.0,469.6 366.1,506.1 366.2,506.1 366.4,506.1 366.5,506.1 366.6,506.1 366.8,506.1 366.9,506.1 367.0,506.1 367.2,506.1 367.3,506.1 367.4,506.1 367.5,506.1 367.7,506.1 367.8,506.1 367.9,506.1 368.1,469.6 368.2,469.6 368.3,469.6 368.5,469.6 368.6,469.6 368.7,469.6 368.8,469.6 369.0,469.6 369.1,469.6 369.2,506.1 369.4,506.1 369.5,506.1 369.6,506.1 369.8,506.1 369.9,506.1 370.0,506.1 370.1,506.1 370.3,469.6 370.4,469.6 370.5,469.6 370.7,469.6 370.8,469.6 370.9,469.6 371.1,506.1 371.2,506.1 371.3,506.1 371.4,506.1 371.6,506.1 371.7,469.6 371.8,469.6 372.0,506.1 372.1,506.1 372.2,506.1 372.4,506.1 372.5,506.1 372.6,506.1 372.7,469.6 372.9,506.1 373.0,506.1 373.1,506.1 373.3,469.6 373.4,506.1 373.5,506.1 373.7,506.1 373.8,506.1 373.9,469.6 374.0,506.1 374.2,506.1 374.3,506.1 374.4,506.1 374.6,506.1 374.7,469.6 374.8,469.6 375.0,469.6 375.1,469.6 375.2,469.6 375.3,469.6 375.5,506.1 375.6,506.1 375.7,506.1 375.9,469.6 376.0,469.6 376.1,469.6 376.3,469.6 376.4,506.1 376.5,506.1 376.6,469.6 376.8,469.6 376.9,506.1 377.0,506.1 377.2,469.6 377.3,506.1 377.4,506.1 377.6,506.1 377.7,469.6 377.8,469.6 377.9,469.6 378.1,469.6 378.2,469.6 378.3,506.1 378.5,506.1 378.6,469.6 378.7,469.6 378.9,506.1 379.0,469.6 379.1,506.1 379.2,506.1 379.4,506.1 379.5,469.6 379.6,469.6 379.8,469.6 379.9,469.6 380.0,506.1 380.2,506.1 380.3,506.1 380.4,506.1 380.5,506.1 380.7,469.6 380.8,469.6 380.9,469.6 381.1,506.1 381.2,506.1 381.3,506.1 381.5,469.6 381.6,469.6 381.7,469.6 381.8,469.6 382.0,469.6 382.1,469.6 382.2,469.6 382.4,469.6 382.5,469.6 382.6,469.6 382.8,506.1 382.9,506.1 383.0,506.1 383.1,506.1 383.3,506.1 383.4,506.1 383.5,469.6 383.7,469.6 383.8,469.6 383.9,469.6 384.1,469.6 384.2,469.6 384.3,469.6 384.4,469.6 384.6,469.6 384.7,469.6 384.8,469.6 385.0,469.6 385.1,469.6 385.2,469.6 385.4,469.6 385.5,469.6 385.6,469.6 385.7,469.6 385.9,469.6 386.0,469.6 386.1,469.6 386.3,469.6 386.4,506.1 386.5,506.1 386.7,506.1 386.8,506.1 386.9,506.1 387.0,506.1 387.2,506.1 387.3,506.1 387.4,506.1 387.6,506.1 387.7,506.1 387.8,506.1 388.0,506.1 388.1,469.6 388.2,469.6 388.3,469.6 388.5,469.6 388.6,469.6 388.7,469.6 388.9,469.6 389.0,469.6 389.1,469.6 389.3,469.6 389.4,506.1 389.5,469.6 389.6,469.6 389.8,469.6 389.9,469.6 390.0,469.6 390.2,469.6 390.3,469.6 390.4,469.6 390.6,469.6 390.7,506.1 390.8,506.1 390.9,469.6 391.1,506.1 391.2,469.6 391.3,506.1 391.5,506.1 391.6,506.1 391.7,506.1 391.9,506.1 392.0,506.1 392.1,506.1 392.2,506.1 392.4,469.6 392.5,506.1 392.6,506.1 392.8,469.6 392.9,506.1 393.0,506.1 393.2,506.1 393.3,506.1 393.4,506.1 393.5,506.1 393.7,506.1 393.8,506.1 393.9,506.1 394.1,469.6 394.2,469.6 394.3,469.6 394.5,469.6 394.6,469.6 394.7,469.6 394.8,469.6 395.0,506.1 395.1,506.1 395.2,506.1 395.4,506.1 395.5,506.1 395.6,469.6 395.8,469.6 395.9,469.6 396.0,506.1 396.1,506.1 396.3,469.6 396.4,469.6 396.5,469.6 396.7,506.1 396.8,506.1 396.9,506.1 397.1,506.1 397.2,506.1 397.3,506.1 397.4,506.1 397.6,469.6 397.7,469.6 397.8,469.6 398.0,469.6 398.1,469.6 398.2,469.6 398.4,469.6 398.5,469.6 398.6,469.6 398.7,506.1 398.9,506.1 399.0,506.1 399.1,506.1 399.3,506.1 399.4,469.6 399.5,469.6 399.7,469.6 399.8,469.6 399.9,469.6 400.0,469.6 400.2,469.6 400.3,469.6 400.4,469.6 400.6,506.1 400.7,506.1 400.8,506.1 401.0,506.1 401.1,506.1 401.2,469.6 401.3,506.1 401.5,469.6 401.6,506.1 401.7,506.1 401.9,506.1 402.0,506.1 402.1,506.1 402.3,506.1 402.4,506.1 402.5,506.1 402.6,506.1 402.8,506.1 402.9,506.1 403.0,506.1 403.2,506.1 403.3,469.6 403.4,469.6 403.6,469.6 403.7,469.6 403.8,506.1 403.9,469.6 404.1,506.1 404.2,506.1 404.3,506.1 404.5,506.1 404.6,506.1 404.7,506.1 404.9,506.1 405.0,506.1 405.1,506.1 405.2,506.1 405.4,506.1 405.5,506.1 405.6,506.1 405.8,506.1 405.9,506.1 406.0,506.1 406.2,506.1 406.3,506.1 406.4,469.6 406.5,469.6 406.7,469.6 406.8,469.6 406.9,469.6 407.1,469.6 407.2,469.6 407.3,506.1 407.5,469.6 407.6,506.1 407.7,506.1 407.8,469.6 408.0,469.6 408.1,506.1 408.2,506.1 408.4,506.1 408.5,469.6 408.6,506.1 408.8,506.1 408.9,469.6 409.0,469.6 409.1,469.6 409.3,469.6 409.4,469.6 409.5,469.6 409.7,469.6 409.8,469.6 409.9,469.6 410.1,506.1 410.2,469.6 410.3,469.6 410.4,469.6 410.6,469.6 410.7,506.1 410.8,506.1 411.0,506.1 411.1,506.1 411.2,506.1 411.4,469.6 411.5,506.1 411.6,506.1 411.7,506.1 411.9,506.1 412.0,469.6 412.1,469.6 412.3,506.1 412.4,506.1 412.5,469.6 412.7,469.6 412.8,469.6 412.9,469.6 413.0,469.6 413.2,506.1 413.3,506.1 413.4,506.1 413.6,506.1 413.7,506.1 413.8,506.1 414.0,506.1 414.1,506.1 414.2,469.6 414.3,469.6 414.5,469.6 414.6,506.1 414.7,469.6 414.9,469.6 415.0,469.6 415.1,469.6 415.3,469.6 415.4,506.1 415.5,506.1 415.6,506.1 415.8,469.6 415.9,506.1 416.0,506.1 416.2,506.1 416.3,469.6 416.4,469.6 416.6,469.6 416.7,469.6 416.8,506.1 416.9,469.6 417.1,469.6 417.2,506.1 417.3,506.1 417.5,506.1 417.6,506.1 417.7,506.1 417.9,506.1 418.0,506.1 418.1,506.1 418.2,506.1 418.4,506.1 418.5,506.1 418.6,506.1 418.8,506.1 418.9,506.1 419.0,506.1 419.2,506.1 419.3,506.1 419.4,506.1 419.5,506.1 419.7,506.1 419.8,506.1 419.9,506.1 420.1,506.1 420.2,506.1 420.3,506.1 420.5,506.1 420.6,506.1 420.7,506.1 420.8,506.1 421.0,506.1 421.1,506.1 421.2,506.1 421.4,506.1 421.5,469.6 421.6,469.6 421.8,469.6 421.9,469.6 422.0,506.1 422.1,506.1 422.3,506.1 422.4,506.1 422.5,506.1 422.7,506.1 422.8,469.6 422.9,469.6 423.1,506.1 423.2,506.1 423.3,469.6 423.4,506.1 423.6,469.6 423.7,469.6 423.8,469.6 424.0,469.6 424.1,469.6 424.2,506.1 424.4,506.1 424.5,506.1 424.6,506.1 424.7,506.1 424.9,506.1 425.0,469.6 425.1,506.1 425.3,506.1 425.4,469.6 425.5,469.6 425.7,469.6 425.8,506.1 425.9,506.1 426.0,506.1 426.2,506.1 426.3,469.6 426.4,469.6 426.6,469.6 426.7,469.6 426.8,469.6 427.0,469.6 427.1,469.6 427.2,469.6 427.3,469.6 427.5,469.6 427.6,469.6 427.7,469.6 427.9,469.6 428.0,506.1 428.1,469.6 428.3,469.6 428.4,469.6 428.5,469.6 428.6,469.6 428.8,506.1 428.9,506.1 429.0,506.1 429.2,506.1 429.3,506.1 429.4,469.6 429.6,469.6 429.7,469.6 429.8,469.6 429.9,469.6 430.1,469.6 430.2,469.6 430.3,506.1 430.5,469.6 430.6,469.6 430.7,469.6 430.9,469.6 431.0,506.1 431.1,506.1 431.2,506.1 431.4,506.1 431.5,469.6 431.6,469.6 431.8,469.6 431.9,469.6 432.0,469.6 432.2,469.6 432.3,469.6 432.4,469.6 432.5,469.6 432.7,469.6 432.8,469.6 432.9,469.6 433.1,469.6 433.2,469.6 433.3,469.6 433.5,506.1 433.6,506.1 433.7,506.1 433.8,506.1 434.0,506.1 434.1,506.1 434.2,469.6 434.4,469.6 434.5,469.6 434.6,469.6 434.8,506.1 434.9,506.1 435.0,469.6 435.1,469.6 435.3,469.6 435.4,506.1 435.5,506.1 435.7,506.1 435.8,506.1 435.9,506.1 436.1,506.1 436.2,506.1 436.3,506.1 436.4,469.6 436.6,506.1 436.7,506.1 436.8,506.1 437.0,506.1 437.1,506.1 437.2,506.1 437.4,506.1 437.5,506.1 437.6,506.1 437.7,469.6 437.9,506.1 438.0,469.6 438.1,469.6 438.3,469.6 438.4,469.6 438.5,506.1 438.7,506.1 438.8,506.1 438.9,506.1 439.0,506.1 439.2,469.6 439.3,469.6 439.4,469.6 439.6,506.1 439.7,506.1 439.8,506.1 440.0,506.1 440.1,506.1 440.2,506.1 440.3,469.6 440.5,469.6 440.6,469.6 440.7,469.6 440.9,469.6 441.0,469.6 441.1,469.6 441.3,506.1 441.4,506.1 441.5,506.1 441.6,506.1 441.8,506.1 441.9,506.1 442.0,506.1 442.2,469.6 442.3,469.6 442.4,469.6 442.6,469.6 442.7,469.6 442.8,469.6 442.9,469.6 443.1,469.6 443.2,469.6 443.3,506.1 443.5,469.6 443.6,506.1 443.7,506.1 443.9,506.1 444.0,506.1 444.1,506.1 444.2,506.1 444.4,469.6 444.5,469.6 444.6,469.6 444.8,469.6 444.9,469.6 445.0,469.6 445.2,506.1 445.3,506.1 445.4,469.6 445.5,506.1 445.7,469.6 445.8,469.6 445.9,506.1 446.1,469.6 446.2,469.6 446.3,469.6 446.5,469.6 446.6,506.1 446.7,506.1 446.8,469.6 447.0,469.6 447.1,469.6 447.2,469.6 447.4,469.6 447.5,469.6 447.6,469.6 447.8,469.6 447.9,469.6 448.0,469.6 448.1,469.6 448.3,469.6 448.4,469.6 448.5,469.6 448.7,469.6 448.8,506.1 448.9,469.6 449.1,469.6 449.2,506.1 449.3,506.1 449.4,469.6 449.6,469.6 449.7,469.6 449.8,506.1 450.0,506.1 450.1,506.1 450.2,506.1 450.4,506.1 450.5,506.1 450.6,506.1 450.7,469.6 450.9,469.6 451.0,469.6 451.1,469.6 451.3,469.6 451.4,469.6 451.5,506.1 451.7,469.6 451.8,469.6 451.9,469.6 452.0,469.6 452.2,469.6 452.3,506.1 452.4,506.1 452.6,506.1 452.7,506.1 452.8,506.1 453.0,506.1 453.1,506.1 453.2,506.1 453.3,506.1 453.5,506.1 453.6,506.1 453.7,506.1 453.9,469.6 454.0,469.6 454.1,469.6 454.3,506.1 454.4,469.6 454.5,469.6 454.6,506.1 454.8,469.6 454.9,469.6 455.0,506.1 455.2,506.1 455.3,506.1 455.4,506.1 455.6,469.6 455.7,506.1 455.8,469.6 455.9,469.6 456.1,469.6 456.2,469.6 456.3,506.1 456.5,506.1 456.6,506.1 456.7,506.1 456.9,469.6 457.0,469.6 457.1,506.1 457.2,506.1 457.4,506.1 457.5,506.1 457.6,506.1 457.8,506.1 457.9,506.1 458.0,469.6 458.2,469.6 458.3,469.6 458.4,469.6 458.5,469.6 458.7,469.6 458.8,469.6 458.9,506.1 459.1,469.6 459.2,469.6 459.3,469.6 459.5,469.6 459.6,469.6 459.7,469.6 459.8,469.6 460.0,469.6 460.1,506.1 460.2,506.1 460.4,469.6 460.5,506.1 460.6,506.1 460.8,506.1 460.9,506.1 461.0,506.1 461.1,506.1 461.3,506.1 461.4,506.1 461.5,506.1 461.7,506.1 461.8,506.1 461.9,506.1 462.1,506.1 462.2,506.1 462.3,506.1 462.4,506.1 462.6,506.1 462.7,506.1 462.8,506.1 463.0,469.6 463.1,469.6 463.2,506.1 463.4,506.1 463.5,506.1 463.6,506.1 463.7,506.1 463.9,506.1 464.0,506.1 464.1,506.1 464.3,506.1 464.4,506.1 464.5,506.1 464.7,506.1 464.8,506.1 464.9,506.1 465.0,506.1 465.2,506.1 465.3,506.1 465.4,506.1 465.6,506.1 465.7,469.6 465.8,469.6 466.0,506.1 466.1,469.6 466.2,469.6 466.3,469.6 466.5,469.6 466.6,506.1 466.7,506.1 466.9,506.1 467.0,506.1 467.1,506.1 467.3,506.1 467.4,506.1 467.5,506.1 467.6,506.1 467.8,506.1 467.9,506.1 468.0,506.1 468.2,506.1 468.3,506.1 468.4,506.1 468.6,506.1 468.7,506.1 468.8,506.1 468.9,506.1 469.1,506.1 469.2,506.1 469.3,506.1 469.5,506.1 469.6,506.1 469.7,506.1 469.9,506.1 470.0,506.1 470.1,506.1 470.2,506.1 470.4,506.1 470.5,506.1 470.6,506.1 470.8,506.1 470.9,506.1 471.0,506.1 471.2,506.1 471.3,506.1 471.4,506.1 471.5,506.1 471.7,506.1 471.8,506.1 471.9,506.1 472.1,506.1 472.2,506.1 472.3,506.1 472.5,469.6 472.6,506.1 472.7,506.1 472.8,506.1 473.0,506.1 473.1,506.1 473.2,469.6 473.4,506.1 473.5,506.1 473.6,506.1 473.8,506.1 473.9,506.1 474.0,506.1 474.1,506.1 474.3,469.6 474.4,506.1 474.5,506.1 474.7,506.1 474.8,506.1 474.9,469.6 475.1,506.1 475.2,469.6 475.3,469.6 475.4,469.6 475.6,506.1 475.7,506.1 475.8,469.6 476.0,469.6 476.1,469.6 476.2,469.6 476.4,469.6 476.5,469.6 476.6,469.6 476.7,469.6 476.9,469.6 477.0,469.6 477.1,469.6 477.3,506.1 477.4,506.1 477.5,506.1 477.7,506.1 477.8,506.1 477.9,506.1 478.0,506.1 478.2,506.1 478.3,506.1 478.4,506.1 478.6,506.1 478.7,506.1 478.8,506.1 479.0,506.1 479.1,506.1 479.2,506.1 479.3,506.1 479.5,506.1 479.6,506.1 479.7,506.1 479.9,506.1 480.0,506.1 480.1,506.1 480.3,469.6 480.4,506.1 480.5,506.1 480.6,506.1 480.8,506.1 480.9,506.1 481.0,506.1 481.2,506.1 481.3,506.1 481.4,506.1 481.6,506.1 481.7,506.1 481.8,506.1 481.9,506.1 482.1,506.1 482.2,506.1 482.3,469.6 482.5,469.6 482.6,469.6 482.7,469.6 482.9,469.6 483.0,469.6 483.1,469.6 483.2,469.6 483.4,469.6 483.5,469.6 483.6,469.6 483.8,469.6 483.9,469.6 484.0,506.1 484.2,506.1 484.3,469.6 484.4,469.6 484.5,469.6 484.7,469.6 484.8,506.1 484.9,469.6 485.1,506.1 485.2,506.1 485.3,506.1 485.5,506.1 485.6,506.1 485.7,469.6 485.8,469.6 486.0,469.6 486.1,506.1 486.2,506.1 486.4,469.6 486.5,469.6 486.6,469.6 486.8,506.1 486.9,506.1 487.0,506.1 487.1,506.1 487.3,506.1 487.4,469.6 487.5,469.6 487.7,506.1 487.8,506.1 487.9,506.1 488.1,506.1 488.2,506.1 488.3,469.6 488.4,506.1 488.6,506.1 488.7,506.1 488.8,506.1 489.0,506.1 489.1,506.1 489.2,506.1 489.4,469.6 489.5,469.6 489.6,469.6 489.7,469.6 489.9,506.1 490.0,506.1 490.1,506.1 490.3,506.1 490.4,469.6 490.5,469.6 490.7,506.1 490.8,506.1 490.9,506.1 491.0,506.1 491.2,469.6 491.3,469.6 491.4,506.1 491.6,506.1 491.7,506.1 491.8,506.1 492.0,469.6 492.1,506.1 492.2,506.1 492.3,469.6 492.5,469.6 492.6,506.1 492.7,506.1 492.9,506.1 493.0,506.1 493.1,506.1 493.3,506.1 493.4,506.1 493.5,506.1 493.6,506.1 493.8,506.1 493.9,506.1 494.0,506.1 494.2,506.1 494.3,506.1 494.4,506.1 494.6,506.1 494.7,506.1 494.8,469.6 494.9,469.6 495.1,506.1 495.2,506.1 495.3,506.1 495.5,506.1 495.6,506.1 495.7,506.1 495.9,506.1 496.0,506.1 496.1,506.1 496.2,506.1 496.4,506.1 496.5,506.1 496.6,506.1 496.8,506.1 496.9,506.1 497.0,506.1 497.2,506.1 497.3,469.6 497.4,469.6 497.5,469.6 497.7,506.1 497.8,506.1 497.9,506.1 498.1,506.1 498.2,506.1 498.3,506.1 498.5,506.1 498.6,506.1 498.7,506.1 498.8,506.1 499.0,506.1 499.1,506.1 499.2,506.1 499.4,506.1 499.5,506.1 499.6,506.1 499.8,506.1 499.9,506.1 500.0,506.1 500.1,506.1 500.3,506.1 500.4,506.1 500.5,506.1 500.7,506.1 500.8,506.1 500.9,469.6 501.1,469.6 501.2,506.1 501.3,506.1 501.4,506.1 501.6,506.1 501.7,506.1 501.8,506.1 502.0,506.1 502.1,506.1 502.2,506.1 502.4,506.1 502.5,506.1 502.6,506.1 502.7,469.6 502.9,469.6 503.0,469.6 503.1,506.1 503.3,506.1 503.4,506.1 503.5,506.1 503.7,506.1 503.8,469.6 503.9,469.6 504.0,469.6 504.2,506.1 504.3,506.1 504.4,506.1 504.6,469.6 504.7,469.6 504.8,469.6 505.0,469.6 505.1,506.1 505.2,506.1 505.3,506.1 505.5,506.1 505.6,469.6 505.7,469.6 505.9,469.6 506.0,506.1 506.1,506.1 506.3,506.1 506.4,506.1 506.5,506.1 506.6,506.1 506.8,506.1 506.9,506.1 507.0,506.1 507.2,506.1 507.3,469.6 507.4,469.6 507.6,469.6 507.7,469.6 507.8,506.1 507.9,506.1 508.1,506.1 508.2,506.1 508.3,506.1 508.5,469.6 508.6,469.6 508.7,506.1 508.9,506.1 509.0,469.6 509.1,469.6 509.2,506.1 509.4,506.1 509.5,506.1 509.6,506.1 509.8,469.6 509.9,506.1 510.0,506.1 510.2,506.1 510.3,506.1 510.4,506.1 510.5,469.6 510.7,469.6 510.8,469.6 510.9,506.1 511.1,506.1 511.2,506.1 511.3,506.1 511.5,506.1 511.6,469.6 511.7,506.1 511.8,506.1 512.0,506.1 512.1,506.1 512.2,506.1 512.4,469.6 512.5,469.6 512.6,469.6 512.8,469.6 512.9,506.1 513.0,506.1 513.1,506.1 513.3,469.6 513.4,469.6 513.5,469.6 513.7,469.6 513.8,469.6 513.9,469.6 514.1,469.6 514.2,469.6 514.3,469.6 514.4,469.6 514.6,469.6 514.7,506.1 514.8,506.1 515.0,506.1 515.1,506.1 515.2,469.6 515.4,469.6 515.5,469.6 515.6,469.6 515.7,469.6 515.9,469.6 516.0,506.1 516.1,506.1 516.3,469.6 516.4,506.1 516.5,506.1 516.7,506.1 516.8,506.1 516.9,506.1 517.0,506.1 517.2,506.1 517.3,506.1 517.4,506.1 517.6,506.1 517.7,506.1 517.8,506.1 518.0,506.1 518.1,506.1 518.2,506.1 518.3,506.1 518.5,506.1 518.6,506.1 518.7,506.1 518.9,506.1 519.0,506.1 519.1,506.1 519.3,506.1 519.4,506.1 519.5,506.1 519.6,506.1 519.8,506.1 519.9,506.1 520.0,469.6 520.2,506.1 520.3,469.6 520.4,506.1 520.6,506.1 520.7,506.1 520.8,506.1 520.9,469.6 521.1,506.1 521.2,506.1 521.3,506.1 521.5,469.6 521.6,469.6 521.7,469.6 521.9,469.6 522.0,506.1 522.1,506.1 522.2,469.6 522.4,469.6 522.5,469.6 522.6,469.6 522.8,469.6 522.9,469.6 523.0,506.1 523.2,506.1 523.3,506.1 523.4,506.1 523.5,506.1 523.7,506.1 523.8,469.6 523.9,469.6 524.1,469.6 524.2,469.6 524.3,469.6 524.5,506.1 524.6,506.1 524.7,506.1 524.8,506.1 525.0,506.1 525.1,506.1 525.2,469.6 525.4,506.1 525.5,506.1 525.6,506.1 525.8,506.1 525.9,506.1 526.0,506.1 526.1,506.1 526.3,506.1 526.4,506.1 526.5,506.1 526.7,469.6 526.8,506.1 526.9,469.6 527.1,469.6 527.2,469.6 527.3,469.6 527.4,469.6 527.6,506.1 527.7,469.6 527.8,469.6 528.0,469.6 528.1,469.6 528.2,469.6 528.4,506.1 528.5,506.1 528.6,506.1 528.7,506.1 528.9,506.1 529.0,506.1 529.1,506.1 529.3,469.6 529.4,469.6 529.5,469.6 529.7,469.6 529.8,469.6 529.9,506.1 530.0,506.1 530.2,506.1 530.3,506.1 530.4,506.1 530.6,506.1 530.7,506.1 530.8,469.6 531.0,469.6 531.1,469.6 531.2,469.6 531.3,469.6 531.5,469.6 531.6,506.1 531.7,506.1 531.9,506.1 532.0,506.1 532.1,469.6 532.3,469.6 532.4,469.6 532.5,469.6 532.6,469.6 532.8,506.1 532.9,506.1 533.0,506.1 533.2,506.1 533.3,506.1 533.4,506.1 533.6,506.1 533.7,469.6 533.8,506.1 533.9,469.6 534.1,506.1 534.2,469.6 534.3,469.6 534.5,469.6 534.6,506.1 534.7,506.1 534.9,506.1 535.0,506.1 535.1,506.1 535.2,506.1 535.4,506.1 535.5,469.6 535.6,469.6 535.8,469.6 535.9,469.6 536.0,469.6 536.2,469.6 536.3,506.1 536.4,506.1 536.5,506.1 536.7,469.6 536.8,469.6 536.9,469.6 537.1,469.6 537.2,469.6 537.3,469.6 537.5,506.1 537.6,506.1 537.7,469.6 537.8,469.6 538.0,469.6 538.1,469.6 538.2,469.6 538.4,469.6 538.5,469.6 538.6,469.6 538.8,469.6 538.9,469.6 539.0,469.6 539.1,469.6 539.3,506.1 539.4,469.6 539.5,469.6 539.7,469.6 539.8,469.6 539.9,506.1 540.1,506.1 540.2,469.6 540.3,469.6 540.4,469.6 540.6,469.6 540.7,469.6 540.8,469.6 541.0,506.1 541.1,506.1 541.2,506.1 541.4,506.1 541.5,469.6 541.6,469.6 541.7,506.1 541.9,506.1 542.0,469.6 542.1,469.6 542.3,469.6 542.4,506.1 542.5,469.6 542.7,469.6 542.8,506.1 542.9,506.1 543.0,506.1 543.2,506.1 543.3,506.1 543.4,506.1 543.6,469.6 543.7,469.6 543.8,469.6 544.0,469.6 544.1,469.6 544.2,469.6 544.3,506.1 544.5,506.1 544.6,506.1 544.7,469.6 544.9,469.6 545.0,469.6 545.1,506.1 545.3,506.1 545.4,506.1 545.5,506.1 545.6,506.1 545.8,506.1 545.9,506.1 546.0,506.1 546.2,506.1 546.3,506.1 546.4,506.1 546.6,506.1 546.7,506.1 546.8,506.1 546.9,506.1 547.1,506.1 547.2,469.6 547.3,469.6 547.5,506.1 547.6,506.1 547.7,469.6 547.9,469.6 548.0,469.6 548.1,469.6 548.2,506.1 548.4,469.6 548.5,469.6 548.6,469.6 548.8,469.6 548.9,469.6 549.0,469.6 549.2,469.6 549.3,506.1 549.4,469.6 549.5,506.1 549.7,506.1 549.8,506.1 549.9,506.1 550.1,506.1 550.2,506.1 550.3,506.1 550.5,506.1 550.6,469.6 550.7,469.6 550.8,469.6 551.0,469.6 551.1,506.1 551.2,506.1 551.4,506.1 551.5,506.1 551.6,506.1 551.8,506.1 551.9,506.1 552.0,506.1 552.1,469.6 552.3,469.6 552.4,469.6 552.5,506.1 552.7,506.1 552.8,506.1 552.9,506.1 553.1,469.6 553.2,469.6 553.3,469.6 553.4,469.6 553.6,506.1 553.7,506.1 553.8,506.1 554.0,506.1 554.1,469.6 554.2,469.6 554.4,469.6 554.5,469.6 554.6,469.6 554.7,506.1 554.9,469.6 555.0,469.6 555.1,469.6 555.3,469.6 555.4,469.6 555.5,506.1 555.7,506.1 555.8,506.1 555.9,506.1 556.0,469.6 556.2,469.6 556.3,469.6 556.4,469.6 556.6,469.6 556.7,506.1 556.8,506.1 557.0,506.1 557.1,506.1 557.2,506.1 557.3,506.1 557.5,506.1 557.6,506.1 557.7,506.1 557.9,506.1 558.0,506.1 558.1,506.1 558.3,506.1 558.4,506.1 558.5,506.1 558.6,506.1 558.8,506.1 558.9,506.1 559.0,506.1 559.2,506.1 559.3,506.1 559.4,506.1 559.6,506.1 559.7,506.1 559.8,506.1 559.9,506.1 560.1,506.1 560.2,469.6 560.3,469.6 560.5,469.6 560.6,506.1 560.7,506.1 560.9,469.6 561.0,469.6 561.1,506.1 561.2,506.1 561.4,506.1 561.5,506.1 561.6,469.6 561.8,506.1 561.9,469.6 562.0,469.6 562.2,469.6 562.3,469.6 562.4,469.6 562.5,469.6 562.7,506.1 562.8,506.1 562.9,506.1 563.1,506.1 563.2,506.1 563.3,506.1 563.5,506.1 563.6,506.1 563.7,469.6 563.8,506.1 564.0,506.1 564.1,506.1 564.2,469.6 564.4,469.6 564.5,469.6 564.6,469.6 564.8,506.1 564.9,506.1 565.0,506.1 565.1,506.1 565.3,469.6 565.4,506.1 565.5,469.6 565.7,506.1 565.8,506.1 565.9,506.1 566.1,506.1 566.2,506.1 566.3,506.1 566.4,506.1 566.6,506.1 566.7,506.1 566.8,506.1 567.0,506.1 567.1,506.1 567.2,506.1 567.4,506.1 567.5,506.1 567.6,506.1 567.7,506.1 567.9,506.1 568.0,469.6 568.1,506.1 568.3,506.1 568.4,506.1 568.5,506.1 568.7,469.6 568.8,469.6 568.9,469.6 569.0,469.6 569.2,469.6 569.3,506.1 569.4,469.6 569.6,469.6 569.7,469.6 569.8,469.6 570.0,506.1 570.1,506.1 570.2,506.1 570.3,506.1 570.5,506.1 570.6,469.6 570.7,469.6 570.9,469.6 571.0,469.6 571.1,506.1 571.3,506.1 571.4,469.6 571.5,506.1 571.6,506.1 571.8,506.1 571.9,506.1 572.0,506.1 572.2,506.1 572.3,506.1 572.4,506.1 572.6,506.1 572.7,506.1 572.8,506.1 572.9,506.1 573.1,506.1 573.2,506.1 573.3,506.1 573.5,506.1 573.6,469.6 573.7,506.1 573.9,506.1 574.0,506.1 574.1,506.1 574.2,506.1 574.4,506.1 574.5,469.6 574.6,469.6 574.8,506.1 574.9,469.6 575.0,469.6 575.2,469.6 575.3,506.1 575.4,506.1 575.5,469.6 575.7,469.6 575.8,506.1 575.9,469.6 576.1,469.6 576.2,506.1 576.3,506.1 576.5,506.1 576.6,506.1 576.7,469.6 576.8,469.6 577.0,506.1 577.1,506.1 577.2,506.1 577.4,506.1 577.5,506.1 577.6,506.1 577.8,506.1 577.9,506.1 578.0,506.1 578.1,469.6 578.3,469.6 578.4,469.6 578.5,506.1 578.7,469.6 578.8,469.6 578.9,469.6 579.1,469.6 579.2,469.6 579.3,469.6 579.4,469.6 579.6,469.6 579.7,469.6 579.8,469.6 580.0,469.6 580.1,469.6 580.2,469.6 580.4,469.6 580.5,469.6 580.6,469.6 580.7,506.1 580.9,506.1 581.0,506.1 581.1,469.6 581.3,469.6 581.4,469.6 581.5,469.6 581.7,469.6 581.8,469.6 581.9,469.6 582.0,469.6 582.2,469.6 582.3,469.6 582.4,469.6 582.6,469.6 582.7,469.6 582.8,469.6 583.0,469.6 583.1,469.6 583.2,469.6 583.3,506.1 583.5,506.1 583.6,469.6 583.7,469.6 583.9,506.1 584.0,506.1 584.1,506.1 584.3,469.6 584.4,469.6 584.5,469.6 584.6,469.6 584.8,469.6 584.9,469.6 585.0,506.1 585.2,469.6 585.3,469.6 585.4,506.1 585.6,506.1 585.7,506.1 585.8,506.1 585.9,506.1 586.1,506.1 586.2,469.6 586.3,506.1 586.5,506.1 586.6,506.1 586.7,506.1 586.9,506.1 587.0,506.1 587.1,469.6 587.2,469.6 587.4,469.6 587.5,506.1 587.6,506.1 587.8,506.1 587.9,506.1 588.0,506.1 588.2,506.1 588.3,469.6 588.4,469.6 588.5,469.6 588.7,469.6 588.8,506.1 588.9,506.1 589.1,469.6 589.2,469.6 589.3,469.6 589.5,506.1 589.6,469.6 589.7,469.6 589.8,469.6 590.0,469.6 590.1,469.6 590.2,469.6 590.4,469.6 590.5,469.6 590.6,469.6 590.8,506.1 590.9,506.1 591.0,506.1 591.1,469.6 591.3,469.6 591.4,506.1 591.5,469.6 591.7,469.6 591.8,469.6 591.9,469.6 592.1,469.6 592.2,506.1 592.3,469.6 592.4,469.6 592.6,469.6 592.7,469.6 592.8,469.6 593.0,506.1 593.1,506.1 593.2,506.1 593.4,469.6 593.5,469.6 593.6,469.6 593.7,469.6 593.9,469.6 594.0,469.6 594.1,469.6 594.3,506.1 594.4,506.1 594.5,469.6 594.7,506.1 594.8,469.6 594.9,469.6 595.0,506.1 595.2,506.1 595.3,469.6 595.4,506.1 595.6,506.1 595.7,506.1 595.8,506.1 596.0,506.1 596.1,506.1 596.2,469.6 596.3,469.6 596.5,469.6 596.6,469.6 596.7,506.1 596.9,469.6 597.0,469.6 597.1,506.1 597.3,469.6 597.4,469.6 597.5,469.6 597.6,469.6 597.8,469.6 597.9,469.6 598.0,469.6 598.2,469.6 598.3,469.6 598.4,469.6 598.6,469.6 598.7,469.6 598.8,506.1 598.9,506.1 599.1,506.1 599.2,469.6 599.3,469.6 599.5,469.6 599.6,469.6 599.7,469.6 599.9,506.1 600.0,506.1 600.1,506.1 600.2,506.1 600.4,506.1 600.5,506.1 600.6,506.1 600.8,506.1 600.9,506.1 601.0,506.1 601.2,469.6 601.3,469.6 601.4,469.6 601.5,469.6 601.7,469.6 601.8,469.6 601.9,506.1 602.1,506.1 602.2,506.1 602.3,506.1 602.5,506.1 602.6,506.1 602.7,506.1 602.8,506.1 603.0,506.1 603.1,506.1 603.2,506.1 603.4,506.1 603.5,506.1 603.6,506.1 603.8,506.1 603.9,506.1 604.0,506.1 604.1,506.1 604.3,506.1 604.4,506.1 604.5,506.1 604.7,506.1 604.8,506.1 604.9,506.1 605.1,506.1 605.2,469.6 605.3,506.1 605.4,469.6 605.6,469.6 605.7,469.6 605.8,506.1 606.0,506.1 606.1,469.6 606.2,469.6 606.4,469.6 606.5,469.6 606.6,469.6 606.7,469.6 606.9,469.6 607.0,469.6 607.1,506.1 607.3,506.1 607.4,506.1 607.5,469.6 607.7,506.1 607.8,506.1 607.9,506.1 608.0,506.1 608.2,506.1 608.3,506.1 608.4,506.1 608.6,506.1 608.7,506.1 608.8,506.1 609.0,506.1 609.1,506.1 609.2,506.1 609.3,469.6 609.5,469.6 609.6,469.6 609.7,469.6 609.9,506.1 610.0,506.1 610.1,506.1 610.3,506.1 610.4,506.1 610.5,506.1 610.6,506.1 610.8,506.1 610.9,506.1 611.0,506.1 611.2,506.1 611.3,506.1 611.4,506.1 611.6,506.1 611.7,506.1 611.8,506.1 611.9,469.6 612.1,469.6 612.2,506.1 612.3,506.1 612.5,506.1 612.6,506.1 612.7,506.1 612.9,506.1 613.0,506.1 613.1,506.1 613.2,506.1 613.4,506.1 613.5,506.1 613.6,506.1 613.8,506.1 613.9,506.1 614.0,506.1 614.2,506.1 614.3,506.1 614.4,506.1 614.5,506.1 614.7,506.1 614.8,506.1 614.9,469.6 615.1,469.6 615.2,469.6 615.3,469.6 615.5,469.6 615.6,469.6 615.7,469.6 615.8,469.6 616.0,469.6 616.1,469.6 616.2,469.6 616.4,506.1 616.5,506.1 616.6,506.1 616.8,506.1 616.9,506.1 617.0,506.1 617.1,506.1 617.3,506.1 617.4,506.1 617.5,506.1 617.7,506.1 617.8,506.1 617.9,506.1 618.1,506.1 618.2,506.1 618.3,506.1 618.4,506.1 618.6,506.1 618.7,506.1 618.8,469.6 619.0,506.1 619.1,506.1 619.2,506.1 619.4,506.1 619.5,506.1 619.6,506.1 619.7,506.1 619.9,506.1 620.0,469.6 620.1,506.1 620.3,506.1 620.4,506.1 620.5,506.1 620.7,506.1 620.8,506.1 620.9,506.1 621.0,506.1 621.2,506.1 621.3,506.1 621.4,506.1 621.6,506.1 621.7,506.1 621.8,506.1 622.0,506.1 622.1,506.1 622.2,506.1 622.3,506.1 622.5,506.1 622.6,506.1 622.7,506.1 622.9,506.1 623.0,469.6 623.1,469.6 623.3,469.6 623.4,469.6 623.5,469.6 623.6,506.1 623.8,506.1 623.9,506.1 624.0,506.1 624.2,469.6 624.3,469.6 624.4,469.6 624.6,469.6 624.7,469.6 624.8,506.1 624.9,506.1 625.1,506.1 625.2,506.1 625.3,469.6 625.5,469.6 625.6,469.6 625.7,506.1 625.9,469.6 626.0,506.1 626.1,506.1 626.2,506.1 626.4,469.6 626.5,506.1 626.6,506.1 626.8,506.1 626.9,506.1 627.0,469.6 627.2,469.6 627.3,469.6 627.4,469.6 627.5,506.1 627.7,469.6 627.8,506.1 627.9,506.1 628.1,506.1 628.2,506.1 628.3,506.1 628.5,506.1 628.6,506.1 628.7,469.6 628.8,506.1 629.0,469.6 629.1,469.6 629.2,469.6 629.4,469.6 629.5,469.6 629.6,469.6 629.8,506.1 629.9,506.1 630.0,469.6 630.1,469.6 630.3,469.6 630.4,469.6 630.5,469.6 630.7,469.6 630.8,506.1 630.9,506.1 631.1,506.1 631.2,506.1 631.3,469.6 631.4,506.1 631.6,506.1 631.7,506.1 631.8,506.1 632.0,469.6 632.1,506.1 632.2,469.6 632.4,506.1 632.5,506.1 632.6,506.1 632.7,506.1 632.9,506.1 633.0,506.1 633.1,469.6 633.3,506.1 633.4,506.1 633.5,469.6 633.7,506.1 633.8,506.1 633.9,506.1 634.0,506.1 634.2,506.1 634.3,506.1 634.4,506.1 634.6,506.1 634.7,506.1 634.8,506.1 635.0,506.1 635.1,506.1 635.2,469.6 635.3,469.6 635.5,469.6 635.6,469.6 635.7,506.1 635.9,506.1 636.0,469.6 636.1,506.1 636.3,506.1 636.4,469.6 636.5,469.6 636.6,469.6 636.8,469.6 636.9,469.6 637.0,469.6 637.2,469.6 637.3,469.6 637.4,469.6 637.6,469.6 637.7,469.6 637.8,469.6 637.9,469.6 638.1,469.6 638.2,469.6 638.3,469.6 638.5,469.6 638.6,469.6 638.7,469.6 638.9,469.6 639.0,469.6 639.1,469.6 639.2,469.6 639.4,469.6 639.5,506.1 639.6,506.1 639.8,469.6 639.9,506.1 640.0,506.1 640.2,469.6 640.3,469.6 640.4,469.6 640.5,469.6 640.7,469.6 640.8,469.6 640.9,469.6 641.1,469.6 641.2,469.6 641.3,469.6 641.5,469.6 641.6,469.6 641.7,506.1 641.8,469.6 642.0,469.6 642.1,469.6 642.2,469.6 642.4,469.6 642.5,469.6 642.6,506.1 642.8,469.6 642.9,469.6 643.0,469.6 643.1,469.6 643.3,469.6 643.4,469.6 643.5,469.6 643.7,469.6 643.8,506.1 643.9,506.1 644.1,506.1 644.2,469.6 644.3,506.1 644.4,506.1 644.6,506.1 644.7,506.1 644.8,469.6 645.0,506.1 645.1,506.1 645.2,506.1 645.4,506.1 645.5,506.1 645.6,506.1 645.7,506.1 645.9,506.1 646.0,506.1 646.1,506.1 646.3,506.1 646.4,506.1 646.5,506.1 646.7,506.1 646.8,506.1 646.9,506.1 647.0,506.1 647.2,506.1 647.3,506.1 647.4,469.6 647.6,506.1 647.7,506.1 647.8,506.1 648.0,469.6 648.1,469.6 648.2,469.6 648.3,469.6 648.5,469.6 648.6,469.6 648.7,506.1 648.9,469.6 649.0,469.6 649.1,469.6 649.3,469.6 649.4,469.6 649.5,506.1 649.6,506.1 649.8,506.1 649.9,506.1 650.0,469.6 650.2,469.6 650.3,469.6 650.4,469.6 650.6,469.6 650.7,506.1 650.8,506.1 650.9,506.1 651.1,506.1 651.2,506.1 651.3,506.1 651.5,506.1 651.6,506.1 651.7,506.1 651.9,506.1 652.0,506.1 652.1,506.1 652.2,506.1 652.4,506.1 652.5,506.1 652.6,506.1 652.8,506.1 652.9,506.1 653.0,469.6 653.2,469.6 653.3,469.6 653.4,469.6 653.5,469.6 653.7,469.6 653.8,506.1 653.9,506.1 654.1,506.1 654.2,506.1 654.3,506.1 654.5,506.1 654.6,506.1 654.7,506.1 654.8,506.1 655.0,506.1 655.1,506.1 655.2,506.1 655.4,506.1 655.5,506.1 655.6,506.1 655.8,506.1 655.9,506.1 656.0,506.1 656.1,506.1 656.3,506.1 656.4,469.6 656.5,469.6 656.7,469.6 656.8,469.6 656.9,469.6 657.1,469.6 657.2,469.6 657.3,469.6 657.4,506.1 657.6,506.1 657.7,506.1 657.8,506.1 658.0,506.1 658.1,506.1 658.2,506.1 658.4,469.6 658.5,506.1 658.6,506.1 658.7,469.6 658.9,469.6 659.0,506.1 659.1,469.6 659.3,469.6 659.4,506.1 659.5,469.6 659.7,469.6 659.8,469.6 659.9,469.6 660.0,469.6 660.2,469.6 660.3,506.1 660.4,506.1 660.6,469.6 660.7,469.6 660.8,506.1 661.0,469.6 661.1,469.6 661.2,469.6 661.3,469.6 661.5,469.6 661.6,469.6 661.7,469.6 661.9,469.6 662.0,469.6 662.1,469.6 662.3,506.1 662.4,506.1 662.5,506.1 662.6,469.6 662.8,469.6 662.9,469.6 663.0,506.1 663.2,506.1 663.3,506.1 663.4,506.1 663.6,506.1 663.7,506.1 663.8,506.1 663.9,506.1 664.1,506.1 664.2,506.1 664.3,506.1 664.5,469.6 664.6,506.1 664.7,469.6 664.9,506.1 665.0,506.1 665.1,506.1 665.2,506.1 665.4,506.1 665.5,506.1 665.6,506.1 665.8,506.1 665.9,506.1 666.0,506.1 666.2,506.1 666.3,506.1 666.4,506.1 666.5,506.1 666.7,506.1 666.8,506.1 666.9,506.1 667.1,506.1 667.2,506.1 667.3,506.1 667.5,506.1 667.6,506.1 667.7,506.1 667.8,506.1 668.0,506.1 668.1,506.1 668.2,506.1 668.4,506.1 668.5,506.1 668.6,506.1 668.8,506.1 668.9,506.1 669.0,506.1 669.1,506.1 669.3,506.1 669.4,506.1 669.5,506.1 669.7,506.1 669.8,506.1 669.9,506.1 670.1,469.6 670.2,506.1 670.3,506.1 670.4,506.1 670.6,469.6 670.7,469.6 670.8,469.6 671.0,469.6 671.1,506.1 671.2,506.1 671.4,506.1 671.5,506.1 671.6,506.1 671.7,506.1 671.9,506.1 672.0,506.1 672.1,506.1 672.3,506.1 672.4,506.1 672.5,506.1 672.7,506.1 672.8,506.1 672.9,506.1 673.0,506.1 673.2,506.1 673.3,506.1 673.4,469.6 673.6,506.1 673.7,506.1 673.8,506.1 674.0,469.6 674.1,469.6 674.2,506.1 674.3,506.1 674.5,469.6 674.6,469.6 674.7,469.6 674.9,506.1 675.0,469.6 675.1,469.6 675.3,469.6 675.4,469.6 675.5,469.6 675.6,506.1 675.8,506.1 675.9,506.1 676.0,506.1 676.2,506.1 676.3,506.1 676.4,469.6 676.6,469.6 676.7,506.1 676.8,506.1 676.9,506.1 677.1,506.1 677.2,506.1 677.3,506.1 677.5,469.6 677.6,469.6 677.7,506.1 677.9,506.1 678.0,506.1 678.1,506.1 678.2,506.1 678.4,469.6 678.5,506.1 678.6,506.1 678.8,469.6 678.9,469.6 679.0,469.6 679.2,469.6 679.3,469.6 679.4,469.6 679.5,469.6 679.7,469.6 679.8,469.6 679.9,469.6 680.1,469.6 680.2,469.6 680.3,469.6 680.5,469.6 680.6,469.6 680.7,469.6 680.8,506.1 681.0,506.1 681.1,506.1 681.2,506.1 681.4,506.1 681.5,506.1 681.6,469.6 681.8,469.6 681.9,469.6 682.0,506.1 682.1,506.1 682.3,506.1 682.4,506.1 682.5,506.1 682.7,506.1 682.8,506.1 682.9,506.1 683.1,506.1 683.2,506.1 683.3,506.1 683.4,506.1 683.6,506.1 683.7,506.1 683.8,506.1 684.0,506.1 684.1,506.1 684.2,469.6 684.4,469.6 684.5,506.1 684.6,506.1 684.7,469.6 684.9,506.1 685.0,506.1 685.1,506.1 685.3,469.6 685.4,506.1 685.5,506.1 685.7,506.1 685.8,506.1 685.9,506.1 686.0,506.1 686.2,506.1 686.3,506.1 686.4,506.1 686.6,506.1 686.7,506.1 686.8,506.1 687.0,506.1 687.1,506.1 687.2,506.1 687.3,506.1 687.5,469.6 687.6,469.6 687.7,469.6 687.9,469.6 688.0,506.1 688.1,506.1 688.3,506.1 688.4,506.1 688.5,506.1 688.6,506.1 688.8,506.1 688.9,469.6 689.0,506.1 689.2,469.6 689.3,506.1 689.4,506.1 689.6,506.1 689.7,506.1 689.8,506.1 689.9,506.1 690.1,506.1 690.2,506.1 690.3,469.6 690.5,506.1 690.6,506.1 690.7,469.6 690.9,469.6 691.0,506.1 691.1,506.1 691.2,506.1 691.4,506.1 691.5,469.6 691.6,469.6 691.8,469.6 691.9,506.1 692.0,506.1 692.2,506.1 692.3,506.1 692.4,506.1 692.5,506.1 692.7,506.1 692.8,506.1 692.9,506.1 693.1,506.1 693.2,506.1 693.3,506.1 693.5,506.1 693.6,506.1 693.7,506.1 693.8,469.6 694.0,469.6 694.1,506.1 694.2,469.6 694.4,506.1 694.5,506.1 694.6,469.6 694.8,506.1 694.9,506.1 695.0,506.1 695.1,469.6 695.3,469.6 695.4,469.6 695.5,506.1 695.7,506.1 695.8,506.1 695.9,506.1 696.1,469.6 696.2,469.6 696.3,469.6 696.4,469.6 696.6,506.1 696.7,506.1 696.8,506.1 697.0,469.6 697.1,469.6 697.2,506.1 697.4,469.6 697.5,469.6 697.6,469.6 697.7,506.1 697.9,506.1 698.0,506.1 698.1,469.6 698.3,469.6 698.4,506.1 698.5,469.6 698.7,469.6 698.8,469.6 698.9,506.1 699.0,506.1 699.2,506.1 699.3,506.1 699.4,506.1 699.6,469.6 699.7,506.1 699.8,506.1 700.0,506.1 700.1,506.1 700.2,506.1 700.3,506.1 700.5,506.1 700.6,469.6 700.7,506.1 700.9,506.1 701.0,469.6 701.1,506.1 701.3,506.1 701.4,506.1 701.5,506.1 701.6,506.1 701.8,506.1 701.9,506.1 702.0,506.1 702.2,506.1 702.3,506.1 702.4,469.6 702.6,506.1 702.7,506.1 702.8,469.6 702.9,469.6 703.1,469.6 703.2,506.1 703.3,506.1 703.5,506.1 703.6,506.1 703.7,506.1 703.9,506.1 704.0,469.6 704.1,469.6 704.2,469.6 704.4,469.6 704.5,469.6 704.6,506.1 704.8,506.1 704.9,506.1 705.0,506.1 705.2,506.1 705.3,469.6 705.4,469.6 705.5,469.6 705.7,469.6 705.8,469.6 705.9,506.1 706.1,506.1 706.2,506.1 706.3,506.1 706.5,506.1 706.6,506.1 706.7,506.1 706.8,506.1 707.0,469.6 707.1,469.6 707.2,469.6 707.4,469.6 707.5,469.6 707.6,506.1 707.8,506.1 707.9,506.1 708.0,506.1 708.1,506.1 708.3,506.1 708.4,506.1 708.5,506.1 708.7,506.1 708.8,506.1 708.9,506.1 709.1,506.1 709.2,506.1 709.3,506.1 709.4,506.1 709.6,506.1 709.7,506.1 709.8,506.1 710.0,506.1 710.1,506.1 710.2,469.6 710.4,469.6 710.5,469.6 710.6,469.6 710.7,469.6 710.9,506.1 711.0,506.1 711.1,506.1 711.3,469.6 711.4,469.6 711.5,469.6 711.7,469.6 711.8,469.6 711.9,469.6 712.0,506.1 712.2,506.1 712.3,506.1 712.4,469.6 712.6,469.6 712.7,506.1 712.8,506.1 713.0,506.1 713.1,506.1 713.2,469.6 713.3,469.6 713.5,506.1 713.6,506.1 713.7,469.6 713.9,469.6 714.0,469.6 714.1,469.6 714.3,469.6 714.4,506.1 714.5,506.1 714.6,506.1 714.8,469.6 714.9,506.1 715.0,469.6 715.2,469.6 715.3,469.6 715.4,506.1 715.6,506.1 715.7,506.1 715.8,506.1 715.9,506.1 716.1,506.1 716.2,506.1 716.3,506.1 716.5,469.6 716.6,469.6 716.7,469.6 716.9,469.6 717.0,469.6 717.1,469.6 717.2,506.1 717.4,506.1 717.5,506.1 717.6,506.1 717.8,506.1 717.9,506.1 718.0,506.1 718.2,506.1 718.3,506.1 718.4,506.1 718.5,469.6 718.7,469.6 718.8,506.1 718.9,469.6 719.1,469.6 719.2,469.6 719.3,506.1 719.5,506.1 719.6,506.1 719.7,506.1 719.8,506.1 720.0,506.1 720.1,506.1 720.2,506.1" fill="none" stroke="#006400" stroke-width="1.2" stroke-linejoin="miter" stroke-miterlimit="2"/></g>
<path d="M153.40 540.00v-5.5M153.40 435.65v5.5M291.15 540.00v-5.5M291.15 435.65v5.5M428.90 540.00v-5.5M428.90 435.65v5.5M566.65 540.00v-5.5M566.65 435.65v5.5M704.40 540.00v-5.5M704.40 435.65v5.5M100.00 522.61h6.9M720.00 522.61h-6.3M100.00 505.22h6.9M720.00 505.22h-6.3M100.00 487.83h6.9M720.00 487.83h-6.3M100.00 470.43h6.9M720.00 470.43h-6.3M100.00 453.04h6.9M720.00 453.04h-6.3" stroke="#3c3c3c" stroke-width="1" fill="none" shape-rendering="crispEdges"/>
<rect x="100.00" y="435.65" width="620.00" height="104.35" fill="none" stroke="#000" stroke-width="1.39"/>
<text x="154.80" y="556.40" text-anchor="middle" style="letter-spacing:-0.8px">15:00</text><text x="153.60" y="570.40" text-anchor="middle" style="letter-spacing:-0.65px">Apr 30</text>
<text x="290.95" y="556.40" text-anchor="middle" style="letter-spacing:-0.8px">23:00</text><text x="291.35" y="570.40" text-anchor="middle" style="letter-spacing:-0.65px">Apr 30</text>
<text x="429.20" y="556.40" text-anchor="middle" style="letter-spacing:-0.8px">07:00</text><text x="428.60" y="570.40" text-anchor="middle" style="letter-spacing:-0.45px">May 01</text>
<text x="568.05" y="556.40" text-anchor="middle" style="letter-spacing:-0.8px">15:00</text><text x="566.35" y="570.40" text-anchor="middle" style="letter-spacing:-0.45px">May 01</text>
<text x="704.20" y="556.40" text-anchor="middle" style="letter-spacing:-0.8px">23:00</text><text x="704.10" y="570.40" text-anchor="middle" style="letter-spacing:-0.45px">May 01</text>
<text x="96.70" y="544.20" text-anchor="end">-1.0</text><text x="96.70" y="526.81" text-anchor="end">-0.5</text><text x="96.70" y="509.42" text-anchor="end">0.0</text><text x="96.70" y="492.03" text-anchor="end">0.5</text><text x="96.70" y="474.63" text-anchor="end">1.0</text><text x="96.70" y="457.24" text-anchor="end">1.5</text><text x="96.70" y="439.85" text-anchor="end">2.0</text>
<text transform="translate(57.00 487.23) rotate(-90)" text-anchor="middle" style="letter-spacing:-0.07px">High flow Bool</text>
</g>
<text x="410.3" y="592" text-anchor="middle" style="letter-spacing:-0.16px">Date (GMT)</text>
</svg>
</body></html>
